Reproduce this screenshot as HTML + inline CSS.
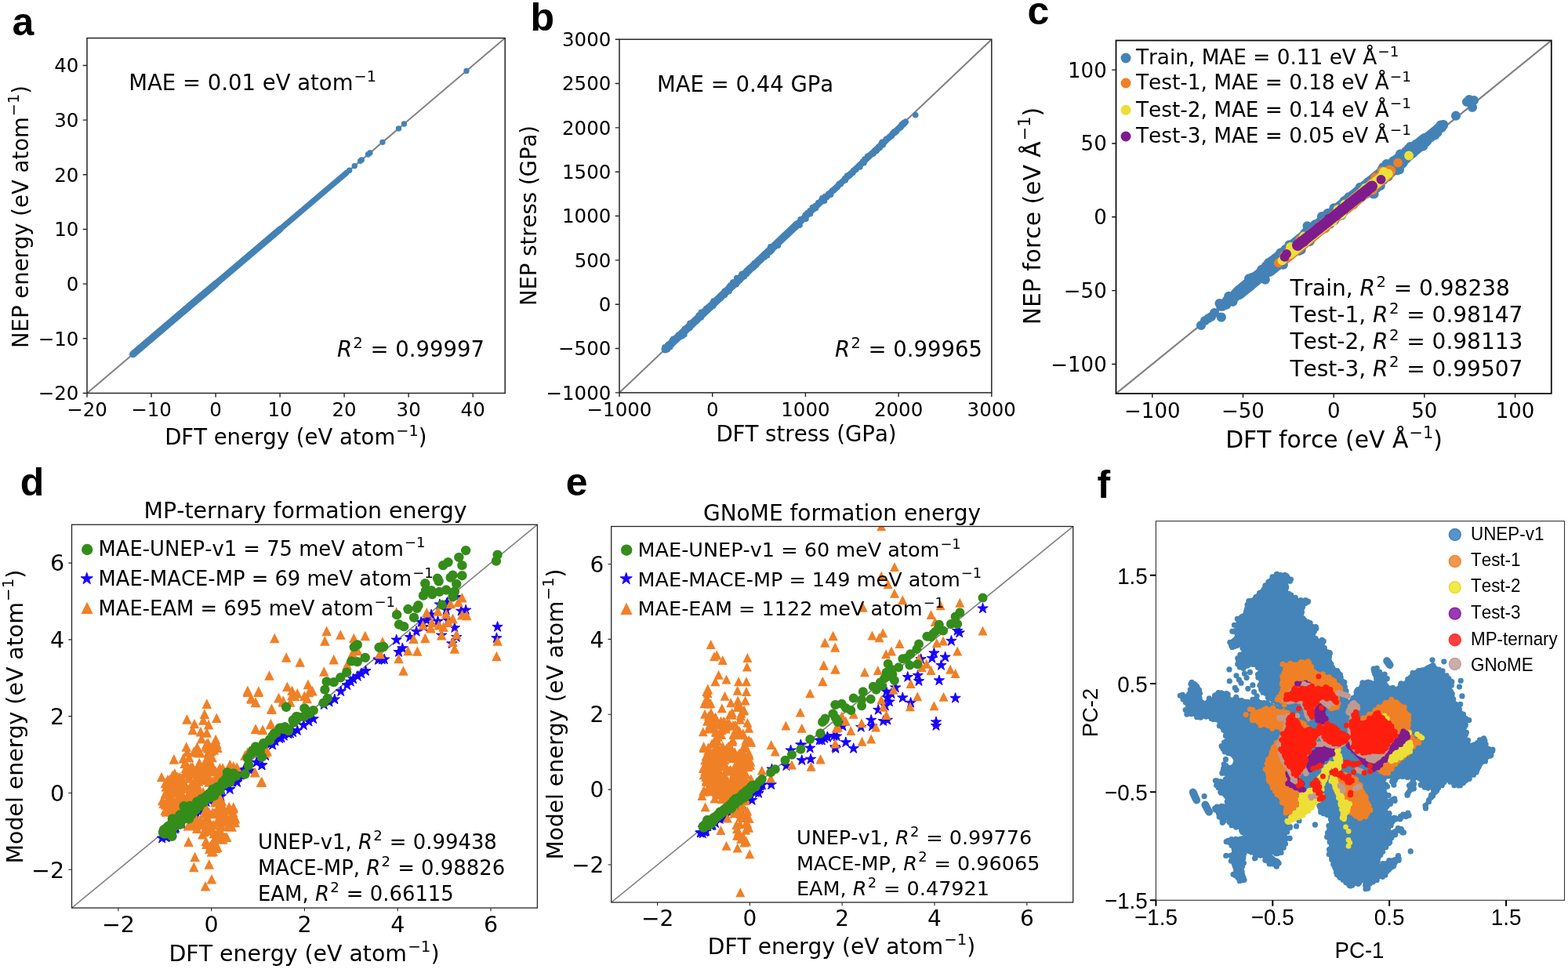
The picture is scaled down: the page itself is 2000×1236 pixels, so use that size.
<!DOCTYPE html>
<html lang="en"><head><meta charset="utf-8"><title>Figure</title>
<style>html,body{margin:0;padding:0;background:#fff}svg{display:block}text{white-space:pre;font-kerning:none}</style></head><body>
<svg width="2000" height="1236" viewBox="0 0 2000 1236">
<rect width="2000" height="1236" fill="#fff"/>
<text x="15.5" y="44.5" font-size="50" text-anchor="start" font-family='"Liberation Sans", "DejaVu Sans", sans-serif' font-weight="bold" fill="#000">a</text>
<text x="676.5" y="39" font-size="50" text-anchor="start" font-family='"Liberation Sans", "DejaVu Sans", sans-serif' font-weight="bold" fill="#000">b</text>
<text x="1310.5" y="31" font-size="50" text-anchor="start" font-family='"Liberation Sans", "DejaVu Sans", sans-serif' font-weight="bold" fill="#000">c</text>
<text x="25.7" y="631.5" font-size="50" text-anchor="start" font-family='"Liberation Sans", "DejaVu Sans", sans-serif' font-weight="bold" fill="#000">d</text>
<text x="721.7" y="632" font-size="50" text-anchor="start" font-family='"Liberation Sans", "DejaVu Sans", sans-serif' font-weight="bold" fill="#000">e</text>
<text x="1399.5" y="634.5" font-size="50" text-anchor="start" font-family='"Liberation Sans", "DejaVu Sans", sans-serif' font-weight="bold" fill="#000">f</text>
<clipPath id="cA"><rect x="111" y="48.6" width="533.2" height="452.9"/></clipPath><g clip-path="url(#cA)">
<line x1="111" y1="501.5" x2="644.2" y2="48.6" stroke="#808080" stroke-width="2"/>
<line x1="169.24" y1="452.03" x2="441.58" y2="220.7" stroke="#4482b6" stroke-width="7.4" stroke-linecap="round"/>
<line x1="169.65" y1="451.68" x2="275.06" y2="362.15" stroke="#4482b6" stroke-width="9.2" stroke-linecap="round"/>
<line x1="234.05" y1="396.98" x2="357.09" y2="292.47" stroke="#4482b6" stroke-width="8.4" stroke-linecap="round"/>
<path d="M445.69 217.22h0M452.25 211.64h0M459.63 205.37h0M461.27 203.98h0M469.47 197.01h0M471.94 194.92h0M487.93 181.33h0M508.44 163.92h0M515.41 157.99h0M594.98 90.41h0" stroke="#4482b6" stroke-width="7.4" stroke-linecap="round" fill="none"/>
</g>
<rect x="111" y="48.6" width="533.2" height="452.9" fill="none" stroke="#262626" stroke-width="1.5"/>
<path d="M111 501.5v5.3M193.03 501.5v5.3M275.06 501.5v5.3M357.09 501.5v5.3M439.12 501.5v5.3M521.15 501.5v5.3M603.18 501.5v5.3M111 501.5h-5.3M111 431.82h-5.3M111 362.15h-5.3M111 292.47h-5.3M111 222.79h-5.3M111 153.12h-5.3M111 83.44h-5.3" stroke="#262626" stroke-width="1.4" fill="none"/>
<text x="111" y="530.8" font-size="24.5" text-anchor="middle" font-family='"DejaVu Sans", "Liberation Sans", sans-serif' fill="#000">−20</text>
<text x="193.03" y="530.8" font-size="24.5" text-anchor="middle" font-family='"DejaVu Sans", "Liberation Sans", sans-serif' fill="#000">−10</text>
<text x="275.06" y="530.8" font-size="24.5" text-anchor="middle" font-family='"DejaVu Sans", "Liberation Sans", sans-serif' fill="#000">0</text>
<text x="357.09" y="530.8" font-size="24.5" text-anchor="middle" font-family='"DejaVu Sans", "Liberation Sans", sans-serif' fill="#000">10</text>
<text x="439.12" y="530.8" font-size="24.5" text-anchor="middle" font-family='"DejaVu Sans", "Liberation Sans", sans-serif' fill="#000">20</text>
<text x="521.15" y="530.8" font-size="24.5" text-anchor="middle" font-family='"DejaVu Sans", "Liberation Sans", sans-serif' fill="#000">30</text>
<text x="603.18" y="530.8" font-size="24.5" text-anchor="middle" font-family='"DejaVu Sans", "Liberation Sans", sans-serif' fill="#000">40</text>
<text x="100.4" y="510.43" font-size="24.5" text-anchor="end" font-family='"DejaVu Sans", "Liberation Sans", sans-serif' fill="#000">−20</text>
<text x="100.4" y="440.75" font-size="24.5" text-anchor="end" font-family='"DejaVu Sans", "Liberation Sans", sans-serif' fill="#000">−10</text>
<text x="100.4" y="371.08" font-size="24.5" text-anchor="end" font-family='"DejaVu Sans", "Liberation Sans", sans-serif' fill="#000">0</text>
<text x="100.4" y="301.4" font-size="24.5" text-anchor="end" font-family='"DejaVu Sans", "Liberation Sans", sans-serif' fill="#000">10</text>
<text x="100.4" y="231.72" font-size="24.5" text-anchor="end" font-family='"DejaVu Sans", "Liberation Sans", sans-serif' fill="#000">20</text>
<text x="100.4" y="162.05" font-size="24.5" text-anchor="end" font-family='"DejaVu Sans", "Liberation Sans", sans-serif' fill="#000">30</text>
<text x="100.4" y="92.37" font-size="24.5" text-anchor="end" font-family='"DejaVu Sans", "Liberation Sans", sans-serif' fill="#000">40</text>
<text x="164.3" y="115" font-size="27.5" text-anchor="start" font-family='"DejaVu Sans", "Liberation Sans", sans-serif' fill="#000">MAE = 0.01 eV atom<tspan dy="-11.27" dx="1.1" font-size="19.25">−1</tspan></text>
<text x="430" y="455" font-size="27.5" text-anchor="start" font-family='"DejaVu Sans", "Liberation Sans", sans-serif' fill="#000"><tspan font-style="italic">R</tspan><tspan dy="-11.27" dx="1.38" font-size="19.25">2</tspan><tspan dy="11.27" dx="0.96"> = 0.99997</tspan></text>
<text x="377.3" y="567.3" font-size="27.5" text-anchor="middle" font-family='"DejaVu Sans", "Liberation Sans", sans-serif' fill="#000">DFT energy (eV atom<tspan dy="-11.27" dx="1.1" font-size="19.25">−1</tspan><tspan dy="11.27">)</tspan></text>
<text x="35.5" y="276.5" font-size="27.5" text-anchor="middle" font-family='"DejaVu Sans", "Liberation Sans", sans-serif' transform="rotate(-90 35.5 276.5)" fill="#000">NEP energy (eV atom<tspan dy="-11.27" dx="1.1" font-size="19.25">−1</tspan><tspan dy="11.27">)</tspan></text>
<clipPath id="cB"><rect x="790" y="50.2" width="474.8" height="450.7"/></clipPath><g clip-path="url(#cB)">
<line x1="790" y1="500.9" x2="1264.8" y2="50.2" stroke="#808080" stroke-width="2"/>
<line x1="848.5" y1="445.5" x2="1155" y2="155.5" stroke="#4482b6" stroke-width="8" stroke-linecap="round"/>
<line x1="848.5" y1="445.5" x2="1017.08" y2="286" stroke="#4482b6" stroke-width="10" stroke-linecap="round"/>
<path d="M1138.71 170.53h0M864.49 430.58h0M1095.62 211.85h0M924.42 376.25h0M1017.29 287.35h0M882.83 414.53h0M961.07 341.06h0M1152.52 156.69h0M1137.11 173.68h0M911.95 385.99h0M853.11 439.03h0M925.98 371.86h0M943.68 353.84h0M1002.11 301.35h0M901.94 393.37h0M876.52 418.74h0M984.01 314.91h0M888.15 408.01h0M1115.99 191.82h0M1121.94 188.72h0M1069.85 235.75h0M1148.55 162.67h0M1140.51 168.15h0M1052.48 250.5h0M970.58 331.85h0M1127.7 181.6h0M981.82 318.63h0M1112.95 196.32h0M1119.27 190.87h0M1125.74 182.8h0M1056.94 249.27h0M927.91 370.26h0M1047.35 255.79h0M910 383.98h0M1123.27 186.66h0M1048.75 252.71h0M984.42 319.19h0M1010.67 292.31h0M923.94 373.58h0M1130.24 177.52h0M1021.07 279.76h0M1056.61 247.41h0M1120.99 186.94h0M857.25 434.29h0M1032.34 271.71h0M1109.35 197.8h0M871.12 427.74h0M905.38 392.17h0M895.04 400.07h0M1054.6 251.5h0M853.78 441.26h0M1038.65 264.91h0M863.74 430.67h0M1058.44 246.95h0M851.56 442.73h0M880.07 412.25h0M888.95 407.87h0M856.43 439.75h0M1151.23 158.88h0M933.54 364.66h0M1019.63 283.62h0M932.08 367.26h0M854.75 442.68h0M1061.66 243.06h0M1119.28 189.21h0M1051.52 256.23h0M973.06 327.28h0M924.25 371.3h0M870.12 428.66h0M873.78 420.36h0M1010.27 293.87h0M877.72 416.47h0M1140.3 169.51h0M955.52 341.98h0M851.47 443.68h0M858.49 436.42h0M853.49 440.32h0M1025.97 277.02h0M982.72 314.82h0M1153.13 157.55h0M902.36 395.82h0M1011.44 290.94h0M1022.23 280.39h0M909.74 390.21h0M957.74 342.3h0M854.1 440.24h0M952.23 345.31h0M903.11 391.98h0M867.5 426.95h0M897 398.42h0M989.24 313.66h0M1028.36 275.04h0M894.34 398.26h0M1059.22 248.11h0M962.07 340.21h0M857.26 437.39h0M956.63 344.23h0M866.5 428.66h0M1084.47 223.31h0M1125.79 182.03h0M1018.56 285.65h0M939.78 354.43h0M851.32 443.18h0M922.86 375.88h0M1097.41 210.1h0M966.64 333.98h0M954.41 346.42h0M1010.76 291.88h0M862.12 433h0M1130.78 177.27h0M862.51 432.2h0M1005.64 297.82h0M949.42 352.74h0M948.73 350.02h0M872.71 422.04h0M1100.54 206.67h0M1027.15 274.28h0M852.47 442.48h0M1034.18 269.42h0M982.51 321.22h0M939.19 362.63h0M911.47 385.08h0M992.31 313.3h0M1084.3 221.93h0M1129.92 178.7h0M902.13 396.05h0M978.38 322.71h0M1040.4 262.41h0M1126.28 184.63h0M867.79 429.03h0M936.79 361.01h0M955.73 344.05h0M858.7 432.39h0M1150.19 158.78h0M1030.21 272.72h0M900.97 394.77h0M1038.62 266.27h0M990.4 312.78h0M872.88 426.86h0M1067.96 238.71h0M868.43 429.61h0M908.75 388.79h0M1117.71 192.68h0M951.53 347.38h0M1153.06 157.03h0M879.83 418.23h0M962.23 335.73h0M1111.91 195.96h0M888.81 409.46h0M952.14 347.56h0M1050.85 252.01h0M973.64 328.07h0M1141.55 169.19h0M1033.09 268.73h0M1069.27 236.03h0M1022.05 282.15h0M952.55 349.34h0M1027.93 279.26h0M851.44 445.68h0M1112.35 195.42h0M1031.25 272.48h0M1134.34 175.25h0M1059.6 248.15h0M1113.94 196.05h0M867.3 426.42h0M894.22 405.08h0M1063.91 242.46h0M1084.7 222.47h0M877.68 419.39h0M908.22 390.23h0M1003.85 299.53h0M1142.74 166.93h0M860.63 431.84h0M1096.13 211.18h0M1034.09 269.85h0M1040.51 265.49h0M931.08 367.58h0M851.49 440.42h0M863.24 431.53h0M1066.04 240.53h0M1078.35 229.7h0M1078.01 227.2h0M1105.44 201.88h0M944.61 353.81h0M970.71 329.93h0M1000.4 301.57h0M1143.36 167.5h0M944.41 353.2h0M963.33 335.88h0M1031.42 273.34h0M978.46 325.99h0M863.07 432.72h0M1091.91 215.83h0M1080.63 224.05h0M1033.53 272.63h0M865.09 427.55h0M1026.37 278.62h0M1100.53 206.04h0M1082.64 224.76h0M902.4 395.62h0M968.36 331.94h0M1139.05 169.63h0M870.27 424.14h0M940.58 359.88h0M925.28 371.16h0M883.68 411.26h0M964.02 337.11h0M1125.19 181.19h0M964.77 337.9h0M929.95 371.5h0M867.69 427.25h0M1040.46 262.94h0M943.53 357.45h0M900.66 393.64h0M1086.45 221.26h0M1091.79 216.3h0M931.74 363.91h0M984 319.8h0M1043.73 258.54h0M1066.23 240.21h0M1106.6 199.33h0M1147.7 163.18h0M919.29 380.4h0M941.56 359.21h0M948.14 349.31h0M934.75 360.08h0M974.06 325.89h0M1140.83 169.38h0M873.43 420.21h0M938.06 360.48h0M1124.19 183.1h0M962.75 339.26h0M995.57 306.1h0M945.91 350.17h0M916.68 381.64h0M925.9 373.02h0M1127.77 180.7h0M893.81 402.07h0M907.44 390.92h0M932.97 364.95h0M905.52 391.4h0M930.26 365.78h0M942.26 356.72h0M878.79 417.49h0M1102 207.68h0M874.99 419.06h0M988.9 311.85h0M1072.36 234.71h0M1020.03 287.28h0M946.45 349.28h0M974.08 327.71h0M1096.69 211.45h0M1014.52 290.02h0M1149.85 161.14h0M1150.59 158.98h0M954.96 346.31h0M989.52 311.35h0M1153.18 157.07h0M873.26 419.48h0M1124.4 185.17h0M863.29 432.67h0M847.94 442.8h0M869.57 426.25h0M878.71 416h0M1036.35 264.52h0M1030 271.64h0M856.3 436.98h0M976.35 325.24h0M1000.36 300.64h0M858.18 434.62h0M891.36 402.01h0M989.99 313.06h0M1041.8 262.05h0M979.7 321.99h0M875.1 419.67h0M895.8 400.17h0M857.36 436.72h0M1021.39 280.49h0M1102.92 203.09h0M984.9 317.87h0M1124.58 183.98h0M1089.01 217.4h0M1023.41 279.65h0M919.2 376.96h0M960.84 340.7h0M1081.91 224.07h0M1087.74 220.52h0M916.68 381.75h0M1070.37 234.59h0M1049.38 255.52h0M1048.05 256.88h0M998.8 303.61h0M893.06 402.52h0M1028.72 273.17h0M1023.08 280.43h0M975.25 328.08h0M856.23 437.7h0M1096.73 213.04h0M1013.42 288.48h0M869.64 425.2h0M1167.7 146.8h0" stroke="#4482b6" stroke-width="7.6" stroke-linecap="round" fill="none"/>
</g>
<rect x="790" y="50.2" width="474.8" height="450.7" fill="none" stroke="#262626" stroke-width="1.5"/>
<path d="M790 500.9v5.3M908.7 500.9v5.3M1027.4 500.9v5.3M1146.1 500.9v5.3M1264.8 500.9v5.3M790 500.9h-5.3M790 444.56h-5.3M790 388.22h-5.3M790 331.89h-5.3M790 275.55h-5.3M790 219.21h-5.3M790 162.88h-5.3M790 106.54h-5.3M790 50.2h-5.3" stroke="#262626" stroke-width="1.4" fill="none"/>
<text x="790" y="530.8" font-size="24.5" text-anchor="middle" font-family='"DejaVu Sans", "Liberation Sans", sans-serif' fill="#000">−1000</text>
<text x="908.7" y="530.8" font-size="24.5" text-anchor="middle" font-family='"DejaVu Sans", "Liberation Sans", sans-serif' fill="#000">0</text>
<text x="1027.4" y="530.8" font-size="24.5" text-anchor="middle" font-family='"DejaVu Sans", "Liberation Sans", sans-serif' fill="#000">1000</text>
<text x="1146.1" y="530.8" font-size="24.5" text-anchor="middle" font-family='"DejaVu Sans", "Liberation Sans", sans-serif' fill="#000">2000</text>
<text x="1264.8" y="530.8" font-size="24.5" text-anchor="middle" font-family='"DejaVu Sans", "Liberation Sans", sans-serif' fill="#000">3000</text>
<text x="779.4" y="509.83" font-size="24.5" text-anchor="end" font-family='"DejaVu Sans", "Liberation Sans", sans-serif' fill="#000">−1000</text>
<text x="779.4" y="453.49" font-size="24.5" text-anchor="end" font-family='"DejaVu Sans", "Liberation Sans", sans-serif' fill="#000">−500</text>
<text x="779.4" y="397.16" font-size="24.5" text-anchor="end" font-family='"DejaVu Sans", "Liberation Sans", sans-serif' fill="#000">0</text>
<text x="779.4" y="340.82" font-size="24.5" text-anchor="end" font-family='"DejaVu Sans", "Liberation Sans", sans-serif' fill="#000">500</text>
<text x="779.4" y="284.48" font-size="24.5" text-anchor="end" font-family='"DejaVu Sans", "Liberation Sans", sans-serif' fill="#000">1000</text>
<text x="779.4" y="228.14" font-size="24.5" text-anchor="end" font-family='"DejaVu Sans", "Liberation Sans", sans-serif' fill="#000">1500</text>
<text x="779.4" y="171.81" font-size="24.5" text-anchor="end" font-family='"DejaVu Sans", "Liberation Sans", sans-serif' fill="#000">2000</text>
<text x="779.4" y="115.47" font-size="24.5" text-anchor="end" font-family='"DejaVu Sans", "Liberation Sans", sans-serif' fill="#000">2500</text>
<text x="779.4" y="59.13" font-size="24.5" text-anchor="end" font-family='"DejaVu Sans", "Liberation Sans", sans-serif' fill="#000">3000</text>
<text x="838" y="116.6" font-size="27.5" text-anchor="start" font-family='"DejaVu Sans", "Liberation Sans", sans-serif' fill="#000">MAE = 0.44 GPa</text>
<text x="1065" y="455" font-size="27.5" text-anchor="start" font-family='"DejaVu Sans", "Liberation Sans", sans-serif' fill="#000"><tspan font-style="italic">R</tspan><tspan dy="-11.27" dx="1.38" font-size="19.25">2</tspan><tspan dy="11.27" dx="0.96"> = 0.99965</tspan></text>
<text x="1028.5" y="563" font-size="27.6" text-anchor="middle" font-family='"DejaVu Sans", "Liberation Sans", sans-serif' fill="#000">DFT stress (GPa)</text>
<text x="684" y="275" font-size="27.5" text-anchor="middle" font-family='"DejaVu Sans", "Liberation Sans", sans-serif' transform="rotate(-90 684 275)" fill="#000">NEP stress (GPa)</text>
<clipPath id="cC"><rect x="1423.5" y="51.6" width="555.3" height="450.4"/></clipPath><g clip-path="url(#cC)">
<line x1="1423.5" y1="502" x2="1978.8" y2="51.6" stroke="#808080" stroke-width="2.2"/>
<line x1="1559" y1="390" x2="1840" y2="160" stroke="#4482b6" stroke-width="13.5" stroke-linecap="round"/>
<line x1="1580" y1="373.5" x2="1818" y2="178.5" stroke="#4482b6" stroke-width="17.5" stroke-linecap="round"/>
<line x1="1618" y1="342.5" x2="1786" y2="205" stroke="#4482b6" stroke-width="21" stroke-linecap="round"/>
<path d="M1626.05 337.7h0M1729.2 251.26h0M1734.8 245.44h0M1795.16 196.25h0M1630.31 330.49h0M1686.01 276.09h0M1797.03 199.12h0M1599.54 356.03h0M1736.42 242.11h0M1769.19 220.39h0M1745.76 232.3h0M1724.21 252.6h0M1639.85 317.81h0M1690.93 280.66h0M1759.84 221.98h0M1820.64 178.83h0M1668.87 298.87h0M1824.67 175.34h0M1806.39 185.94h0M1618.28 340.39h0M1833.56 168.84h0M1641.84 320.39h0M1702.33 274.56h0M1722.56 254.09h0M1721.4 253.15h0M1822.53 176.58h0M1798.48 189.31h0M1603.52 353.65h0M1798.77 187.21h0M1719.61 259.75h0M1759.42 224.37h0M1717.5 254.61h0M1635.44 321.89h0M1837.49 159.52h0M1581.72 370.3h0M1601.32 358.11h0M1640.26 322.6h0M1572.51 384.79h0M1729.61 245.59h0M1650.51 313.6h0M1805.9 184.15h0M1841.29 159.1h0M1643.36 317.21h0M1565.01 383.07h0M1614.83 347.56h0M1600.34 353.77h0M1568.22 380.57h0M1830.67 169.27h0M1813.26 184h0M1703.84 268.95h0M1741.72 243.35h0M1734.48 248.3h0M1826.15 174.22h0M1762 223.75h0M1625.88 337.68h0M1701.44 265.42h0M1711.52 261.88h0M1721.89 256.24h0M1564.24 388.71h0M1575.46 379.17h0M1737.63 247.95h0M1656.85 308.78h0M1758.15 226.81h0M1574.54 377.76h0M1748.25 232.67h0M1687.07 285.49h0M1726.21 254.13h0M1644.7 317.12h0M1663.04 306.73h0M1665 304.47h0M1774.85 209.28h0M1765.84 219.82h0M1644.75 318.71h0M1622.32 332.72h0M1612.38 350.37h0M1585.08 366.68h0M1649.99 318.17h0M1679.35 286.43h0M1799.76 191.38h0M1740.84 238.59h0M1809.75 186.53h0M1591.09 362.94h0M1706.72 266.92h0M1793.08 193.13h0M1609.7 349.3h0M1737.03 238.75h0M1786.81 204.17h0M1639.42 322.7h0M1783.03 206.75h0M1674.28 292.73h0M1679.19 297.07h0M1599.62 353h0M1555.51 386.98h0M1838.82 162.83h0M1677.4 286.42h0M1621.21 341.01h0M1767.99 216.43h0M1706.5 272.81h0M1639.8 324.85h0M1575.49 374.57h0M1725.09 255.09h0M1567.24 377.84h0M1815.22 182.36h0M1815.18 186.39h0M1813.17 182.13h0M1769.15 217.98h0M1606.55 352.27h0M1704.31 266.69h0M1672.85 292.82h0M1654.86 312.88h0M1627.76 331.37h0M1780.84 210.77h0M1656.51 308.81h0M1787.68 199.1h0M1604.88 350.55h0M1789.5 207.57h0M1789.24 197.12h0M1802.3 190.41h0M1571.36 380.05h0M1705.87 267.25h0M1679.83 295.98h0M1557.09 390.56h0M1572.07 378.08h0M1575.93 374.9h0M1833.92 163.94h0M1700.34 275.1h0M1647.41 318.55h0M1739.8 239.25h0M1724.5 255.56h0M1649.81 314.01h0M1594.38 365.32h0M1665.97 303.87h0M1579.12 372.14h0M1727.69 249.12h0M1781.57 211.48h0M1732.43 244.17h0M1680.98 292.39h0M1755.74 226.23h0M1677.19 294.2h0M1628.25 336.25h0M1709.64 266.88h0M1678.41 293.15h0M1675.67 289.24h0M1665.82 307.17h0M1812.15 181.95h0M1690.15 284.7h0M1591.2 361.79h0M1811.43 187.17h0M1783.63 208.29h0M1719.47 262.64h0M1586.46 367.62h0M1597.91 358.15h0M1776.67 210.34h0M1585.07 368.15h0M1807.36 186.18h0M1796.13 195.07h0M1590.29 361.76h0M1796.71 198.88h0M1830.25 172.39h0M1568.56 384.57h0M1762.04 230.78h0M1613.71 346.07h0M1754.11 229.38h0M1661.62 306.99h0M1713.36 262.62h0M1630.88 334.27h0M1647.52 323.1h0M1678.88 296.89h0M1672.34 300.69h0M1680.87 288.33h0M1613.77 356.67h0M1680.83 290.7h0M1752.78 228.45h0M1753.72 225.69h0M1740.56 246.54h0M1731.7 249.57h0M1786.89 202.81h0M1753.86 229.44h0M1793.83 202.67h0M1748.4 235.89h0M1631.09 331.68h0M1717.49 257.95h0M1658.92 307.91h0M1796.67 189.61h0M1655.67 312.45h0M1779.81 213.8h0M1718.78 259.95h0M1593.68 359.11h0M1696.41 279.82h0M1668.47 299.09h0M1660.68 306.82h0M1809.18 187.94h0M1697.36 280.94h0M1774.94 216.39h0M1772.93 219.77h0M1749.37 236.27h0M1781.13 214.07h0M1799.32 189.79h0M1692.64 280.64h0M1746.42 234.02h0M1734.74 238.74h0M1644.28 322.67h0M1631.79 330.95h0M1743.74 236.56h0M1777.63 208.92h0M1781.24 210.4h0M1661.85 312.13h0M1607.39 347.68h0M1609.53 347.29h0M1669.92 302.58h0M1717.77 260.68h0M1663.87 305h0M1687.35 288.17h0M1718.6 259.53h0M1802.14 195.44h0M1614.61 341.58h0M1650.95 316.16h0M1786.04 206.35h0M1785.97 196.59h0M1669.57 294.27h0M1759.85 225.87h0M1740.39 245.41h0M1733.35 246.59h0M1757.42 231.07h0M1802.66 193.39h0M1617.15 347.32h0M1700.58 278.46h0M1736.7 239.71h0M1713.4 261.57h0M1726.14 248.19h0M1627.12 329.98h0M1618.98 345.14h0M1793.86 195.87h0M1747.09 233.59h0M1724.19 260.83h0M1691.68 283.82h0M1658.4 308.34h0M1746.8 235.31h0M1759.19 233.11h0M1669.92 301.43h0M1651.54 320.88h0M1596.51 354.06h0M1700.98 274.08h0M1664.44 297.02h0M1665.31 307.62h0M1758.33 224.33h0M1667.07 300.79h0M1650.32 317.3h0M1609.25 343.79h0M1747.71 231.29h0M1629.88 330.77h0M1751.58 228.82h0M1769.49 218.19h0M1624.94 341.95h0M1676.79 292.23h0M1712.71 259.85h0M1634.46 328.63h0M1593.08 355.26h0M1762.86 215.74h0M1677.42 299.85h0M1714.06 268.57h0M1806.37 190.89h0M1742.29 242.91h0M1692.67 273.19h0M1722.32 256.78h0M1759.64 226.49h0M1738.09 248.86h0M1691.19 281.95h0M1633.1 330.85h0M1700.2 275.05h0M1734.57 251.73h0M1800.09 191.28h0M1783.88 201.54h0M1724.42 249.51h0M1602.07 357.04h0M1605.99 349.6h0M1706.93 266.02h0M1782.28 209.24h0M1740.16 236.71h0M1719.25 253.14h0M1794.64 199.01h0M1668.84 307.12h0M1763.81 215.32h0M1687.82 288.38h0M1757.48 229.95h0M1599.3 357.2h0M1606.78 350.52h0M1698.23 274.12h0M1745.9 241.65h0M1733.33 248.74h0M1660.35 314.23h0M1677.56 291.81h0M1627.12 329.31h0M1672.63 301.29h0M1674.3 301.5h0M1639.75 325.32h0M1589.69 363.41h0M1618.14 334.99h0M1690.73 281.63h0M1626.26 332.66h0M1678.59 292.04h0M1613.8 344.68h0M1627.72 335.59h0M1594.89 360.91h0M1691.21 287.59h0M1599.51 353.68h0M1679.1 292.86h0M1802.13 190.86h0M1636.25 323.26h0M1624.96 333.77h0M1727.53 253.68h0M1600.56 354.61h0M1750.65 234.7h0M1688.86 276.92h0M1795.72 197.66h0M1647.02 315.37h0M1770.51 219.93h0M1611.97 349.78h0M1737.46 238.91h0M1591.33 364.98h0M1623.6 335.39h0M1625.1 335.13h0M1631.81 337.61h0M1657 319.89h0M1782.28 217.49h0M1767.95 218.64h0M1770.19 213.86h0M1717.86 260.02h0M1771.54 213.39h0M1756.58 227.04h0M1640.34 327.96h0M1728.71 249.11h0M1768.53 215.65h0M1735.2 239.23h0M1760.8 236.91h0M1680.67 295.23h0M1686.62 285.35h0M1693.49 271.98h0M1661.7 302.91h0M1714.58 256.41h0M1737.34 249.55h0M1643.02 318.27h0M1732.32 243.4h0M1742.46 240.01h0M1728.2 249.39h0M1755.6 227.91h0M1720.35 251.35h0M1696.44 285.73h0M1765.54 222.46h0M1682.22 294.74h0M1636.77 337.69h0M1633.27 322.52h0M1711.36 264.64h0M1724.5 254.18h0M1657.6 307.41h0M1723.98 255.06h0M1713.03 261.18h0M1776.56 212.68h0M1658.09 314.82h0M1747.56 238.73h0M1717.15 260h0M1653.52 319.79h0M1644.61 312.38h0M1635.97 323.33h0M1622.24 335.8h0M1765.07 223.07h0M1635.65 331.78h0M1753.98 230.62h0M1722.39 262.75h0M1764.55 229.58h0M1678.25 297.83h0M1639.63 328.33h0M1759.19 235.03h0M1655.97 316.88h0M1711.33 274.43h0M1631.6 329.65h0M1677.05 296.32h0M1709.44 267.65h0M1742.36 247.53h0M1716.44 258.64h0M1659.64 318.66h0M1667.55 288.33h0M1688.26 282.04h0M1645.88 318h0M1771.58 218.59h0M1784.93 216.52h0M1716.32 256.41h0M1689.15 287.12h0M1768.51 209.17h0M1701.98 281.17h0M1752.56 247.4h0M1764.28 213.18h0M1665.83 300.49h0M1636.18 329.09h0M1737.86 246.32h0M1720.61 252.69h0M1626.63 335.7h0M1692.08 286.19h0M1676.06 295.57h0M1670.74 308.06h0M1637.54 328.28h0M1630.08 327.69h0M1644.51 320.32h0M1782.1 216.42h0M1776.96 209.07h0M1647.85 321.72h0M1673.55 303.35h0M1707.11 268.31h0M1677.03 291.81h0M1696.69 281.66h0M1762.92 222.58h0M1661.29 311.29h0M1749.34 232.48h0M1705.91 270.56h0M1706.39 269.5h0M1652.34 313.12h0M1751.63 247.4h0M1745.75 235.08h0M1777.06 209.32h0M1621.78 338.82h0M1690.47 284.24h0M1707.76 267.8h0M1635.92 329.45h0M1748.18 232.56h0M1687.8 285.65h0M1688.83 283.16h0M1724.18 260.95h0M1755.97 239.96h0M1657.27 304.79h0M1744.69 232.46h0M1700.87 271.67h0M1668.1 307.38h0M1643.72 314.22h0M1764.92 221.68h0M1770.47 225.42h0M1769.68 217.03h0M1753.96 235.7h0M1705.56 274.24h0M1646.1 316.45h0M1777.22 205.26h0M1877 132h0M1874 127h0M1880 128h0M1871 130h0M1878 137h0M1857 147.7h0M1532 415h0M1537 409h0M1541.5 406h0M1545 404h0M1557.8 404.6h0M1549 399h0" stroke="#4482b6" stroke-width="12.2" stroke-linecap="round" fill="none"/>
<line x1="1640" y1="327.5" x2="1771" y2="220" stroke="#f08026" stroke-width="16.5" stroke-linecap="round"/>
<path d="M1713.13 268.96h0M1698.52 277.28h0M1750.98 242.58h0M1656.55 311.03h0M1681.2 295.84h0M1754.5 233.22h0M1749.29 233.53h0M1641.06 327.49h0M1717.39 266.38h0M1675.4 298.7h0M1734.05 248.46h0M1729.29 254.19h0M1690.56 291.27h0M1769.76 220.86h0M1724.39 255.34h0M1658.22 305.75h0M1688.71 285.6h0M1674.73 300.43h0M1766.89 220.32h0M1690.98 285.77h0M1674.47 296.98h0M1771.47 217.31h0M1646.9 320.82h0M1646.13 319.81h0M1709.27 270.15h0M1726.39 261.3h0M1748.54 235.39h0M1769.56 220.38h0M1645.82 322.31h0M1671.64 297.52h0M1710.93 266.55h0M1768.8 220.47h0M1655.32 312.68h0M1774.49 217.41h0M1730.24 253.66h0M1644.2 324.53h0M1741.16 242.93h0M1749.55 235.23h0M1754.21 226.14h0M1709.25 267.74h0M1688.07 285.09h0M1772.4 216.37h0M1674.5 297.35h0M1653.07 314.83h0M1684.51 289.24h0M1662.97 308.46h0M1762.66 218.16h0M1670.26 302.05h0M1683.73 287.73h0M1734.26 250.41h0M1783 207.7h0M1630.8 335.4h0" stroke="#f08026" stroke-width="11.8" stroke-linecap="round" fill="none"/>
<line x1="1645" y1="323" x2="1766" y2="224" stroke="#ece036" stroke-width="14.5" stroke-linecap="round"/>
<path d="M1679.57 292.07h0M1737.11 246.76h0M1742.94 244.9h0M1710.55 270.14h0M1699.85 282.53h0M1666.58 306.18h0M1715.01 260.67h0M1664.34 309.03h0M1764.84 223.41h0M1675.22 299.34h0M1662.98 301.31h0M1692.06 281.81h0M1753.29 233.43h0M1752.93 233.76h0M1741.29 239.7h0M1708.38 270.92h0M1738.26 243.42h0M1696.48 278.74h0M1659.93 312.44h0M1706.49 273.62h0M1689.05 287.64h0M1717.05 261.37h0M1765.14 219.26h0M1749.57 238.83h0M1676.29 295.1h0M1656.16 314h0M1705.23 273.57h0M1725.04 259.36h0M1675.35 295.12h0M1702.41 276.22h0M1706.45 266.93h0M1711.34 273.66h0M1697.76 280.19h0M1695.64 281.87h0M1750.1 236.23h0M1751.52 236.1h0M1688.72 284.44h0M1668.05 304.21h0M1710.33 267.07h0M1753.67 235.27h0M1797 198.5h0M1770.8 221.5h0M1764.6 221h0M1635.4 332.3h0M1646 315h0" stroke="#ece036" stroke-width="11.8" stroke-linecap="round" fill="none"/>
<line x1="1655" y1="313" x2="1750" y2="237.5" stroke="#7e1c8e" stroke-width="14" stroke-linecap="round"/>
<path d="M1723.34 259.65h0M1702.62 274.58h0M1693.33 284.07h0M1738.24 245.8h0M1710.42 268.66h0M1689.63 285h0M1713.46 266.46h0M1684.91 289.06h0M1680.69 291.25h0M1743.23 242.88h0M1705.93 272.97h0M1736.42 250.96h0M1743.44 244.8h0M1665.37 304.28h0M1739.87 246.88h0M1739.87 244.83h0M1681.39 291.38h0M1711.01 266.53h0M1661.66 306.75h0M1654.62 313.3h0M1734.54 249.65h0M1691.26 283.49h0M1704.43 275.6h0M1717.64 262.74h0M1694.89 278.63h0M1720.06 259.53h0M1663.08 308.79h0M1749.83 237.16h0M1659.69 308.02h0M1694.9 281.44h0M1740.5 244.81h0M1695.11 282.38h0M1710.23 268.73h0M1692.29 284.18h0M1662.67 307.3h0M1744.81 242.14h0M1705.04 273.97h0M1676.64 296.27h0M1698.99 277.3h0M1682.21 292.85h0M1749.66 238.89h0M1674.28 299.23h0M1682.69 290.67h0M1705.76 273.31h0M1714.79 267.08h0M1741.42 242.87h0M1737.21 248.01h0M1660.23 309.92h0M1696.14 280.87h0M1738.15 246.43h0M1761.5 229h0M1638.5 327.7h0M1641 324h0" stroke="#7e1c8e" stroke-width="12" stroke-linecap="round" fill="none"/>
</g>
<rect x="1423.5" y="51.6" width="555.3" height="450.4" fill="none" stroke="#111" stroke-width="1.8"/>
<path d="M1469.78 502v5.3M1585.46 502v5.3M1701.15 502v5.3M1816.84 502v5.3M1932.52 502v5.3M1423.5 464.47h-5.3M1423.5 370.63h-5.3M1423.5 276.8h-5.3M1423.5 182.97h-5.3M1423.5 89.13h-5.3" stroke="#111" stroke-width="1.4" fill="none"/>
<text x="1469.78" y="532.75" font-size="26" text-anchor="middle" font-family='"DejaVu Sans", "Liberation Sans", sans-serif' fill="#000">−100</text>
<text x="1585.46" y="532.75" font-size="26" text-anchor="middle" font-family='"DejaVu Sans", "Liberation Sans", sans-serif' fill="#000">−50</text>
<text x="1701.15" y="532.75" font-size="26" text-anchor="middle" font-family='"DejaVu Sans", "Liberation Sans", sans-serif' fill="#000">0</text>
<text x="1816.84" y="532.75" font-size="26" text-anchor="middle" font-family='"DejaVu Sans", "Liberation Sans", sans-serif' fill="#000">50</text>
<text x="1932.52" y="532.75" font-size="26" text-anchor="middle" font-family='"DejaVu Sans", "Liberation Sans", sans-serif' fill="#000">100</text>
<text x="1411.7" y="473.94" font-size="26" text-anchor="end" font-family='"DejaVu Sans", "Liberation Sans", sans-serif' fill="#000">−100</text>
<text x="1411.7" y="380.11" font-size="26" text-anchor="end" font-family='"DejaVu Sans", "Liberation Sans", sans-serif' fill="#000">−50</text>
<text x="1411.7" y="286.28" font-size="26" text-anchor="end" font-family='"DejaVu Sans", "Liberation Sans", sans-serif' fill="#000">0</text>
<text x="1411.7" y="192.44" font-size="26" text-anchor="end" font-family='"DejaVu Sans", "Liberation Sans", sans-serif' fill="#000">50</text>
<text x="1411.7" y="98.61" font-size="26" text-anchor="end" font-family='"DejaVu Sans", "Liberation Sans", sans-serif' fill="#000">100</text>
<path d="M1436 74h0" stroke="#4482b6" stroke-width="13" stroke-linecap="round" fill="none"/>
<text x="1449" y="82.3" font-size="26.3" text-anchor="start" font-family='"DejaVu Sans", "Liberation Sans", sans-serif' fill="#000">Train, MAE = 0.11 eV Å<tspan dy="-10.78" dx="1.05" font-size="18.41">−1</tspan></text>
<path d="M1436 106h0" stroke="#f08026" stroke-width="13" stroke-linecap="round" fill="none"/>
<text x="1449" y="114.3" font-size="26.3" text-anchor="start" font-family='"DejaVu Sans", "Liberation Sans", sans-serif' fill="#000">Test-1, MAE = 0.18 eV Å<tspan dy="-10.78" dx="1.05" font-size="18.41">−1</tspan></text>
<path d="M1436 140.3h0" stroke="#ece036" stroke-width="13" stroke-linecap="round" fill="none"/>
<text x="1449" y="148.6" font-size="26.3" text-anchor="start" font-family='"DejaVu Sans", "Liberation Sans", sans-serif' fill="#000">Test-2, MAE = 0.14 eV Å<tspan dy="-10.78" dx="1.05" font-size="18.41">−1</tspan></text>
<path d="M1436 174h0" stroke="#7e1c8e" stroke-width="13" stroke-linecap="round" fill="none"/>
<text x="1449" y="182.3" font-size="26.3" text-anchor="start" font-family='"DejaVu Sans", "Liberation Sans", sans-serif' fill="#000">Test-3, MAE = 0.05 eV Å<tspan dy="-10.78" dx="1.05" font-size="18.41">−1</tspan></text>
<text x="1645.4" y="377" font-size="28" text-anchor="start" font-family='"DejaVu Sans", "Liberation Sans", sans-serif' fill="#000">Train, <tspan font-style="italic">R</tspan><tspan dy="-11.48" dx="1.4" font-size="19.6">2</tspan><tspan dy="11.48" dx="0.98"> = 0.98238</tspan></text>
<text x="1645.4" y="411.1" font-size="28" text-anchor="start" font-family='"DejaVu Sans", "Liberation Sans", sans-serif' fill="#000">Test-1, <tspan font-style="italic">R</tspan><tspan dy="-11.48" dx="1.4" font-size="19.6">2</tspan><tspan dy="11.48" dx="0.98"> = 0.98147</tspan></text>
<text x="1645.4" y="445.3" font-size="28" text-anchor="start" font-family='"DejaVu Sans", "Liberation Sans", sans-serif' fill="#000">Test-2, <tspan font-style="italic">R</tspan><tspan dy="-11.48" dx="1.4" font-size="19.6">2</tspan><tspan dy="11.48" dx="0.98"> = 0.98113</tspan></text>
<text x="1645.4" y="479.5" font-size="28" text-anchor="start" font-family='"DejaVu Sans", "Liberation Sans", sans-serif' fill="#000">Test-3, <tspan font-style="italic">R</tspan><tspan dy="-11.48" dx="1.4" font-size="19.6">2</tspan><tspan dy="11.48" dx="0.98"> = 0.99507</tspan></text>
<text x="1701.5" y="571" font-size="29.8" text-anchor="middle" font-family='"DejaVu Sans", "Liberation Sans", sans-serif' fill="#000">DFT force (eV Å<tspan dy="-12.22" dx="1.19" font-size="20.86">−1</tspan><tspan dy="12.22">)</tspan></text>
<text x="1326.7" y="275.5" font-size="29.8" text-anchor="middle" font-family='"DejaVu Sans", "Liberation Sans", sans-serif' transform="rotate(-90 1326.7 275.5)" fill="#000">NEP force (eV Å<tspan dy="-12.22" dx="1.19" font-size="20.86">−1</tspan><tspan dy="12.22">)</tspan></text>
<clipPath id="cD"><rect x="91.5" y="669.2" width="593.9" height="488.9"/></clipPath><g clip-path="url(#cD)">
<line x1="91.5" y1="1158.1" x2="685.4" y2="669.2" stroke="#808080" stroke-width="1.6"/>
<path d="M302.27 990.44L303.84 995.28L308.92 995.28L304.81 998.27L306.38 1003.1L302.27 1000.11L298.15 1003.1L299.72 998.27L295.61 995.28L300.69 995.28zM333.98 968.92L335.55 973.76L340.63 973.76L336.52 976.75L338.09 981.59L333.98 978.6L329.86 981.59L331.43 976.75L327.32 973.76L332.4 973.76zM345.3 941.74L346.87 946.58L351.96 946.58L347.84 949.57L349.41 954.41L345.3 951.42L341.19 954.41L342.76 949.57L338.64 946.58L343.73 946.58zM356.63 934.95L358.2 939.78L363.28 939.78L359.17 942.77L360.74 947.61L356.63 944.62L352.51 947.61L354.08 942.77L349.97 939.78L355.05 939.78zM367.95 929.29L369.52 934.12L374.61 934.12L370.49 937.11L372.06 941.95L367.95 938.96L363.84 941.95L365.41 937.11L361.29 934.12L366.38 934.12zM379.28 924.76L380.85 929.59L385.93 929.59L381.82 932.58L383.39 937.42L379.28 934.43L375.16 937.42L376.73 932.58L372.62 929.59L377.7 929.59zM387.2 917.96L388.77 922.8L393.86 922.8L389.75 925.79L391.32 930.62L387.2 927.63L383.09 930.62L384.66 925.79L380.55 922.8L385.63 922.8zM399.66 910.03L401.23 914.87L406.32 914.87L402.2 917.86L403.77 922.7L399.66 919.71L395.55 922.7L397.12 917.86L393 914.87L398.09 914.87zM413.25 891.91L414.82 896.75L419.91 896.75L415.79 899.74L417.36 904.58L413.25 901.59L409.14 904.58L410.71 899.74L406.59 896.75L411.68 896.75zM426.84 885.12L428.41 889.95L433.5 889.95L429.38 892.94L430.95 897.78L426.84 894.79L422.73 897.78L424.3 892.94L420.18 889.95L425.27 889.95zM434.77 874.93L436.34 879.76L441.43 879.76L437.31 882.75L438.88 887.59L434.77 884.6L430.65 887.59L432.22 882.75L428.11 879.76L433.2 879.76zM442.7 867L444.27 871.83L449.35 871.83L445.24 874.82L446.81 879.66L442.7 876.67L438.58 879.66L440.15 874.82L436.04 871.83L441.12 871.83zM450.62 859.07L452.19 863.91L457.28 863.91L453.17 866.9L454.74 871.73L450.62 868.74L446.51 871.73L448.08 866.9L443.97 863.91L449.05 863.91zM456.29 855.67L457.86 860.51L462.94 860.51L458.83 863.5L460.4 868.34L456.29 865.35L452.17 868.34L453.74 863.5L449.63 860.51L454.71 860.51zM466.48 848.88L468.05 853.71L473.14 853.71L469.02 856.7L470.59 861.54L466.48 858.55L462.36 861.54L463.94 856.7L459.82 853.71L464.91 853.71zM483.47 834.16L485.04 838.99L490.12 838.99L486.01 841.98L487.58 846.82L483.47 843.83L479.35 846.82L480.92 841.98L476.81 838.99L481.89 838.99zM490.26 834.16L491.83 838.99L496.92 838.99L492.8 841.98L494.37 846.82L490.26 843.83L486.15 846.82L487.72 841.98L483.6 838.99L488.69 838.99zM327.18 965.53L328.75 970.36L333.84 970.36L329.72 973.35L331.29 978.19L327.18 975.2L323.07 978.19L324.64 973.35L320.52 970.36L325.61 970.36zM313.59 976.85L315.16 981.69L320.25 981.69L316.13 984.68L317.7 989.51L313.59 986.52L309.48 989.51L311.05 984.68L306.93 981.69L312.02 981.69zM350.96 938.35L352.53 943.18L357.62 943.18L353.51 946.17L355.08 951.01L350.96 948.02L346.85 951.01L348.42 946.17L344.31 943.18L349.39 943.18zM362.29 931.55L363.86 936.39L368.95 936.39L364.83 939.38L366.4 944.21L362.29 941.22L358.17 944.21L359.74 939.38L355.63 936.39L360.72 936.39zM373.61 927.02L375.18 931.86L380.27 931.86L376.16 934.85L377.73 939.68L373.61 936.69L369.5 939.68L371.07 934.85L366.96 931.86L372.04 931.86zM394 913.43L395.57 918.27L400.66 918.27L396.54 921.26L398.11 926.09L394 923.1L389.88 926.09L391.45 921.26L387.34 918.27L392.43 918.27zM420.05 888.52L421.62 893.35L426.7 893.35L422.59 896.34L424.16 901.18L420.05 898.19L415.93 901.18L417.5 896.34L413.39 893.35L418.47 893.35zM447.23 862.47L448.8 867.3L453.88 867.3L449.77 870.29L451.34 875.13L447.23 872.14L443.11 875.13L444.68 870.29L440.57 867.3L445.65 867.3zM460.82 852.28L462.39 857.11L467.47 857.11L463.36 860.1L464.93 864.94L460.82 861.95L456.7 864.94L458.27 860.1L454.16 857.11L459.24 857.11zM634.59 792.61L636.16 797.45L641.24 797.45L637.13 800.44L638.7 805.28L634.59 802.29L630.47 805.28L632.04 800.44L627.93 797.45L633.02 797.45zM633.4 806.88L634.97 811.72L640.05 811.72L635.94 814.71L637.51 819.55L633.4 816.56L629.28 819.55L630.85 814.71L626.74 811.72L631.83 811.72zM579.89 793.8L581.46 798.64L586.54 798.64L582.43 801.63L584 806.47L579.89 803.48L575.77 806.47L577.34 801.63L573.23 798.64L578.32 798.64zM594.16 771.21L595.73 776.05L600.81 776.05L596.7 779.04L598.27 783.87L594.16 780.88L590.04 783.87L591.61 779.04L587.5 776.05L592.58 776.05zM588.21 772.4L589.78 777.24L594.87 777.24L590.75 780.23L592.33 785.06L588.21 782.07L584.1 785.06L585.67 780.23L581.55 777.24L586.64 777.24zM560.86 764.08L562.43 768.91L567.52 768.91L563.4 771.9L564.98 776.74L560.86 773.75L556.75 776.74L558.32 771.9L554.2 768.91L559.29 768.91zM570.37 761.7L571.95 766.53L577.03 766.53L572.92 769.52L574.49 774.36L570.37 771.37L566.26 774.36L567.83 769.52L563.72 766.53L568.8 766.53zM582.27 754.56L583.84 759.4L588.92 759.4L584.81 762.39L586.38 767.23L582.27 764.24L578.15 767.23L579.72 762.39L575.61 759.4L580.69 759.4zM550.16 777.16L551.73 781.99L556.82 781.99L552.7 784.98L554.27 789.82L550.16 786.83L546.04 789.82L547.62 784.98L543.5 781.99L548.59 781.99zM544.21 784.29L545.78 789.13L550.87 789.13L546.76 792.12L548.33 796.95L544.21 793.96L540.1 796.95L541.67 792.12L537.56 789.13L542.64 789.13zM537.08 786.67L538.65 791.51L543.74 791.51L539.62 794.5L541.19 799.33L537.08 796.34L532.96 799.33L534.54 794.5L530.42 791.51L535.51 791.51zM558.48 785.48L560.05 790.32L565.14 790.32L561.03 793.31L562.6 798.14L558.48 795.15L554.37 798.14L555.94 793.31L551.83 790.32L556.91 790.32zM531.13 798.56L532.7 803.4L537.79 803.4L533.68 806.39L535.25 811.22L531.13 808.23L527.02 811.22L528.59 806.39L524.48 803.4L529.56 803.4zM522.81 805.7L524.38 810.53L529.47 810.53L525.35 813.52L526.92 818.36L522.81 815.37L518.69 818.36L520.27 813.52L516.15 810.53L521.24 810.53zM505.69 809.26L507.26 814.1L512.34 814.1L508.23 817.09L509.8 821.93L505.69 818.94L501.57 821.93L503.14 817.09L499.03 814.1L504.11 814.1zM513.3 819.96L514.87 824.8L519.95 824.8L515.84 827.79L517.41 832.63L513.3 829.64L509.18 832.63L510.75 827.79L506.64 824.8L511.72 824.8zM508.54 824.72L510.11 829.56L515.2 829.56L511.08 832.55L512.65 837.38L508.54 834.4L504.42 837.38L506 832.55L501.88 829.56L506.97 829.56zM487.13 834.23L488.71 839.07L493.79 839.07L489.68 842.06L491.25 846.9L487.13 843.91L483.02 846.9L484.59 842.06L480.48 839.07L485.56 839.07zM482.38 834.71L483.95 839.55L489.04 839.55L484.92 842.54L486.49 847.37L482.38 844.38L478.26 847.37L479.84 842.54L475.72 839.55L480.81 839.55zM563.24 803.32L564.81 808.15L569.9 808.15L565.78 811.14L567.35 815.98L563.24 812.99L559.12 815.98L560.7 811.14L556.58 808.15L561.67 808.15zM582.27 805.7L583.84 810.53L588.92 810.53L584.81 813.52L586.38 818.36L582.27 815.37L578.15 818.36L579.72 813.52L575.61 810.53L580.69 810.53zM576.32 814.02L577.89 818.86L582.98 818.86L578.86 821.85L580.43 826.68L576.32 823.69L572.2 826.68L573.78 821.85L569.66 818.86L574.75 818.86zM569.18 771.21L570.76 776.05L575.84 776.05L571.73 779.04L573.3 783.87L569.18 780.88L565.07 783.87L566.64 779.04L562.53 776.05L567.61 776.05zM540.65 792.61L542.22 797.45L547.3 797.45L543.19 800.44L544.76 805.28L540.65 802.29L536.53 805.28L538.1 800.44L533.99 797.45L539.07 797.45zM571.56 784.29L573.13 789.13L578.22 789.13L574.11 792.12L575.68 796.95L571.56 793.96L567.45 796.95L569.02 792.12L564.91 789.13L569.99 789.13zM334.02 969.26L335.59 974.1L340.68 974.1L336.56 977.09L338.13 981.93L334.02 978.94L329.91 981.93L331.48 977.09L327.36 974.1L332.45 974.1zM302.31 990.78L303.88 995.62L308.97 995.62L304.85 998.61L306.42 1003.44L302.31 1000.45L298.2 1003.44L299.77 998.61L295.65 995.62L300.74 995.62zM293.25 999.84L294.82 1004.68L299.91 1004.68L295.79 1007.67L297.36 1012.5L293.25 1009.51L289.14 1012.5L290.71 1007.67L286.59 1004.68L291.68 1004.68zM281.93 1008.9L283.5 1013.74L288.58 1013.74L284.47 1016.73L286.04 1021.56L281.93 1018.57L277.81 1021.56L279.38 1016.73L275.27 1013.74L280.35 1013.74zM311.37 974.93L312.94 979.76L318.03 979.76L313.91 982.75L315.48 987.59L311.37 984.6L307.26 987.59L308.83 982.75L304.71 979.76L309.8 979.76zM338.55 956.81L340.12 961.64L345.21 961.64L341.09 964.63L342.66 969.47L338.55 966.48L334.44 969.47L336.01 964.63L331.89 961.64L336.98 961.64zM347.61 943.22L349.18 948.05L354.27 948.05L350.15 951.04L351.72 955.88L347.61 952.89L343.5 955.88L345.07 951.04L340.95 948.05L346.04 948.05zM358.94 934.16L360.51 938.99L365.59 938.99L361.48 941.98L363.05 946.82L358.94 943.83L354.82 946.82L356.39 941.98L352.28 938.99L357.36 938.99zM370.26 928.49L371.83 933.33L376.92 933.33L372.8 936.32L374.37 941.16L370.26 938.17L366.15 941.16L367.72 936.32L363.6 933.33L368.69 933.33zM319.3 976.06L320.87 980.89L325.96 980.89L321.84 983.88L323.41 988.72L319.3 985.73L315.18 988.72L316.75 983.88L312.64 980.89L317.73 980.89zM231.19 1043.98L232.76 1048.81L237.84 1048.81L233.73 1051.8L235.3 1056.64L231.19 1053.65L227.07 1056.64L228.64 1051.8L224.53 1048.81L229.61 1048.81zM223.19 1050.42L224.76 1055.26L229.85 1055.26L225.73 1058.25L227.3 1063.09L223.19 1060.1L219.07 1063.09L220.65 1058.25L216.53 1055.26L221.62 1055.26zM299.63 983.97L301.2 988.8L306.29 988.8L302.17 991.79L303.74 996.63L299.63 993.64L295.51 996.63L297.09 991.79L292.97 988.8L298.06 988.8zM227.38 1043.97L228.96 1048.8L234.04 1048.8L229.93 1051.79L231.5 1056.63L227.38 1053.64L223.27 1056.63L224.84 1051.79L220.73 1048.8L225.81 1048.8zM224.4 1048.98L225.98 1053.82L231.06 1053.82L226.95 1056.81L228.52 1061.64L224.4 1058.65L220.29 1061.64L221.86 1056.81L217.75 1053.82L222.83 1053.82zM301.09 983.21L302.66 988.05L307.75 988.05L303.63 991.04L305.2 995.87L301.09 992.88L296.97 995.87L298.54 991.04L294.43 988.05L299.52 988.05zM287.42 997.37L288.99 1002.21L294.08 1002.21L289.96 1005.2L291.53 1010.03L287.42 1007.04L283.3 1010.03L284.88 1005.2L280.76 1002.21L285.85 1002.21zM269.12 1007.65L270.69 1012.49L275.78 1012.49L271.66 1015.48L273.23 1020.31L269.12 1017.32L265.01 1020.31L266.58 1015.48L262.46 1012.49L267.55 1012.49zM296.76 990.6L298.33 995.44L303.41 995.44L299.3 998.43L300.87 1003.27L296.76 1000.28L292.64 1003.27L294.21 998.43L290.1 995.44L295.18 995.44zM273.03 1006.82L274.6 1011.66L279.69 1011.66L275.58 1014.65L277.15 1019.49L273.03 1016.5L268.92 1019.49L270.49 1014.65L266.37 1011.66L271.46 1011.66zM256.93 1025.19L258.51 1030.03L263.59 1030.03L259.48 1033.02L261.05 1037.85L256.93 1034.86L252.82 1037.85L254.39 1033.02L250.28 1030.03L255.36 1030.03zM292.32 990.38L293.9 995.22L298.98 995.22L294.87 998.21L296.44 1003.04L292.32 1000.05L288.21 1003.04L289.78 998.21L285.67 995.22L290.75 995.22zM295.13 985.79L296.7 990.62L301.79 990.62L297.67 993.61L299.24 998.45L295.13 995.46L291.01 998.45L292.58 993.61L288.47 990.62L293.56 990.62zM290.23 992.12L291.8 996.96L296.88 996.96L292.77 999.95L294.34 1004.78L290.23 1001.8L286.11 1004.78L287.68 999.95L283.57 996.96L288.65 996.96zM265.81 1013.28L267.39 1018.12L272.47 1018.12L268.36 1021.11L269.93 1025.95L265.81 1022.96L261.7 1025.95L263.27 1021.11L259.16 1018.12L264.24 1018.12zM237.13 1036.92L238.7 1041.75L243.79 1041.75L239.67 1044.74L241.24 1049.58L237.13 1046.59L233.01 1049.58L234.59 1044.74L230.47 1041.75L235.56 1041.75zM209.98 1057.97L211.55 1062.81L216.63 1062.81L212.52 1065.8L214.09 1070.63L209.98 1067.64L205.86 1070.63L207.43 1065.8L203.32 1062.81L208.41 1062.81zM258.78 1018.5L260.35 1023.34L265.44 1023.34L261.32 1026.33L262.89 1031.16L258.78 1028.17L254.66 1031.16L256.24 1026.33L252.12 1023.34L257.21 1023.34zM307.36 981.26L308.93 986.1L314.02 986.1L309.9 989.08L311.48 993.92L307.36 990.93L303.25 993.92L304.82 989.08L300.7 986.1L305.79 986.1zM225.8 1044.95L227.38 1049.79L232.46 1049.79L228.35 1052.78L229.92 1057.61L225.8 1054.62L221.69 1057.61L223.26 1052.78L219.15 1049.79L224.23 1049.79zM242.05 1031.79L243.63 1036.63L248.71 1036.63L244.6 1039.62L246.17 1044.46L242.05 1041.47L237.94 1044.46L239.51 1039.62L235.4 1036.63L240.48 1036.63zM263.11 1015.87L264.69 1020.71L269.77 1020.71L265.66 1023.7L267.23 1028.54L263.11 1025.55L259 1028.54L260.57 1023.7L256.46 1020.71L261.54 1020.71zM212.71 1060.1L214.28 1064.93L219.37 1064.93L215.25 1067.92L216.83 1072.76L212.71 1069.77L208.6 1072.76L210.17 1067.92L206.05 1064.93L211.14 1064.93zM268.4 1012.88L269.97 1017.71L275.05 1017.71L270.94 1020.7L272.51 1025.54L268.4 1022.55L264.28 1025.54L265.85 1020.7L261.74 1017.71L266.82 1017.71zM223.65 1048.04L225.22 1052.88L230.31 1052.88L226.19 1055.87L227.76 1060.71L223.65 1057.72L219.53 1060.71L221.11 1055.87L216.99 1052.88L222.08 1052.88zM279.52 1002.46L281.09 1007.3L286.17 1007.3L282.06 1010.29L283.63 1015.13L279.52 1012.14L275.4 1015.13L276.97 1010.29L272.86 1007.3L277.94 1007.3zM280.63 1001.54L282.2 1006.37L287.28 1006.37L283.17 1009.36L284.74 1014.2L280.63 1011.21L276.51 1014.2L278.08 1009.36L273.97 1006.37L279.06 1006.37zM237.86 1038.12L239.44 1042.95L244.52 1042.95L240.41 1045.94L241.98 1050.78L237.86 1047.79L233.75 1050.78L235.32 1045.94L231.21 1042.95L236.29 1042.95zM249.55 1027.85L251.12 1032.68L256.21 1032.68L252.09 1035.67L253.66 1040.51L249.55 1037.52L245.43 1040.51L247.01 1035.67L242.89 1032.68L247.98 1032.68zM288.47 995.65L290.04 1000.48L295.13 1000.48L291.01 1003.47L292.58 1008.31L288.47 1005.32L284.36 1008.31L285.93 1003.47L281.81 1000.48L286.9 1000.48zM251.96 1026.88L253.53 1031.72L258.62 1031.72L254.5 1034.71L256.07 1039.55L251.96 1036.56L247.84 1039.55L249.41 1034.71L245.3 1031.72L250.39 1031.72zM303.16 982.93L304.73 987.76L309.82 987.76L305.7 990.75L307.27 995.59L303.16 992.6L299.05 995.59L300.62 990.75L296.5 987.76L301.59 987.76zM211.95 1061.26L213.52 1066.1L218.6 1066.1L214.49 1069.09L216.06 1073.92L211.95 1070.93L207.83 1073.92L209.4 1069.09L205.29 1066.1L210.38 1066.1zM242.6 1033.2L244.18 1038.03L249.26 1038.03L245.15 1041.02L246.72 1045.86L242.6 1042.87L238.49 1045.86L240.06 1041.02L235.95 1038.03L241.03 1038.03zM304.36 981.56L305.94 986.4L311.02 986.4L306.91 989.39L308.48 994.22L304.36 991.24L300.25 994.22L301.82 989.39L297.71 986.4L302.79 986.4zM213 1058.07L214.57 1062.9L219.66 1062.9L215.54 1065.89L217.12 1070.73L213 1067.74L208.89 1070.73L210.46 1065.89L206.34 1062.9L211.43 1062.9zM274.74 1006.78L276.31 1011.62L281.4 1011.62L277.29 1014.61L278.86 1019.45L274.74 1016.46L270.63 1019.45L272.2 1014.61L268.09 1011.62L273.17 1011.62zM255.72 1027.12L257.29 1031.96L262.38 1031.96L258.27 1034.95L259.84 1039.79L255.72 1036.8L251.61 1039.79L253.18 1034.95L249.07 1031.96L254.15 1031.96zM215.96 1052.05L217.53 1056.89L222.61 1056.89L218.5 1059.88L220.07 1064.71L215.96 1061.73L211.84 1064.71L213.41 1059.88L209.3 1056.89L214.38 1056.89zM249.18 1028.53L250.76 1033.37L255.84 1033.37L251.73 1036.36L253.3 1041.2L249.18 1038.21L245.07 1041.2L246.64 1036.36L242.53 1033.37L247.61 1033.37zM230.22 1042.8L231.8 1047.64L236.88 1047.64L232.77 1050.63L234.34 1055.47L230.22 1052.48L226.11 1055.47L227.68 1050.63L223.57 1047.64L228.65 1047.64zM248.71 1030.82L250.28 1035.66L255.37 1035.66L251.25 1038.65L252.82 1043.49L248.71 1040.5L244.59 1043.49L246.17 1038.65L242.05 1035.66L247.14 1035.66zM289.68 993.62L291.25 998.46L296.34 998.46L292.22 1001.45L293.79 1006.28L289.68 1003.29L285.56 1006.28L287.13 1001.45L283.02 998.46L288.11 998.46zM231.89 1042.57L233.46 1047.4L238.54 1047.4L234.43 1050.39L236 1055.23L231.89 1052.24L227.77 1055.23L229.34 1050.39L225.23 1047.4L230.31 1047.4zM230.09 1042.84L231.66 1047.68L236.75 1047.68L232.63 1050.67L234.2 1055.51L230.09 1052.52L225.97 1055.51L227.55 1050.67L223.43 1047.68L228.52 1047.68zM213.07 1057.58L214.64 1062.42L219.73 1062.42L215.61 1065.41L217.19 1070.24L213.07 1067.25L208.96 1070.24L210.53 1065.41L206.41 1062.42L211.5 1062.42zM303.52 982.2L305.09 987.04L310.18 987.04L306.06 990.03L307.63 994.87L303.52 991.88L299.41 994.87L300.98 990.03L296.86 987.04L301.95 987.04zM272.81 1005.94L274.38 1010.77L279.47 1010.77L275.35 1013.76L276.92 1018.6L272.81 1015.61L268.7 1018.6L270.27 1013.76L266.15 1010.77L271.24 1010.77zM256.92 1022.17L258.49 1027.01L263.58 1027.01L259.46 1030L261.03 1034.84L256.92 1031.85L252.8 1034.84L254.38 1030L250.26 1027.01L255.35 1027.01zM297.13 988.05L298.7 992.89L303.79 992.89L299.67 995.88L301.25 1000.72L297.13 997.73L293.02 1000.72L294.59 995.88L290.47 992.89L295.56 992.89zM238.65 1032.47L240.22 1037.31L245.31 1037.31L241.19 1040.3L242.77 1045.13L238.65 1042.14L234.54 1045.13L236.11 1040.3L231.99 1037.31L237.08 1037.31zM271.75 1007.6L273.32 1012.44L278.41 1012.44L274.29 1015.43L275.86 1020.26L271.75 1017.27L267.63 1020.26L269.21 1015.43L265.09 1012.44L270.18 1012.44zM271.79 1007.18L273.36 1012.02L278.45 1012.02L274.34 1015.01L275.91 1019.84L271.79 1016.85L267.68 1019.84L269.25 1015.01L265.14 1012.02L270.22 1012.02zM299.89 985.83L301.46 990.67L306.55 990.67L302.43 993.66L304 998.49L299.89 995.5L295.78 998.49L297.35 993.66L293.23 990.67L298.32 990.67zM306.36 981.45L307.93 986.28L313.02 986.28L308.9 989.27L310.48 994.11L306.36 991.12L302.25 994.11L303.82 989.27L299.7 986.28L304.79 986.28zM211.28 1058.52L212.85 1063.36L217.94 1063.36L213.82 1066.35L215.4 1071.18L211.28 1068.19L207.17 1071.18L208.74 1066.35L204.62 1063.36L209.71 1063.36zM303.68 981.73L305.25 986.57L310.33 986.57L306.22 989.56L307.79 994.39L303.68 991.4L299.56 994.39L301.13 989.56L297.02 986.57L302.1 986.57zM221.76 1047.32L223.33 1052.16L228.41 1052.16L224.3 1055.15L225.87 1059.99L221.76 1057L217.64 1059.99L219.21 1055.15L215.1 1052.16L220.18 1052.16zM282.47 1000.18L284.04 1005.02L289.12 1005.02L285.01 1008.01L286.58 1012.84L282.47 1009.85L278.35 1012.84L279.92 1008.01L275.81 1005.02L280.9 1005.02zM206.7 1062.3L208.27 1067.14L213.36 1067.14L209.24 1070.13L210.81 1074.96L206.7 1071.97L202.58 1074.96L204.16 1070.13L200.04 1067.14L205.13 1067.14z" fill="#1800ff" stroke="#1800ff" stroke-width="1" stroke-linejoin="miter"/>
<path d="M263.81 891.37l6.3 12.6h-12.6zM238.44 911.07l6.3 12.6h-12.6zM260.86 904.28l6.3 12.6h-12.6zM276.26 909.49l6.3 12.6h-12.6zM259.28 912.21l6.3 12.6h-12.6zM247.95 916.74l6.3 12.6h-12.6zM266.07 917.87l6.3 12.6h-12.6zM245.69 924.66l6.3 12.6h-12.6zM255.88 926.93l6.3 12.6h-12.6zM263.81 928.06l6.3 12.6h-12.6zM257.01 935.99l6.3 12.6h-12.6zM275.13 936.67l6.3 12.6h-12.6zM237.76 946.18l6.3 12.6h-12.6zM262.67 946.18l6.3 12.6h-12.6zM275.13 941.65l6.3 12.6h-12.6zM277.4 947.31l6.3 12.6h-12.6zM253.61 951.84l6.3 12.6h-12.6zM238.89 952.98l6.3 12.6h-12.6zM267.2 954.11l6.3 12.6h-12.6zM221.9 962.04l6.3 12.6h-12.6zM241.16 959.77l6.3 12.6h-12.6zM270.6 959.77l6.3 12.6h-12.6zM240.48 1067.36l6.3 12.6h-12.6zM248.63 1086.61l6.3 12.6h-12.6zM247.27 1099.75l6.3 12.6h-12.6zM266.75 1096.12l6.3 12.6h-12.6zM269.92 1114.92l6.3 12.6h-12.6zM261.99 1123.98l6.3 12.6h-12.6zM270.6 1073.02l6.3 12.6h-12.6zM277.4 1074.15l6.3 12.6h-12.6zM267.2 1076.42l6.3 12.6h-12.6zM297.78 1023.19l6.3 12.6h-12.6zM300.05 1037.91l6.3 12.6h-12.6zM280.79 1011.87l6.3 12.6h-12.6zM324.96 979.02l6.3 12.6h-12.6zM332.89 991.48l6.3 12.6h-12.6zM315.9 876.42l6.3 12.6h-12.6zM329.49 876.42l6.3 12.6h-12.6zM320.43 883.89l6.3 12.6h-12.6zM326.09 889.56l6.3 12.6h-12.6zM346.48 897.48l6.3 12.6h-12.6zM355.54 883.89l6.3 12.6h-12.6zM345.35 916.74l6.3 12.6h-12.6zM326.09 923.53l6.3 12.6h-12.6zM335.15 924.66l6.3 12.6h-12.6zM361.2 887.29l6.3 12.6h-12.6zM372.53 880.5l6.3 12.6h-12.6zM206.05 984.69l6.3 12.6h-12.6zM213.98 988.08l6.3 12.6h-12.6zM220.77 984.69l6.3 12.6h-12.6zM227.57 985.82l6.3 12.6h-12.6zM211.71 997.14l6.3 12.6h-12.6zM215.11 1020.93l6.3 12.6h-12.6zM220.77 1024.32l6.3 12.6h-12.6zM240.02 1046.97l6.3 12.6h-12.6zM251.35 1050.37l6.3 12.6h-12.6zM247.95 1041.31l6.3 12.6h-12.6zM293.25 968.83l6.3 12.6h-12.6zM297.78 971.1l6.3 12.6h-12.6zM284.19 973.36l6.3 12.6h-12.6zM315.9 952.98l6.3 12.6h-12.6zM340.82 951.84l6.3 12.6h-12.6zM350.28 807.68l6.3 12.6h-12.6zM416.65 798.62l6.3 12.6h-12.6zM434.31 803.15l6.3 12.6h-12.6zM414.38 811.07l6.3 12.6h-12.6zM451.3 807.68l6.3 12.6h-12.6zM465.8 804.73l6.3 12.6h-12.6zM365.23 832.14l6.3 12.6h-12.6zM382.67 838.25l6.3 12.6h-12.6zM425.71 834.86l6.3 12.6h-12.6zM343.49 855.24l6.3 12.6h-12.6zM413.25 850.26l6.3 12.6h-12.6zM315.86 874.49l6.3 12.6h-12.6zM329.9 875.17l6.3 12.6h-12.6zM320.84 885.14l6.3 12.6h-12.6zM326.05 889.22l6.3 12.6h-12.6zM366.36 869.51l6.3 12.6h-12.6zM392.87 866.57l6.3 12.6h-12.6zM372.48 874.49l6.3 12.6h-12.6zM398.53 874.95l6.3 12.6h-12.6zM355.49 883.55l6.3 12.6h-12.6zM375.88 881.29l6.3 12.6h-12.6zM388.34 881.29l6.3 12.6h-12.6zM361.16 889.22l6.3 12.6h-12.6zM370.22 889.22l6.3 12.6h-12.6zM346.43 898.28l6.3 12.6h-12.6zM345.3 917.53l6.3 12.6h-12.6zM326.05 923.19l6.3 12.6h-12.6zM335.11 924.32l6.3 12.6h-12.6zM333.98 990.69l6.3 12.6h-12.6zM325.37 978.68l6.3 12.6h-12.6zM449.49 826.93l6.3 12.6h-12.6zM456.29 823.53l6.3 12.6h-12.6zM442.7 841.65l6.3 12.6h-12.6zM488 812.21l6.3 12.6h-12.6zM484.6 826.93l6.3 12.6h-12.6zM379.28 877.89l6.3 12.6h-12.6zM391.73 884.69l6.3 12.6h-12.6zM394 876.76l6.3 12.6h-12.6zM338.51 953.77l6.3 12.6h-12.6zM312.46 957.17l6.3 12.6h-12.6zM589.4 755.98l6.3 12.6h-12.6zM584.64 761.68l6.3 12.6h-12.6zM574.65 763.59l6.3 12.6h-12.6zM544.21 775l6.3 12.6h-12.6zM558.48 773.1l6.3 12.6h-12.6zM569.18 776.67l6.3 12.6h-12.6zM589.4 777.86l6.3 12.6h-12.6zM595.35 778.57l6.3 12.6h-12.6zM577.51 782.61l6.3 12.6h-12.6zM571.56 787.37l6.3 12.6h-12.6zM550.87 787.37l6.3 12.6h-12.6zM539.46 790.94l6.3 12.6h-12.6zM559.67 790.94l6.3 12.6h-12.6zM565.62 793.31l6.3 12.6h-12.6zM549.45 794.98l6.3 12.6h-12.6zM582.27 802.83l6.3 12.6h-12.6zM563.24 804.02l6.3 12.6h-12.6zM542.31 807.58l6.3 12.6h-12.6zM527.57 808.3l6.3 12.6h-12.6zM577.51 812.34l6.3 12.6h-12.6zM579.89 821.14l6.3 12.6h-12.6zM520.43 823.76l6.3 12.6h-12.6zM532.32 824.23l6.3 12.6h-12.6zM508.54 833.75l6.3 12.6h-12.6zM514.48 849.2l6.3 12.6h-12.6zM634.59 811.15l6.3 12.6h-12.6zM633.4 830.65l6.3 12.6h-12.6zM488.32 813.53l6.3 12.6h-12.6zM484.76 827.8l6.3 12.6h-12.6zM505.69 774.29l6.3 12.6h-12.6zM270.33 970.09l6.3 12.6h-12.6zM250.17 988.27l6.3 12.6h-12.6zM262.57 984.78l6.3 12.6h-12.6zM280.02 987.95l6.3 12.6h-12.6zM257.42 974.78l6.3 12.6h-12.6zM226.21 984.58l6.3 12.6h-12.6zM214.19 997.05l6.3 12.6h-12.6zM246.39 1019.05l6.3 12.6h-12.6zM233.12 1017.06l6.3 12.6h-12.6zM245.23 1013.52l6.3 12.6h-12.6zM219.52 1020.58l6.3 12.6h-12.6zM252.47 970.83l6.3 12.6h-12.6zM274.26 939.9l6.3 12.6h-12.6zM234.08 989.99l6.3 12.6h-12.6zM251.69 1005.84l6.3 12.6h-12.6zM251.46 946.41l6.3 12.6h-12.6zM227.39 1018.09l6.3 12.6h-12.6zM238.61 1010.58l6.3 12.6h-12.6zM270.86 995.99l6.3 12.6h-12.6zM234.23 1024.15l6.3 12.6h-12.6zM233.46 1019.95l6.3 12.6h-12.6zM247.21 952.45l6.3 12.6h-12.6zM280.37 973.02l6.3 12.6h-12.6zM269.38 951.76l6.3 12.6h-12.6zM293.56 973.93l6.3 12.6h-12.6zM260.7 971.93l6.3 12.6h-12.6zM265.23 948.07l6.3 12.6h-12.6zM220.76 1000.14l6.3 12.6h-12.6zM235.58 967.3l6.3 12.6h-12.6zM261.53 985.38l6.3 12.6h-12.6zM214.43 999.89l6.3 12.6h-12.6zM233.18 1025.55l6.3 12.6h-12.6zM243.58 995.01l6.3 12.6h-12.6zM233.86 960.78l6.3 12.6h-12.6zM235.57 997.59l6.3 12.6h-12.6zM242.99 976.59l6.3 12.6h-12.6zM221.19 989.55l6.3 12.6h-12.6zM272.53 996.47l6.3 12.6h-12.6zM265.47 953.88l6.3 12.6h-12.6zM263.51 968.38l6.3 12.6h-12.6zM225.04 1025.59l6.3 12.6h-12.6zM232.81 1027.41l6.3 12.6h-12.6zM219.11 1012.79l6.3 12.6h-12.6zM271.26 990.2l6.3 12.6h-12.6zM255.5 954.01l6.3 12.6h-12.6zM231.78 1022.06l6.3 12.6h-12.6zM259.09 1003.81l6.3 12.6h-12.6zM275.59 990.68l6.3 12.6h-12.6zM253.3 953.71l6.3 12.6h-12.6zM287.75 984.35l6.3 12.6h-12.6zM242.09 1002.73l6.3 12.6h-12.6zM241.64 978.68l6.3 12.6h-12.6zM226.04 990.79l6.3 12.6h-12.6zM250.7 1006.11l6.3 12.6h-12.6zM221.31 1016.04l6.3 12.6h-12.6zM240.9 1018.09l6.3 12.6h-12.6zM213.45 996.89l6.3 12.6h-12.6zM263.14 942.84l6.3 12.6h-12.6zM266.35 963.13l6.3 12.6h-12.6zM233.63 1022.56l6.3 12.6h-12.6zM265.65 970.88l6.3 12.6h-12.6zM263.6 988.33l6.3 12.6h-12.6zM302.18 972.17l6.3 12.6h-12.6zM210.87 1005.65l6.3 12.6h-12.6zM252.85 990.06l6.3 12.6h-12.6zM262.91 962.59l6.3 12.6h-12.6zM272.87 950.23l6.3 12.6h-12.6zM265.37 941.08l6.3 12.6h-12.6zM276.53 942.57l6.3 12.6h-12.6zM250.84 952.84l6.3 12.6h-12.6zM229.22 989.82l6.3 12.6h-12.6zM254.23 966.54l6.3 12.6h-12.6zM229.28 1009.67l6.3 12.6h-12.6zM240.58 975.79l6.3 12.6h-12.6zM280.9 982.43l6.3 12.6h-12.6zM266.54 991.04l6.3 12.6h-12.6zM231.11 1005.03l6.3 12.6h-12.6zM225.79 997.87l6.3 12.6h-12.6zM228.33 1024.37l6.3 12.6h-12.6zM215.71 1014.11l6.3 12.6h-12.6zM211.99 1029.09l6.3 12.6h-12.6zM222.17 1025.59l6.3 12.6h-12.6zM245.62 971.79l6.3 12.6h-12.6zM232.68 994.23l6.3 12.6h-12.6zM224.82 1019.69l6.3 12.6h-12.6zM214.21 1028.11l6.3 12.6h-12.6zM229.1 1001.56l6.3 12.6h-12.6zM211.09 1019.92l6.3 12.6h-12.6zM219.53 1011.48l6.3 12.6h-12.6zM207.13 1014.66l6.3 12.6h-12.6zM254.39 988.23l6.3 12.6h-12.6zM222.44 1027.1l6.3 12.6h-12.6zM216.15 995.75l6.3 12.6h-12.6zM249.45 999.81l6.3 12.6h-12.6zM234.45 1013.15l6.3 12.6h-12.6zM222.79 979.95l6.3 12.6h-12.6zM251.7 977.08l6.3 12.6h-12.6zM255.85 986.9l6.3 12.6h-12.6zM234.57 1010.81l6.3 12.6h-12.6zM281.92 976.82l6.3 12.6h-12.6zM220.5 1018.52l6.3 12.6h-12.6zM229.89 1011.54l6.3 12.6h-12.6zM236.95 973.47l6.3 12.6h-12.6zM235.55 994.76l6.3 12.6h-12.6zM233.94 993.62l6.3 12.6h-12.6zM239.03 971.85l6.3 12.6h-12.6zM229.01 1000.97l6.3 12.6h-12.6zM219.68 1004.7l6.3 12.6h-12.6zM253.85 1003.66l6.3 12.6h-12.6zM219.83 983.06l6.3 12.6h-12.6zM240.4 984.95l6.3 12.6h-12.6zM256.64 975.47l6.3 12.6h-12.6zM233.09 1008.69l6.3 12.6h-12.6zM281.25 981.25l6.3 12.6h-12.6zM232.24 999.61l6.3 12.6h-12.6zM249.28 988.33l6.3 12.6h-12.6zM275.26 977.24l6.3 12.6h-12.6zM243.34 972.14l6.3 12.6h-12.6zM209.11 1018.16l6.3 12.6h-12.6zM254.21 1000.02l6.3 12.6h-12.6zM221.97 995.34l6.3 12.6h-12.6zM227.95 1009.69l6.3 12.6h-12.6zM228.39 991.69l6.3 12.6h-12.6zM210.79 992.77l6.3 12.6h-12.6zM211.44 992.18l6.3 12.6h-12.6zM279.35 982.92l6.3 12.6h-12.6zM271.65 977.57l6.3 12.6h-12.6zM247.13 992.15l6.3 12.6h-12.6zM212.46 1006.37l6.3 12.6h-12.6zM246.55 1000.38l6.3 12.6h-12.6zM261.16 968.53l6.3 12.6h-12.6zM240.49 973.2l6.3 12.6h-12.6zM213.4 1014.35l6.3 12.6h-12.6zM231.36 986.59l6.3 12.6h-12.6zM227.51 1002.87l6.3 12.6h-12.6zM214.55 1006.41l6.3 12.6h-12.6zM210.66 1027.04l6.3 12.6h-12.6zM217.72 1014.72l6.3 12.6h-12.6zM249.37 992.21l6.3 12.6h-12.6zM229.72 987.9l6.3 12.6h-12.6zM248.65 980.56l6.3 12.6h-12.6zM255.87 975.51l6.3 12.6h-12.6zM244.25 1007.09l6.3 12.6h-12.6zM249.29 1002.44l6.3 12.6h-12.6zM251.41 977.04l6.3 12.6h-12.6zM241.74 986.15l6.3 12.6h-12.6zM229.71 985.07l6.3 12.6h-12.6zM229.39 985.06l6.3 12.6h-12.6zM221.96 996.09l6.3 12.6h-12.6zM228.73 988.5l6.3 12.6h-12.6zM259.03 985l6.3 12.6h-12.6zM231.7 1019.11l6.3 12.6h-12.6zM250.24 978.94l6.3 12.6h-12.6zM237 980.18l6.3 12.6h-12.6zM240.91 1012.39l6.3 12.6h-12.6zM269.39 970.61l6.3 12.6h-12.6zM233.41 1009.11l6.3 12.6h-12.6zM240.2 1012.31l6.3 12.6h-12.6zM236.52 978.14l6.3 12.6h-12.6zM215.21 994.29l6.3 12.6h-12.6zM276.95 985.17l6.3 12.6h-12.6zM213.31 1024.78l6.3 12.6h-12.6zM240.39 1011.43l6.3 12.6h-12.6zM228.13 986.32l6.3 12.6h-12.6zM233.84 992.02l6.3 12.6h-12.6zM215.02 1021.16l6.3 12.6h-12.6zM265.4 982.72l6.3 12.6h-12.6zM216.42 987.94l6.3 12.6h-12.6zM226.53 1011.39l6.3 12.6h-12.6zM233.28 997.69l6.3 12.6h-12.6zM259.45 981.01l6.3 12.6h-12.6zM255.6 976.58l6.3 12.6h-12.6zM257.67 975.86l6.3 12.6h-12.6zM275.84 984.32l6.3 12.6h-12.6zM208.58 1018.07l6.3 12.6h-12.6zM267.81 974.47l6.3 12.6h-12.6zM251.75 982.29l6.3 12.6h-12.6zM240.88 1011.69l6.3 12.6h-12.6zM256.96 979.07l6.3 12.6h-12.6zM269.99 968.45l6.3 12.6h-12.6zM279.22 1023.89l6.3 12.6h-12.6zM291.16 1027.05l6.3 12.6h-12.6zM261.82 1051.52l6.3 12.6h-12.6zM276.81 1060.76l6.3 12.6h-12.6zM299.02 1035.24l6.3 12.6h-12.6zM280.6 1020.06l6.3 12.6h-12.6zM295.52 1035.19l6.3 12.6h-12.6zM264.16 1026.16l6.3 12.6h-12.6zM255.18 1045.68l6.3 12.6h-12.6zM285.12 1041.43l6.3 12.6h-12.6zM250.05 1043.35l6.3 12.6h-12.6zM295.66 1048.25l6.3 12.6h-12.6zM295.07 1037.18l6.3 12.6h-12.6zM276.04 1028.93l6.3 12.6h-12.6zM280.94 1030.53l6.3 12.6h-12.6zM275.91 1072.74l6.3 12.6h-12.6zM292.2 1022.75l6.3 12.6h-12.6zM264.53 1049.43l6.3 12.6h-12.6zM281.64 1054.22l6.3 12.6h-12.6zM274.41 1016.79l6.3 12.6h-12.6zM273.68 1031.12l6.3 12.6h-12.6zM277.12 1030.51l6.3 12.6h-12.6zM265.1 1053.23l6.3 12.6h-12.6zM249.57 1045.82l6.3 12.6h-12.6zM296.97 1035.6l6.3 12.6h-12.6zM285.44 1025.02l6.3 12.6h-12.6zM269.45 1048.45l6.3 12.6h-12.6zM262.88 1047.35l6.3 12.6h-12.6zM292.78 1042.9l6.3 12.6h-12.6zM284.23 1064.09l6.3 12.6h-12.6zM291.8 1045.34l6.3 12.6h-12.6zM282.07 1063.58l6.3 12.6h-12.6zM271.97 1045.64l6.3 12.6h-12.6zM263.51 1049.55l6.3 12.6h-12.6zM278.41 1054.08l6.3 12.6h-12.6zM249.29 1046.97l6.3 12.6h-12.6zM250.44 1038.39l6.3 12.6h-12.6zM280.07 1039.42l6.3 12.6h-12.6zM249.92 1044.25l6.3 12.6h-12.6zM282.9 1032.68l6.3 12.6h-12.6zM256.76 1042l6.3 12.6h-12.6zM283.09 1015.66l6.3 12.6h-12.6zM297.34 1025.07l6.3 12.6h-12.6zM271.29 1029.61l6.3 12.6h-12.6zM286.86 1040.81l6.3 12.6h-12.6zM263.38 1035.94l6.3 12.6h-12.6zM262.99 1051.69l6.3 12.6h-12.6zM269.86 1080.15l6.3 12.6h-12.6zM289.25 1061.49l6.3 12.6h-12.6zM299.82 1042.58l6.3 12.6h-12.6zM262.69 1066.64l6.3 12.6h-12.6zM272.64 1065.19l6.3 12.6h-12.6zM283.79 1031.21l6.3 12.6h-12.6zM271.69 1079.65l6.3 12.6h-12.6zM247.85 1040.03l6.3 12.6h-12.6zM275.39 1075.52l6.3 12.6h-12.6zM280.56 1029.78l6.3 12.6h-12.6zM287.13 1061.35l6.3 12.6h-12.6zM255.7 1038.6l6.3 12.6h-12.6zM266.96 1030.18l6.3 12.6h-12.6zM290.02 1047.89l6.3 12.6h-12.6zM268.3 1072.73l6.3 12.6h-12.6zM272.7 1031.59l6.3 12.6h-12.6zM261.88 1031.1l6.3 12.6h-12.6zM280.44 1042.31l6.3 12.6h-12.6zM272.92 1056.72l6.3 12.6h-12.6zM258.32 1057.85l6.3 12.6h-12.6zM264.26 1048.63l6.3 12.6h-12.6zM288.59 1034.98l6.3 12.6h-12.6zM260.31 1054.76l6.3 12.6h-12.6zM263.43 1070.4l6.3 12.6h-12.6zM261.69 1027.08l6.3 12.6h-12.6zM278.95 1053.2l6.3 12.6h-12.6zM266.58 1042.86l6.3 12.6h-12.6zM281.7 1046.73l6.3 12.6h-12.6zM277.49 1039.59l6.3 12.6h-12.6zM297.21 1029.53l6.3 12.6h-12.6zM245.54 1046.06l6.3 12.6h-12.6zM278.68 1022.13l6.3 12.6h-12.6zM265.02 1037.19l6.3 12.6h-12.6z" fill="#f08026"/>
<line x1="210.28" y1="1061.3" x2="242.94" y2="1033.43" stroke="#348c1a" stroke-width="17" stroke-linecap="round"/>
<line x1="216.22" y1="1055.43" x2="272.64" y2="1008.99" stroke="#348c1a" stroke-width="14" stroke-linecap="round"/>
<line x1="239.97" y1="1035.88" x2="294.61" y2="990.9" stroke="#348c1a" stroke-width="11" stroke-linecap="round"/>
<path d="M300 988.38h0M312.46 987.25h0M316.99 975.92h0M315.86 966.86h0M322.65 956.67h0M326.05 953.27h0M333.98 965.73h0M336.24 949.88h0M344.17 943.08h0M352.1 935.15h0M358.89 928.36h0M367.95 930.62h0M374.75 921.56h0M381.54 914.77h0M388.34 913.64h0M395.13 910.24h0M399.66 906.16h0M388.34 903.44h0M365.01 901.86h0M412.57 896.65h0M417.78 890.99h0M414.38 879.66h0M416.65 869.47h0M425.71 870.15h0M434.31 864.26h0M442.24 857.69h0M448.36 843.42h0M455.83 844.1h0M465.8 838.89h0M451.76 825.3h0M455.83 822.36h0M483.92 825.98h0M489.13 824.85h0M329.45 958.94h0M320.39 961.2h0M347.57 938.55h0M363.42 927.23h0M378.14 918.17h0M391.73 906.84h0M594.16 702.11h0M585.36 710.91h0M571.56 717.09h0M565.14 721.13h0M589.4 721.13h0M589.4 734.21h0M577.51 733.74h0M574.65 736.59h0M558.01 737.78h0M559.67 741.35h0M542.31 744.2h0M582.27 744.92h0M543.02 753.24h0M550.16 753.24h0M560.39 754.9h0M569.18 752.53h0M551.35 758h0M539.93 759.66h0M579.89 754.43h0M577.51 761.09h0M563.71 771.55h0M533.51 772.27h0M531.85 775.83h0M520.43 777.02h0M506.16 784.16h0M528.04 787.72h0M509.01 796.52h0M515.2 799.14h0M634.59 707.58h0M632.92 715.66h0M483.57 825.78h0M489.04 825.06h0M289.85 985.32h0M297.78 986.46h0M301.18 989.85h0M312.5 987.59h0M317.03 976.26h0M315.9 967.2h0M321.56 959.28h0M326.09 952.48h0M331.76 958.14h0M334.02 964.94h0M336.29 947.95h0M344.21 944.55h0M349.88 935.49h0M356.67 928.7h0M361.2 929.83h0M368 932.1h0M373.66 918.51h0M378.19 913.98h0M365.05 901.97h0M289.76 991.41h0M249.65 1026.53h0M225.14 1050.73h0M239.82 1034h0M259.99 1023.37h0M248.85 1030.42h0M263.61 1018.54h0M266.7 1014.04h0M244.96 1031.27h0M257.99 1022.92h0M238.16 1042.24h0M268.49 1017.35h0M258.43 1018.91h0M296.52 990.34h0M248.66 1030.46h0M213.53 1059.92h0M225.17 1051.29h0M279.04 1004.59h0M225.48 1052.4h0M273 1015.16h0M288.28 993.22h0M216.65 1061.96h0M254.79 1025.26h0M271.31 1006.9h0M272.94 1008.41h0M215.33 1055.1h0M273.65 1007.76h0M222.7 1052.27h0M221.5 1050.63h0M259.9 1019.97h0M284.53 996.87h0M237.28 1034.26h0M266.43 1016.32h0M287.36 996.59h0M251.13 1022.68h0M293.16 992.64h0M266.51 1014.07h0M295.66 989.93h0M266.82 1012.45h0M244.43 1039.04h0M271.37 1011.04h0M257.16 1023.13h0M293.1 997.76h0M217.07 1057.7h0M248.16 1033.99h0M283.22 1000.58h0M254.35 1028.26h0M269.16 1013.81h0M261.28 1020.93h0M283.83 998.22h0M241.11 1036.19h0M296.61 991.88h0M230.3 1047.44h0M285.08 997.31h0M273.39 1008.83h0M273.05 1006.39h0M248.38 1028.78h0M271.62 1008.58h0M266.98 1013.51h0M252.27 1027.53h0M223.83 1052.2h0M230.6 1045.38h0M257.06 1019.16h0M222.09 1046.27h0M233.21 1042.08h0M237.29 1041.41h0M280.55 1008.35h0M286.26 1000.27h0M291.8 990.37h0M248.54 1027.62h0M233.84 1039.36h0M291.41 996.1h0M218.54 1058.88h0M277.2 1003.82h0M250.73 1025.25h0M241.73 1036.73h0M226.15 1046.6h0M271.47 1006.6h0M228.63 1049.58h0M294.77 990.52h0M230.11 1043.18h0M249.16 1031.77h0M209.24 1058.08h0M229.49 1039.28h0M233.82 1044.67h0M239.38 1039.86h0M230.12 1051.28h0M225.13 1052.74h0M238.59 1030.56h0M219.44 1066.85h0M227.23 1045.39h0M228.65 1043.15h0M239.54 1030.27h0M242.26 1027.93h0M250.43 1027.16h0M241.79 1038.03h0M234.78 1041.83h0M219.76 1044.55h0M243.4 1029.59h0M217.58 1058.53h0M243.51 1031.77h0M245.69 1029.21h0M220.29 1053.15h0M237.89 1032.96h0M218.75 1054.88h0M220.11 1051.28h0M243.45 1037.54h0M250.17 1032.69h0M212.24 1061.02h0M221.81 1044.61h0M249.85 1025.69h0M234.59 1028.26h0M235.98 1034.58h0M225.24 1050.54h0M228.84 1046.44h0M241.05 1044.45h0M245.35 1035.96h0M219.28 1061.13h0M246.92 1034.61h0M216.12 1057.28h0M235.05 1039.43h0M230.7 1039.37h0M218.86 1053.81h0M223.8 1047.88h0M244.61 1032.09h0M213.95 1054.27h0M235.59 1040.05h0M245.98 1034.27h0M209.9 1059.98h0M242.26 1032.74h0" stroke="#348c1a" stroke-width="12.4" stroke-linecap="round" fill="none"/>
</g>
<rect x="91.5" y="669.2" width="593.9" height="488.9" fill="none" stroke="#262626" stroke-width="1.3"/>
<path d="M150.89 1158.1v4.2M269.67 1158.1v4.2M388.45 1158.1v4.2M507.23 1158.1v4.2M626.01 1158.1v4.2M91.5 1109.21h-4.2M91.5 1011.43h-4.2M91.5 913.65h-4.2M91.5 815.87h-4.2M91.5 718.09h-4.2" stroke="#262626" stroke-width="1.1" fill="none"/>
<text x="150.89" y="1188.6" font-size="28.5" text-anchor="middle" font-family='"DejaVu Sans", "Liberation Sans", sans-serif' fill="#000">−2</text>
<text x="269.67" y="1188.6" font-size="28.5" text-anchor="middle" font-family='"DejaVu Sans", "Liberation Sans", sans-serif' fill="#000">0</text>
<text x="388.45" y="1188.6" font-size="28.5" text-anchor="middle" font-family='"DejaVu Sans", "Liberation Sans", sans-serif' fill="#000">2</text>
<text x="507.23" y="1188.6" font-size="28.5" text-anchor="middle" font-family='"DejaVu Sans", "Liberation Sans", sans-serif' fill="#000">4</text>
<text x="626.01" y="1188.6" font-size="28.5" text-anchor="middle" font-family='"DejaVu Sans", "Liberation Sans", sans-serif' fill="#000">6</text>
<text x="82.1" y="1119.6" font-size="28.5" text-anchor="end" font-family='"DejaVu Sans", "Liberation Sans", sans-serif' fill="#000">−2</text>
<text x="82.1" y="1021.82" font-size="28.5" text-anchor="end" font-family='"DejaVu Sans", "Liberation Sans", sans-serif' fill="#000">0</text>
<text x="82.1" y="924.04" font-size="28.5" text-anchor="end" font-family='"DejaVu Sans", "Liberation Sans", sans-serif' fill="#000">2</text>
<text x="82.1" y="826.26" font-size="28.5" text-anchor="end" font-family='"DejaVu Sans", "Liberation Sans", sans-serif' fill="#000">4</text>
<text x="82.1" y="728.48" font-size="28.5" text-anchor="end" font-family='"DejaVu Sans", "Liberation Sans", sans-serif' fill="#000">6</text>
<text x="389.5" y="661" font-size="28.4" text-anchor="middle" font-family='"DejaVu Sans", "Liberation Sans", sans-serif' fill="#000">MP-ternary formation energy</text>
<text x="125.6" y="708.8" font-size="25.8" text-anchor="start" font-family='"DejaVu Sans", "Liberation Sans", sans-serif' fill="#000">MAE-UNEP-v1 = 75 meV atom<tspan dy="-10.58" dx="1.03" font-size="18.06">−1</tspan></text>
<text x="125.6" y="747.2" font-size="25.8" text-anchor="start" font-family='"DejaVu Sans", "Liberation Sans", sans-serif' fill="#000">MAE-MACE-MP = 69 meV atom<tspan dy="-10.58" dx="1.03" font-size="18.06">−1</tspan></text>
<text x="125.6" y="785" font-size="25.8" text-anchor="start" font-family='"DejaVu Sans", "Liberation Sans", sans-serif' fill="#000">MAE-EAM = 695 meV atom<tspan dy="-10.58" dx="1.03" font-size="18.06">−1</tspan></text>
<path d="M111.2 701h0" stroke="#348c1a" stroke-width="14.4" stroke-linecap="round" fill="none"/>
<path d="M110.7 730.2L112.5 735.73L118.31 735.73L113.61 739.14L115.4 744.67L110.7 741.26L106 744.67L107.79 739.14L103.09 735.73L108.9 735.73z" fill="#1800ff" stroke="#1800ff" stroke-width="1" stroke-linejoin="miter"/>
<path d="M111 767.8l7.6 15.2h-15.2z" fill="#f08026"/>
<text x="329" y="1083" font-size="25.9" text-anchor="start" font-family='"DejaVu Sans", "Liberation Sans", sans-serif' fill="#000">UNEP-v1, <tspan font-style="italic">R</tspan><tspan dy="-10.62" dx="1.29" font-size="18.13">2</tspan><tspan dy="10.62" dx="0.91"> = 0.99438</tspan></text>
<text x="329" y="1116" font-size="25.9" text-anchor="start" font-family='"DejaVu Sans", "Liberation Sans", sans-serif' fill="#000">MACE-MP, <tspan font-style="italic">R</tspan><tspan dy="-10.62" dx="1.29" font-size="18.13">2</tspan><tspan dy="10.62" dx="0.91"> = 0.98826</tspan></text>
<text x="329" y="1149" font-size="25.9" text-anchor="start" font-family='"DejaVu Sans", "Liberation Sans", sans-serif' fill="#000">EAM, <tspan font-style="italic">R</tspan><tspan dy="-10.62" dx="1.29" font-size="18.13">2</tspan><tspan dy="10.62" dx="0.91"> = 0.66115</tspan></text>
<text x="388" y="1226" font-size="28.4" text-anchor="middle" font-family='"DejaVu Sans", "Liberation Sans", sans-serif' fill="#000">DFT energy (eV atom<tspan dy="-11.64" dx="1.14" font-size="19.88">−1</tspan><tspan dy="11.64">)</tspan></text>
<text x="29" y="914" font-size="28.4" text-anchor="middle" font-family='"DejaVu Sans", "Liberation Sans", sans-serif' transform="rotate(-90 29 914)" fill="#000">Model energy (eV atom<tspan dy="-11.64" dx="1.14" font-size="19.88">−1</tspan><tspan dy="11.64">)</tspan></text>
<clipPath id="cE"><rect x="779.7" y="671.5" width="589" height="479.5"/></clipPath><g clip-path="url(#cE)">
<line x1="779.7" y1="1151" x2="1368.7" y2="671.5" stroke="#808080" stroke-width="1.6"/>
<path d="M967.55 1004.7L969.12 1009.53L974.2 1009.53L970.09 1012.52L971.66 1017.36L967.55 1014.37L963.43 1017.36L965 1012.52L960.89 1009.53L965.98 1009.53zM983.68 993.94L985.25 998.78L990.34 998.78L986.22 1001.77L987.79 1006.61L983.68 1003.62L979.56 1006.61L981.14 1001.77L977.02 998.78L982.11 998.78zM959.06 1013.75L960.63 1018.59L965.71 1018.59L961.6 1021.58L963.17 1026.42L959.06 1023.43L954.94 1026.42L956.51 1021.58L952.4 1018.59L957.49 1018.59zM984.53 974.13L986.1 978.97L991.19 978.97L987.07 981.96L988.64 986.8L984.53 983.81L980.41 986.8L981.99 981.96L977.87 978.97L982.96 978.97zM1002.92 969.89L1004.5 974.72L1009.58 974.72L1005.47 977.71L1007.04 982.55L1002.92 979.56L998.81 982.55L1000.38 977.71L996.27 974.72L1001.35 974.72zM1008.58 950.08L1010.16 954.91L1015.24 954.91L1011.13 957.9L1012.7 962.74L1008.58 959.75L1004.47 962.74L1006.04 957.9L1001.93 954.91L1007.01 954.91zM1021.32 943L1022.89 947.84L1027.98 947.84L1023.86 950.83L1025.44 955.66L1021.32 952.67L1017.21 955.66L1018.78 950.83L1014.66 947.84L1019.75 947.84zM1022.74 962.81L1024.31 967.65L1029.39 967.65L1025.28 970.64L1026.85 975.47L1022.74 972.49L1018.62 975.47L1020.19 970.64L1016.08 967.65L1021.16 967.65zM1034.06 961.4L1035.63 966.23L1040.71 966.23L1036.6 969.22L1038.17 974.06L1034.06 971.07L1029.94 974.06L1031.51 969.22L1027.4 966.23L1032.49 966.23zM1033.21 947.25L1034.78 952.08L1039.86 952.08L1035.75 955.07L1037.32 959.91L1033.21 956.92L1029.09 959.91L1030.66 955.07L1026.55 952.08L1031.64 952.08zM1048.21 937.34L1049.78 942.18L1054.86 942.18L1050.75 945.17L1052.32 950L1048.21 947.01L1044.09 950L1045.66 945.17L1041.55 942.18L1046.64 942.18zM1055.28 933.09L1056.85 937.93L1061.94 937.93L1057.83 940.92L1059.4 945.76L1055.28 942.77L1051.17 945.76L1052.74 940.92L1048.63 937.93L1053.71 937.93zM1063.77 931.68L1065.35 936.52L1070.43 936.52L1066.32 939.51L1067.89 944.34L1063.77 941.35L1059.66 944.34L1061.23 939.51L1057.12 936.52L1062.2 936.52zM1065.19 945.83L1066.76 950.67L1071.85 950.67L1067.73 953.66L1069.3 958.49L1065.19 955.5L1061.07 958.49L1062.65 953.66L1058.53 950.67L1063.62 950.67zM896.79 1049.13L898.36 1053.97L903.45 1053.97L899.34 1056.96L900.91 1061.8L896.79 1058.81L892.68 1061.8L894.25 1056.96L890.14 1053.97L895.22 1053.97zM905.28 1044.89L906.85 1049.72L911.94 1049.72L907.83 1052.71L909.4 1057.55L905.28 1054.56L901.17 1057.55L902.74 1052.71L898.63 1049.72L903.71 1049.72zM944.91 1025.08L946.48 1029.91L951.56 1029.91L947.45 1032.9L949.02 1037.74L944.91 1034.75L940.79 1037.74L942.36 1032.9L938.25 1029.91L943.33 1029.91zM936.42 1030.74L937.99 1035.57L943.07 1035.57L938.96 1038.56L940.53 1043.4L936.42 1040.41L932.3 1043.4L933.87 1038.56L929.76 1035.57L934.84 1035.57zM1253.53 769.12L1255.1 773.95L1260.19 773.95L1256.07 776.94L1257.64 781.78L1253.53 778.79L1249.41 781.78L1250.99 776.94L1246.87 773.95L1251.96 773.95zM1223.76 800.18L1225.34 805.01L1230.42 805.01L1226.31 808L1227.88 812.84L1223.76 809.85L1219.65 812.84L1221.22 808L1217.11 805.01L1222.19 805.01zM1213.41 810.53L1214.98 815.37L1220.07 815.37L1215.95 818.36L1217.53 823.19L1213.41 820.2L1209.3 823.19L1210.87 818.36L1206.75 815.37L1211.84 815.37zM1191.41 826.06L1192.98 830.9L1198.07 830.9L1193.95 833.89L1195.53 838.72L1191.41 835.73L1187.3 838.72L1188.87 833.89L1184.75 830.9L1189.84 830.9zM1205.65 831.24L1207.22 836.07L1212.3 836.07L1208.19 839.06L1209.76 843.9L1205.65 840.91L1201.53 843.9L1203.1 839.06L1198.99 836.07L1204.08 836.07zM1188.82 832.53L1190.4 837.37L1195.48 837.37L1191.37 840.36L1192.94 845.19L1188.82 842.2L1184.71 845.19L1186.28 840.36L1182.17 837.37L1187.25 837.37zM1200.47 841.59L1202.04 846.43L1207.13 846.43L1203.01 849.41L1204.59 854.25L1200.47 851.26L1196.36 854.25L1197.93 849.41L1193.81 846.43L1198.9 846.43zM1174.59 833.82L1176.16 838.66L1181.25 838.66L1177.13 841.65L1178.7 846.49L1174.59 843.5L1170.47 846.49L1172.05 841.65L1167.93 838.66L1173.02 838.66zM1157.76 856.6L1159.34 861.44L1164.42 861.44L1160.31 864.43L1161.88 869.26L1157.76 866.27L1153.65 869.26L1155.22 864.43L1151.11 861.44L1156.19 861.44zM1170.71 854.53L1172.28 859.37L1177.36 859.37L1173.25 862.36L1174.82 867.19L1170.71 864.2L1166.59 867.19L1168.16 862.36L1164.05 859.37L1169.13 859.37zM1172 861.78L1173.57 866.61L1178.66 866.61L1174.54 869.6L1176.11 874.44L1172 871.45L1167.89 874.44L1169.46 869.6L1165.34 866.61L1170.43 866.61zM1197.88 861L1199.45 865.84L1204.54 865.84L1200.43 868.83L1202 873.66L1197.88 870.67L1193.77 873.66L1195.34 868.83L1191.22 865.84L1196.31 865.84zM1151.29 883L1152.87 887.84L1157.95 887.84L1153.84 890.83L1155.41 895.66L1151.29 892.67L1147.18 895.66L1148.75 890.83L1144.64 887.84L1149.72 887.84zM1161.65 889.47L1163.22 894.31L1168.3 894.31L1164.19 897.3L1165.76 902.13L1161.65 899.14L1157.53 902.13L1159.1 897.3L1154.99 894.31L1160.08 894.31zM1218.59 883.52L1220.16 888.35L1225.25 888.35L1221.13 891.34L1222.7 896.18L1218.59 893.19L1214.47 896.18L1216.05 891.34L1211.93 888.35L1217.02 888.35zM1131.88 883L1133.45 887.84L1138.54 887.84L1134.43 890.83L1136 895.66L1131.88 892.67L1127.77 895.66L1129.34 890.83L1125.22 887.84L1130.31 887.84zM1134.47 888.18L1136.04 893.01L1141.13 893.01L1137.01 896L1138.59 900.84L1134.47 897.85L1130.36 900.84L1131.93 896L1127.81 893.01L1132.9 893.01zM1129.29 893.35L1130.87 898.19L1135.95 898.19L1131.84 901.18L1133.41 906.02L1129.29 903.03L1125.18 906.02L1126.75 901.18L1122.64 898.19L1127.72 898.19zM1142.24 870.06L1143.81 874.9L1148.89 874.9L1144.78 877.89L1146.35 882.72L1142.24 879.73L1138.12 882.72L1139.69 877.89L1135.58 874.9L1140.66 874.9zM1120.24 898.53L1121.81 903.37L1126.89 903.37L1122.78 906.36L1124.35 911.19L1120.24 908.2L1116.12 911.19L1117.69 906.36L1113.58 903.37L1118.66 903.37zM1131.88 911.47L1133.45 916.31L1138.54 916.31L1134.43 919.3L1136 924.13L1131.88 921.14L1127.77 924.13L1129.34 919.3L1125.22 916.31L1130.31 916.31zM1111.18 911.47L1112.75 916.31L1117.83 916.31L1113.72 919.3L1115.29 924.13L1111.18 921.14L1107.06 924.13L1108.63 919.3L1104.52 916.31L1109.6 916.31zM1112.47 919.24L1114.04 924.07L1119.13 924.07L1115.01 927.06L1116.59 931.9L1112.47 928.91L1108.36 931.9L1109.93 927.06L1105.81 924.07L1110.9 924.07zM1098.24 920.53L1099.81 925.37L1104.89 925.37L1100.78 928.36L1102.35 933.19L1098.24 930.2L1094.12 933.19L1095.69 928.36L1091.58 925.37L1096.66 925.37zM1126.71 912.76L1128.28 917.6L1133.36 917.6L1129.25 920.59L1130.82 925.43L1126.71 922.44L1122.59 925.43L1124.16 920.59L1120.05 917.6L1125.13 917.6zM1194 914.06L1195.57 918.9L1200.66 918.9L1196.54 921.89L1198.11 926.72L1194 923.73L1189.89 926.72L1191.46 921.89L1187.34 918.9L1192.43 918.9zM1194 918.72L1195.57 923.55L1200.66 923.55L1196.54 926.54L1198.11 931.38L1194 928.39L1189.89 931.38L1191.46 926.54L1187.34 923.55L1192.43 923.55zM1074.94 919.24L1076.51 924.07L1081.6 924.07L1077.48 927.06L1079.06 931.9L1074.94 928.91L1070.83 931.9L1072.4 927.06L1068.28 924.07L1073.37 924.07zM1067.18 932.18L1068.75 937.01L1073.83 937.01L1069.72 940L1071.29 944.84L1067.18 941.85L1063.06 944.84L1064.63 940L1060.52 937.01L1065.6 937.01zM1051.65 934.76L1053.22 939.6L1058.3 939.6L1054.19 942.59L1055.76 947.43L1051.65 944.44L1047.53 947.43L1049.1 942.59L1044.99 939.6L1050.08 939.6zM1045.18 937.35L1046.75 942.19L1051.83 942.19L1047.72 945.18L1049.29 950.02L1045.18 947.03L1041.06 950.02L1042.63 945.18L1038.52 942.19L1043.6 942.19zM1078.82 939.94L1080.4 944.78L1085.48 944.78L1081.37 947.77L1082.94 952.6L1078.82 949.61L1074.71 952.6L1076.28 947.77L1072.17 944.78L1077.25 944.78zM1065.88 947.71L1067.45 952.54L1072.54 952.54L1068.43 955.53L1070 960.37L1065.88 957.38L1061.77 960.37L1063.34 955.53L1059.22 952.54L1064.31 952.54zM1088.66 947.71L1090.23 952.54L1095.32 952.54L1091.2 955.53L1092.77 960.37L1088.66 957.38L1084.54 960.37L1086.12 955.53L1082 952.54L1087.09 952.54zM1055.53 933.47L1057.1 938.31L1062.19 938.31L1058.07 941.3L1059.64 946.13L1055.53 943.14L1051.41 946.13L1052.99 941.3L1048.87 938.31L1053.96 938.31zM1137.06 877.82L1138.63 882.66L1143.72 882.66L1139.6 885.65L1141.17 890.49L1137.06 887.5L1132.94 890.49L1134.52 885.65L1130.4 882.66L1135.49 882.66zM1130.59 875.24L1132.16 880.07L1137.25 880.07L1133.13 883.06L1134.7 887.9L1130.59 884.91L1126.47 887.9L1128.05 883.06L1123.93 880.07L1129.02 880.07zM1221.18 797.59L1222.75 802.43L1227.83 802.43L1223.72 805.41L1225.29 810.25L1221.18 807.26L1217.06 810.25L1218.63 805.41L1214.52 802.43L1219.6 802.43zM942.17 1014.9L943.74 1019.74L948.83 1019.74L944.71 1022.72L946.28 1027.56L942.17 1024.57L938.05 1027.56L939.62 1022.72L935.51 1019.74L940.6 1019.74zM966.56 994.26L968.13 999.1L973.22 999.1L969.1 1002.09L970.67 1006.93L966.56 1003.94L962.44 1006.93L964.02 1002.09L959.9 999.1L964.99 999.1zM893.32 1055.36L894.89 1060.19L899.98 1060.19L895.86 1063.18L897.43 1068.02L893.32 1065.03L889.21 1068.02L890.78 1063.18L886.66 1060.19L891.75 1060.19zM944.9 1015.51L946.47 1020.35L951.56 1020.35L947.44 1023.34L949.01 1028.18L944.9 1025.19L940.78 1028.18L942.36 1023.34L938.24 1020.35L943.33 1020.35zM930.57 1029.03L932.14 1033.87L937.22 1033.87L933.11 1036.86L934.68 1041.7L930.57 1038.71L926.45 1041.7L928.02 1036.86L923.91 1033.87L929 1033.87zM939.6 1020.7L941.17 1025.54L946.26 1025.54L942.14 1028.53L943.72 1033.37L939.6 1030.38L935.49 1033.37L937.06 1028.53L932.94 1025.54L938.03 1025.54zM918.22 1037.69L919.79 1042.53L924.88 1042.53L920.76 1045.52L922.34 1050.35L918.22 1047.37L914.11 1050.35L915.68 1045.52L911.56 1042.53L916.65 1042.53zM907.07 1045.66L908.64 1050.5L913.73 1050.5L909.61 1053.49L911.18 1058.32L907.07 1055.34L902.96 1058.32L904.53 1053.49L900.41 1050.5L905.5 1050.5zM941.95 1017.97L943.52 1022.81L948.61 1022.81L944.49 1025.8L946.07 1030.63L941.95 1027.64L937.84 1030.63L939.41 1025.8L935.29 1022.81L940.38 1022.81zM961.6 1003.09L963.17 1007.92L968.25 1007.92L964.14 1010.91L965.71 1015.75L961.6 1012.76L957.48 1015.75L959.05 1010.91L954.94 1007.92L960.03 1007.92zM970.7 994.27L972.27 999.1L977.35 999.1L973.24 1002.09L974.81 1006.93L970.7 1003.94L966.58 1006.93L968.15 1002.09L964.04 999.1L969.12 999.1zM966.04 995.91L967.61 1000.75L972.7 1000.75L968.58 1003.74L970.16 1008.57L966.04 1005.58L961.93 1008.57L963.5 1003.74L959.38 1000.75L964.47 1000.75zM912.43 1042.8L914 1047.63L919.09 1047.63L914.97 1050.62L916.55 1055.46L912.43 1052.47L908.32 1055.46L909.89 1050.62L905.77 1047.63L910.86 1047.63zM969.61 995.36L971.18 1000.2L976.27 1000.2L972.16 1003.19L973.73 1008.02L969.61 1005.04L965.5 1008.02L967.07 1003.19L962.95 1000.2L968.04 1000.2zM922.69 1034.61L924.26 1039.44L929.35 1039.44L925.23 1042.43L926.8 1047.27L922.69 1044.28L918.58 1047.27L920.15 1042.43L916.03 1039.44L921.12 1039.44zM898.95 1054.27L900.52 1059.11L905.61 1059.11L901.49 1062.09L903.07 1066.93L898.95 1063.94L894.84 1066.93L896.41 1062.09L892.29 1059.11L897.38 1059.11zM894.27 1054.96L895.84 1059.8L900.93 1059.8L896.82 1062.79L898.39 1067.62L894.27 1064.63L890.16 1067.62L891.73 1062.79L887.62 1059.8L892.7 1059.8zM919.06 1035.51L920.63 1040.35L925.72 1040.35L921.6 1043.34L923.17 1048.18L919.06 1045.19L914.95 1048.18L916.52 1043.34L912.4 1040.35L917.49 1040.35zM916.46 1036.99L918.04 1041.82L923.12 1041.82L919.01 1044.81L920.58 1049.65L916.46 1046.66L912.35 1049.65L913.92 1044.81L909.81 1041.82L914.89 1041.82zM899.29 1052.79L900.86 1057.63L905.95 1057.63L901.84 1060.62L903.41 1065.45L899.29 1062.47L895.18 1065.45L896.75 1060.62L892.64 1057.63L897.72 1057.63zM952.18 1009.42L953.75 1014.26L958.84 1014.26L954.73 1017.25L956.3 1022.08L952.18 1019.09L948.07 1022.08L949.64 1017.25L945.53 1014.26L950.61 1014.26zM953.61 1008.76L955.18 1013.6L960.27 1013.6L956.16 1016.59L957.73 1021.42L953.61 1018.43L949.5 1021.42L951.07 1016.59L946.95 1013.6L952.04 1013.6zM896.21 1056.1L897.78 1060.94L902.87 1060.94L898.76 1063.93L900.33 1068.77L896.21 1065.78L892.1 1068.77L893.67 1063.93L889.55 1060.94L894.64 1060.94zM968.58 999.23L970.15 1004.07L975.24 1004.07L971.12 1007.06L972.69 1011.89L968.58 1008.91L964.46 1011.89L966.04 1007.06L961.92 1004.07L967.01 1004.07zM967.08 997.95L968.65 1002.79L973.74 1002.79L969.62 1005.78L971.2 1010.62L967.08 1007.63L962.97 1010.62L964.54 1005.78L960.42 1002.79L965.51 1002.79zM919.21 1033.88L920.79 1038.71L925.87 1038.71L921.76 1041.7L923.33 1046.54L919.21 1043.55L915.1 1046.54L916.67 1041.7L912.56 1038.71L917.64 1038.71zM902.86 1046.98L904.43 1051.82L909.51 1051.82L905.4 1054.81L906.97 1059.64L902.86 1056.65L898.74 1059.64L900.31 1054.81L896.2 1051.82L901.29 1051.82zM963.96 1003.63L965.53 1008.47L970.62 1008.47L966.51 1011.46L968.08 1016.3L963.96 1013.31L959.85 1016.3L961.42 1011.46L957.31 1008.47L962.39 1008.47zM900.48 1052.45L902.05 1057.28L907.14 1057.28L903.02 1060.27L904.59 1065.11L900.48 1062.12L896.36 1065.11L897.94 1060.27L893.82 1057.28L898.91 1057.28zM963.08 1002.04L964.65 1006.88L969.74 1006.88L965.63 1009.87L967.2 1014.71L963.08 1011.72L958.97 1014.71L960.54 1009.87L956.43 1006.88L961.51 1006.88zM935.85 1023.62L937.42 1028.46L942.51 1028.46L938.39 1031.45L939.97 1036.29L935.85 1033.3L931.74 1036.29L933.31 1031.45L929.19 1028.46L934.28 1028.46zM908.95 1045.73L910.52 1050.57L915.61 1050.57L911.49 1053.56L913.06 1058.4L908.95 1055.41L904.84 1058.4L906.41 1053.56L902.29 1050.57L907.38 1050.57zM948.27 1013.42L949.84 1018.25L954.93 1018.25L950.81 1021.24L952.38 1026.08L948.27 1023.09L944.16 1026.08L945.73 1021.24L941.61 1018.25L946.7 1018.25zM900.17 1053.21L901.75 1058.05L906.83 1058.05L902.72 1061.04L904.29 1065.88L900.17 1062.89L896.06 1065.88L897.63 1061.04L893.52 1058.05L898.6 1058.05zM925.85 1033.1L927.42 1037.94L932.51 1037.94L928.39 1040.93L929.96 1045.76L925.85 1042.78L921.73 1045.76L923.31 1040.93L919.19 1037.94L924.28 1037.94zM956.37 1005.32L957.94 1010.16L963.03 1010.16L958.91 1013.15L960.48 1017.98L956.37 1014.99L952.26 1017.98L953.83 1013.15L949.71 1010.16L954.8 1010.16zM899.21 1052.73L900.78 1057.56L905.87 1057.56L901.75 1060.55L903.32 1065.39L899.21 1062.4L895.1 1065.39L896.67 1060.55L892.55 1057.56L897.64 1057.56zM932.82 1024.95L934.39 1029.79L939.48 1029.79L935.36 1032.78L936.94 1037.62L932.82 1034.63L928.71 1037.62L930.28 1032.78L926.16 1029.79L931.25 1029.79zM952.65 1010.13L954.22 1014.97L959.3 1014.97L955.19 1017.96L956.76 1022.79L952.65 1019.8L948.53 1022.79L950.1 1017.96L945.99 1014.97L951.07 1014.97zM956.2 1008.27L957.78 1013.11L962.86 1013.11L958.75 1016.1L960.32 1020.93L956.2 1017.94L952.09 1020.93L953.66 1016.1L949.55 1013.11L954.63 1013.11zM906.74 1046.05L908.31 1050.89L913.4 1050.89L909.28 1053.88L910.86 1058.72L906.74 1055.73L902.63 1058.72L904.2 1053.88L900.08 1050.89L905.17 1050.89zM932.24 1028.13L933.81 1032.97L938.9 1032.97L934.78 1035.96L936.36 1040.8L932.24 1037.81L928.13 1040.8L929.7 1035.96L925.58 1032.97L930.67 1032.97zM967.68 996.06L969.25 1000.89L974.34 1000.89L970.22 1003.88L971.79 1008.72L967.68 1005.73L963.57 1008.72L965.14 1003.88L961.02 1000.89L966.11 1000.89zM949.23 1011.08L950.81 1015.92L955.89 1015.92L951.78 1018.91L953.35 1023.75L949.23 1020.76L945.12 1023.75L946.69 1018.91L942.58 1015.92L947.66 1015.92zM926.41 1032.39L927.98 1037.22L933.07 1037.22L928.95 1040.21L930.53 1045.05L926.41 1042.06L922.3 1045.05L923.87 1040.21L919.75 1037.22L924.84 1037.22zM972.33 994.26L973.9 999.09L978.99 999.09L974.87 1002.08L976.45 1006.92L972.33 1003.93L968.22 1006.92L969.79 1002.08L965.67 999.09L970.76 999.09zM932.5 1025.82L934.07 1030.66L939.16 1030.66L935.04 1033.65L936.62 1038.48L932.5 1035.49L928.39 1038.48L929.96 1033.65L925.84 1030.66L930.93 1030.66zM916.06 1036.47L917.63 1041.3L922.72 1041.3L918.61 1044.29L920.18 1049.13L916.06 1046.14L911.95 1049.13L913.52 1044.29L909.41 1041.3L914.49 1041.3zM922.86 1031.35L924.43 1036.18L929.52 1036.18L925.4 1039.17L926.97 1044.01L922.86 1041.02L918.74 1044.01L920.32 1039.17L916.2 1036.18L921.29 1036.18zM946.49 1010.93L948.06 1015.76L953.15 1015.76L949.04 1018.75L950.61 1023.59L946.49 1020.6L942.38 1023.59L943.95 1018.75L939.84 1015.76L944.92 1015.76z" fill="#1800ff" stroke="#1800ff" stroke-width="1" stroke-linejoin="miter"/>
<path d="M944.34 1132.21l6 12h-12zM1002.36 919.38l6 12h-12zM1020.75 902.4l6 12h-12zM1022.74 922.77l6 12h-12zM1033.21 878.34l6 12h-12zM1049.06 863.34l6 12h-12zM1050.47 842.68l6 12h-12zM1052.45 813.81l6 12h-12zM1062.36 805.32l6 12h-12zM1065.19 819.47l6 12h-12zM1065.19 847.77l6 12h-12zM983.68 944l6 12h-12zM988.77 952.49l6 12h-12zM971.79 976.55l6 12h-12zM1010 969.47l6 12h-12zM1034.62 971.74l6 12h-12zM1046.79 962.4l6 12h-12zM1065.19 942.58l6 12h-12zM1066.6 922.77l6 12h-12zM983.11 986.45l6 12h-12zM906.7 816.08l6 12h-12zM910.94 831.36l6 12h-12zM921.7 835.89l6 12h-12zM914.34 829.38l6 12h-12zM953.4 833.06l6 12h-12zM952.83 844.38l6 12h-12zM916.6 854.85l6 12h-12zM926.51 860.51l6 12h-12zM912.36 863.34l6 12h-12zM942.08 863.34l6 12h-12zM951.98 863.34l6 12h-12zM903.02 873.81l6 12h-12zM940.66 874.66l6 12h-12zM951.98 876.08l6 12h-12zM924.53 881.74l6 12h-12zM932.17 890.23l6 12h-12zM903.87 891.64l6 12h-12zM950.57 887.4l6 12h-12zM920.85 897.3l6 12h-12zM940.66 895.89l6 12h-12zM903.87 907.21l6 12h-12zM930.75 905.79l6 12h-12zM944.91 907.21l6 12h-12zM953.4 915.7l6 12h-12zM919.43 918.53l6 12h-12zM905.28 918.53l6 12h-12zM937.83 918.53l6 12h-12zM926.51 1072.77l6 12h-12zM940.66 1075.6l6 12h-12zM951.98 1067.11l6 12h-12zM956.23 1083.25l6 12h-12zM919.43 1052.96l6 12h-12zM942.08 1054.38l6 12h-12zM953.4 1044.47l6 12h-12zM927.92 1037.4l6 12h-12zM947.74 1034.57l6 12h-12zM895.38 1009.09l6 12h-12zM899.62 1023.25l6 12h-12zM896.79 973.72l6 12h-12zM939.25 1045.89l6 12h-12zM944.91 1060.04l6 12h-12zM1124.12 665.29l6 12h-12zM1140.94 717.06l6 12h-12zM1124.12 728.71l6 12h-12zM1132.66 739.06l6 12h-12zM1140.94 750.71l6 12h-12zM1151.29 759.25l6 12h-12zM1100.82 768.82l6 12h-12zM1224.28 762.87l6 12h-12zM1199.69 766.24l6 12h-12zM1187.53 777.88l6 12h-12zM1192.71 786.94l6 12h-12zM1253.53 798.59l6 12h-12zM1062.78 805.06l6 12h-12zM1112.47 804.54l6 12h-12zM1126.19 801.18l6 12h-12zM1121.53 807.13l6 12h-12zM1052.16 813.6l6 12h-12zM1065.36 819.81l6 12h-12zM1147.41 814.89l6 12h-12zM1137.06 824.47l6 12h-12zM1130.07 828.35l6 12h-12zM1194.78 814.12l6 12h-12zM1203.06 811.53l6 12h-12zM1221.18 824.47l6 12h-12zM1050.87 842.59l6 12h-12zM1065.88 847.76l6 12h-12zM1102.89 851.13l6 12h-12zM1119.72 849.06l6 12h-12zM1172 833.53l6 12h-12zM1181.84 840.78l6 12h-12zM1175.88 845.18l6 12h-12zM1187.53 849.06l6 12h-12zM1212.12 847.76l6 12h-12zM1218.59 852.94l6 12h-12zM1049.58 863.29l6 12h-12zM1161.65 865.88l6 12h-12zM1139.65 873.65l6 12h-12zM1170.19 882.19l6 12h-12zM1203.58 882.71l6 12h-12zM1124.12 886.59l6 12h-12zM1126.71 895.65l6 12h-12zM1160.87 895.13l6 12h-12zM1191.41 894.35l6 12h-12zM1130.59 906l6 12h-12zM1078.82 913.76l6 12h-12zM1099.01 916.35l6 12h-12zM1088.66 904.71l6 12h-12zM1117.13 921.53l6 12h-12zM1085.29 925.93l6 12h-12zM1068.99 921.53l6 12h-12zM1111.18 936.54l6 12h-12zM1099.53 939.65l6 12h-12zM1065.36 942.24l6 12h-12zM1046.47 962.16l6 12h-12zM1073.65 907.29l6 12h-12zM919.42 971.26l6 12h-12zM914.28 939.06l6 12h-12zM944.72 969.26l6 12h-12zM915.09 1006.74l6 12h-12zM937.24 953.04l6 12h-12zM897.51 948.09l6 12h-12zM912.4 966.43l6 12h-12zM925.62 987.78l6 12h-12zM937.1 984.97l6 12h-12zM918.45 962.37l6 12h-12zM942.73 989.47l6 12h-12zM918.59 991.63l6 12h-12zM950.96 968.89l6 12h-12zM929.05 945.49l6 12h-12zM907.14 990.71l6 12h-12zM955.16 937.82l6 12h-12zM939.84 973.5l6 12h-12zM942.27 892.87l6 12h-12zM945.38 953.07l6 12h-12zM938.23 929.51l6 12h-12zM935.63 981.6l6 12h-12zM936.45 973.61l6 12h-12zM898.51 891.14l6 12h-12zM924.26 963.26l6 12h-12zM910.43 968.54l6 12h-12zM900.16 887.24l6 12h-12zM925.77 923.55l6 12h-12zM934.89 954.44l6 12h-12zM911.6 1000.51l6 12h-12zM896.83 927.24l6 12h-12zM914.13 927.93l6 12h-12zM903.96 989.94l6 12h-12zM930.74 917.53l6 12h-12zM947.76 929.26l6 12h-12zM947.41 962.11l6 12h-12zM933.9 950.57l6 12h-12zM934.69 919.26l6 12h-12zM903.51 950.86l6 12h-12zM935.99 998.75l6 12h-12zM920.19 931.12l6 12h-12zM910.89 910.48l6 12h-12zM933.89 905.82l6 12h-12zM957.87 940.63l6 12h-12zM922.66 914.55l6 12h-12zM958.08 939.96l6 12h-12zM914.62 937.78l6 12h-12zM904.38 959.08l6 12h-12zM945.46 989.27l6 12h-12zM897.61 945.96l6 12h-12zM913.84 1005.23l6 12h-12zM945.48 903.74l6 12h-12zM934.65 937.44l6 12h-12zM936.95 956.45l6 12h-12zM944.14 911.84l6 12h-12zM930.01 917.05l6 12h-12zM915.27 945.57l6 12h-12zM925.7 920.72l6 12h-12zM943.18 954.53l6 12h-12zM899.06 904.73l6 12h-12zM925.16 1002.48l6 12h-12zM952.08 947.88l6 12h-12zM897.7 982.14l6 12h-12zM923.42 952.3l6 12h-12zM940.89 960.63l6 12h-12zM926.8 1001.76l6 12h-12zM920.79 925.26l6 12h-12zM915.25 989.74l6 12h-12zM900.91 990.66l6 12h-12zM940.04 931.28l6 12h-12zM914.62 982.48l6 12h-12zM926.58 948.4l6 12h-12zM927.78 916.26l6 12h-12zM906.35 953.8l6 12h-12zM911.11 988.2l6 12h-12zM946.09 965.25l6 12h-12zM898.38 973.93l6 12h-12zM949.22 899.85l6 12h-12zM941.15 887.4l6 12h-12zM915 1002.69l6 12h-12zM906.12 957.45l6 12h-12zM903.53 923.39l6 12h-12zM901.28 876.06l6 12h-12zM932.61 976.83l6 12h-12zM923.67 913.88l6 12h-12zM934.16 939.64l6 12h-12zM955.23 922.66l6 12h-12zM900.26 970.21l6 12h-12zM906.2 960.5l6 12h-12zM928.29 1001.57l6 12h-12zM931.34 958.96l6 12h-12zM913.18 948.77l6 12h-12zM912.62 978.05l6 12h-12zM911.39 922.22l6 12h-12zM942.67 893.98l6 12h-12zM941.21 963.98l6 12h-12zM902.1 965.89l6 12h-12zM902.47 885.95l6 12h-12zM933.78 902.7l6 12h-12zM951.39 938.3l6 12h-12zM916.92 984.8l6 12h-12zM898.63 974.28l6 12h-12zM900.13 889.78l6 12h-12zM956.07 967.82l6 12h-12zM957.36 965.46l6 12h-12zM935.69 919.73l6 12h-12zM911.43 916.63l6 12h-12zM935.01 918.9l6 12h-12zM948.54 962.93l6 12h-12zM946.88 931.37l6 12h-12zM949.82 943.74l6 12h-12zM933.69 951.95l6 12h-12zM942.88 925.79l6 12h-12zM902.83 872.47l6 12h-12zM952.16 938.37l6 12h-12zM926.07 998.53l6 12h-12zM935.36 930.67l6 12h-12zM906.42 890.99l6 12h-12zM920.12 924.34l6 12h-12zM912.61 908.41l6 12h-12zM906.85 909.83l6 12h-12zM911.43 938.53l6 12h-12zM898.79 1003.65l6 12h-12zM919.77 1005.62l6 12h-12zM939.61 966.75l6 12h-12zM926.16 1006.72l6 12h-12zM904.13 965.98l6 12h-12zM914.92 966.85l6 12h-12zM942.2 891.61l6 12h-12zM921.76 1010.87l6 12h-12zM919.47 913.48l6 12h-12zM942.39 973.24l6 12h-12zM906.96 902.98l6 12h-12zM937.01 930.96l6 12h-12zM900.58 982.27l6 12h-12zM929.1 919.1l6 12h-12zM902.63 878.07l6 12h-12zM952.75 939.87l6 12h-12zM912.7 927.55l6 12h-12zM907.96 942.44l6 12h-12zM921.84 945.78l6 12h-12zM902.05 913.78l6 12h-12zM903.52 947.34l6 12h-12zM954.16 955.63l6 12h-12zM897.88 947l6 12h-12zM927.09 951.68l6 12h-12zM920.24 959.58l6 12h-12zM941.97 1001.95l6 12h-12zM915.95 933.67l6 12h-12zM948.25 900.55l6 12h-12zM904 913.46l6 12h-12zM953.3 1028.58l6 12h-12zM943.9 1045.02l6 12h-12zM950.44 1012.08l6 12h-12zM938.39 1026.9l6 12h-12zM943.7 1028.64l6 12h-12zM951.68 1043.72l6 12h-12zM955.14 1049.82l6 12h-12zM951.86 1044.88l6 12h-12zM944.22 1059.95l6 12h-12zM949.35 1068.54l6 12h-12zM951.1 1052.75l6 12h-12zM940.02 1059.66l6 12h-12zM942.78 1017.2l6 12h-12zM935.17 1019.64l6 12h-12zM939.9 1051.18l6 12h-12zM951.96 1043.79l6 12h-12zM936.72 1031.33l6 12h-12zM948.31 1023.48l6 12h-12zM943.9 1031.66l6 12h-12zM947.64 1060.58l6 12h-12zM951.07 1015.03l6 12h-12zM946.34 1019.75l6 12h-12zM950.65 1036.88l6 12h-12zM936.43 1028.84l6 12h-12zM955.6 1037.8l6 12h-12zM944.03 1036.58l6 12h-12zM952.05 1067.39l6 12h-12zM947.92 1015.54l6 12h-12zM953.17 1035.21l6 12h-12zM945.18 1064l6 12h-12zM921.24 966.53l6 12h-12zM914.04 965.58l6 12h-12zM931.81 975.73l6 12h-12zM943.56 968.21l6 12h-12zM918.7 968.65l6 12h-12zM949.71 992.73l6 12h-12zM921.75 961.8l6 12h-12zM948.58 984.39l6 12h-12zM899.14 963.53l6 12h-12zM902.94 999.21l6 12h-12zM952.84 965.46l6 12h-12zM946.42 973.59l6 12h-12zM939.31 1008.67l6 12h-12zM935.59 1004.59l6 12h-12zM920.23 953.15l6 12h-12zM928.66 990.68l6 12h-12zM908.3 977.82l6 12h-12zM916.55 954.25l6 12h-12zM916.22 977.41l6 12h-12zM926.44 998.27l6 12h-12zM939.93 996.12l6 12h-12zM930.21 1004.48l6 12h-12zM919.38 991.13l6 12h-12zM939.1 986.48l6 12h-12zM914.49 957.55l6 12h-12zM902.23 975.66l6 12h-12zM932.93 1001.94l6 12h-12zM941.28 972.46l6 12h-12zM954.65 970.37l6 12h-12zM941.38 957.18l6 12h-12zM943.7 996.1l6 12h-12zM939.61 1007.06l6 12h-12zM942.78 992.26l6 12h-12zM909.79 986.12l6 12h-12zM952.59 968.05l6 12h-12zM957.48 987.9l6 12h-12zM921.29 952.68l6 12h-12zM921.09 964.09l6 12h-12zM937.46 1011.05l6 12h-12zM953.46 992.43l6 12h-12zM920.87 959.58l6 12h-12zM939.68 988.52l6 12h-12zM941.33 976.84l6 12h-12zM952.01 966.34l6 12h-12zM915.82 969.91l6 12h-12zM935.53 1010.9l6 12h-12zM907.22 993.68l6 12h-12zM944.52 967.11l6 12h-12zM900.7 989.33l6 12h-12zM942.12 979.63l6 12h-12zM923.28 986.91l6 12h-12zM953.12 972.17l6 12h-12zM914.27 991.9l6 12h-12zM956.97 964.68l6 12h-12zM931.82 991.77l6 12h-12zM908.24 964.88l6 12h-12zM933.81 994.56l6 12h-12zM939.77 999.94l6 12h-12zM900.61 984.04l6 12h-12zM916.62 1007.84l6 12h-12zM936.96 1012.81l6 12h-12zM911.06 997.85l6 12h-12zM949.14 983.52l6 12h-12zM903.07 965.09l6 12h-12zM906.55 958.53l6 12h-12zM906.25 992.57l6 12h-12zM903.32 1001.84l6 12h-12zM942.63 1005.63l6 12h-12zM946.84 998.91l6 12h-12zM903.23 959.19l6 12h-12zM900.81 965.93l6 12h-12zM920.11 982.35l6 12h-12zM939.16 1000.85l6 12h-12zM902.01 978.74l6 12h-12zM930.63 976.91l6 12h-12zM904.11 991.36l6 12h-12zM920.1 997l6 12h-12zM927.64 1015.16l6 12h-12zM955.63 957.19l6 12h-12zM944.1 999.44l6 12h-12zM915.22 960.1l6 12h-12zM926.62 975.54l6 12h-12zM920.58 971.41l6 12h-12zM927.85 997.85l6 12h-12zM945.92 989.96l6 12h-12zM915.22 974.42l6 12h-12zM949.59 986.29l6 12h-12zM899.93 979.88l6 12h-12zM911.6 995.86l6 12h-12zM901.36 970.13l6 12h-12zM902.77 983.58l6 12h-12zM958.1 987.73l6 12h-12zM920.84 1013.28l6 12h-12zM902.51 975.65l6 12h-12zM947.27 952.82l6 12h-12zM944.48 975.99l6 12h-12zM925.32 977.41l6 12h-12zM928.97 955.95l6 12h-12zM924.35 983.21l6 12h-12zM902.11 970.66l6 12h-12zM956.24 997.21l6 12h-12zM928.41 955.94l6 12h-12zM921.24 1003.16l6 12h-12zM923.86 991.13l6 12h-12zM952.98 994.49l6 12h-12zM936.38 954.84l6 12h-12zM898.28 1002.58l6 12h-12zM922.52 1009.4l6 12h-12zM906.02 1003.32l6 12h-12zM923.03 970.12l6 12h-12zM926.05 971.14l6 12h-12zM938.29 960.52l6 12h-12zM907.33 982.28l6 12h-12zM901.39 977.3l6 12h-12zM909.03 953.69l6 12h-12zM934.08 961.37l6 12h-12zM911.52 1012.39l6 12h-12zM955.17 954.52l6 12h-12zM908.3 980.42l6 12h-12zM913.4 1001.56l6 12h-12zM920.01 1002.95l6 12h-12zM906.26 986.23l6 12h-12zM957.5 998.19l6 12h-12zM902.4 959.71l6 12h-12zM936.86 976.9l6 12h-12zM919.75 983.59l6 12h-12zM933.01 1015.36l6 12h-12zM911.79 989.51l6 12h-12zM913.17 987.99l6 12h-12zM942.34 961.19l6 12h-12zM926.75 998.43l6 12h-12zM897.3 1002.69l6 12h-12zM922.87 985.31l6 12h-12zM934.81 1004.1l6 12h-12zM900.28 985.07l6 12h-12zM899.18 977.58l6 12h-12zM918.32 953.88l6 12h-12zM915.33 981.78l6 12h-12zM937.57 1012.69l6 12h-12zM919.86 986.99l6 12h-12zM915.58 963.34l6 12h-12zM954.82 957.53l6 12h-12zM924.73 1000.41l6 12h-12zM929.71 977.8l6 12h-12zM954.36 971.97l6 12h-12zM931.15 1006.5l6 12h-12zM905.39 975.34l6 12h-12zM927.57 989.33l6 12h-12zM909.7 982.04l6 12h-12zM900.52 958.21l6 12h-12zM918.09 961.85l6 12h-12zM957.03 969.63l6 12h-12zM913.96 1003.5l6 12h-12zM942.94 969.55l6 12h-12zM948.42 993.22l6 12h-12zM920.99 993.42l6 12h-12zM912.09 969.64l6 12h-12zM951.37 981.04l6 12h-12zM952.66 964.01l6 12h-12zM905.34 955.87l6 12h-12z" fill="#f08026"/>
<line x1="897.5" y1="1055.1" x2="962.29" y2="1002.36" stroke="#348c1a" stroke-width="13.5" stroke-linecap="round"/>
<path d="M968.96 996.7h0M971.79 993.87h0M983.11 985.38h0M988.77 981.13h0M1001.51 969.81h0M1010 962.74h0M1021.32 955.66h0M1033.21 942.92h0M1046.23 935.85h0M1049.62 920.28h0M1052.45 916.6h0M1062.36 910.38h0M1065.19 899.06h0M1068.02 918.87h0M1253.53 762.4h0M1224.28 781.29h0M1218.59 786.47h0M1212.89 796.05h0M1221.18 796.05h0M1197.88 796.82h0M1203.06 804.59h0M1192.71 805.88h0M1187.53 812.35h0M1182.35 811.84h0M1172 821.41h0M1169.41 827.88h0M1161.13 834.35h0M1151.29 840.31h0M1155.95 839.53h0M1160.35 848.59h0M1170.19 847.29h0M1132.66 846.78h0M1146.12 851.18h0M1137.06 853.76h0M1130.59 857.65h0M1138.35 860.24h0M1128 865.41h0M1140.94 868h0M1122.82 870.59h0M1113.76 875.76h0M1117.65 879.65h0M1100.82 882.24h0M1088.66 890.52h0M1099.01 892.59h0M1110.66 891.81h0M1099.01 900.35h0M1065.88 899.06h0M1073.65 897.76h0M1078.82 902.94h0M1085.29 906.05h0M1062.78 910.71h0M1065.88 915.88h0M1068.47 921.06h0M1051.65 918.47h0M1049.06 921.06h0M1046.47 935.29h0M1133.18 862.82h0M1125.41 874.47h0M1196.59 802h0M1190.12 808.47h0M946.45 1015.55h0M900.42 1052.85h0M954.16 1013.67h0M900.04 1052.86h0M935 1021.83h0M936.61 1020.77h0M937.38 1021.62h0M902.1 1045.79h0M901.93 1051.91h0M902.37 1052.07h0M929.29 1032.13h0M946.98 1018.76h0M903.44 1053.05h0M907.16 1050.73h0M947.32 1014.64h0M896.64 1053.85h0M949.95 1017.37h0M928.45 1030.4h0M907.57 1046.52h0M959.09 1003.19h0M910.14 1042.97h0M902.16 1050.17h0M926.74 1033.73h0M910.17 1047.11h0M908.39 1049.77h0M926.9 1030.97h0M934.78 1023.65h0M915.5 1041.13h0M932.45 1031.5h0M934.68 1025.95h0M942.94 1021.67h0M951.68 1009.02h0M916.18 1038.49h0M920.54 1035.22h0M956.34 1007.5h0M938.17 1018.74h0M959.13 1001.97h0M918.39 1035.43h0M905.77 1051.39h0M937.54 1025.8h0M899.69 1051.07h0M939.67 1021.17h0M945.34 1016.31h0M918.06 1035.99h0M902.17 1047.91h0M923.87 1032.18h0M953.98 1007.3h0M909.01 1044.97h0M959.13 1003.69h0M933.25 1030.78h0M905.08 1050.37h0M898.86 1053.15h0M934.91 1024.92h0M930.72 1026.98h0M957.86 1003.51h0M904.7 1050.1h0M947.15 1012.52h0M902.09 1049.46h0M963.8 1003.53h0M915.78 1040.88h0" stroke="#348c1a" stroke-width="12" stroke-linecap="round" fill="none"/>
</g>
<rect x="779.7" y="671.5" width="589" height="479.5" fill="none" stroke="#262626" stroke-width="1.3"/>
<path d="M838.6 1151v4.2M956.4 1151v4.2M1074.2 1151v4.2M1192 1151v4.2M1309.8 1151v4.2M779.7 1103.05h-4.2M779.7 1007.15h-4.2M779.7 911.25h-4.2M779.7 815.35h-4.2M779.7 719.45h-4.2" stroke="#262626" stroke-width="1.1" fill="none"/>
<text x="838.6" y="1180.81" font-size="28" text-anchor="middle" font-family='"DejaVu Sans", "Liberation Sans", sans-serif' fill="#000">−2</text>
<text x="956.4" y="1180.81" font-size="28" text-anchor="middle" font-family='"DejaVu Sans", "Liberation Sans", sans-serif' fill="#000">0</text>
<text x="1074.2" y="1180.81" font-size="28" text-anchor="middle" font-family='"DejaVu Sans", "Liberation Sans", sans-serif' fill="#000">2</text>
<text x="1192" y="1180.81" font-size="28" text-anchor="middle" font-family='"DejaVu Sans", "Liberation Sans", sans-serif' fill="#000">4</text>
<text x="1309.8" y="1180.81" font-size="28" text-anchor="middle" font-family='"DejaVu Sans", "Liberation Sans", sans-serif' fill="#000">6</text>
<text x="770.3" y="1113.26" font-size="28" text-anchor="end" font-family='"DejaVu Sans", "Liberation Sans", sans-serif' fill="#000">−2</text>
<text x="770.3" y="1017.36" font-size="28" text-anchor="end" font-family='"DejaVu Sans", "Liberation Sans", sans-serif' fill="#000">0</text>
<text x="770.3" y="921.46" font-size="28" text-anchor="end" font-family='"DejaVu Sans", "Liberation Sans", sans-serif' fill="#000">2</text>
<text x="770.3" y="825.56" font-size="28" text-anchor="end" font-family='"DejaVu Sans", "Liberation Sans", sans-serif' fill="#000">4</text>
<text x="770.3" y="729.66" font-size="28" text-anchor="end" font-family='"DejaVu Sans", "Liberation Sans", sans-serif' fill="#000">6</text>
<text x="1074" y="664" font-size="28" text-anchor="middle" font-family='"DejaVu Sans", "Liberation Sans", sans-serif' fill="#000">GNoME formation energy</text>
<text x="813.6" y="710" font-size="25.5" text-anchor="start" font-family='"DejaVu Sans", "Liberation Sans", sans-serif' fill="#000">MAE-UNEP-v1 = 60 meV atom<tspan dy="-10.46" dx="1.02" font-size="17.85">−1</tspan></text>
<text x="813.6" y="747.8" font-size="25.5" text-anchor="start" font-family='"DejaVu Sans", "Liberation Sans", sans-serif' fill="#000">MAE-MACE-MP = 149 meV atom<tspan dy="-10.46" dx="1.02" font-size="17.85">−1</tspan></text>
<text x="813.6" y="785.3" font-size="25.5" text-anchor="start" font-family='"DejaVu Sans", "Liberation Sans", sans-serif' fill="#000">MAE-EAM = 1122 meV atom<tspan dy="-10.46" dx="1.02" font-size="17.85">−1</tspan></text>
<path d="M799.2 701.7h0" stroke="#348c1a" stroke-width="14.4" stroke-linecap="round" fill="none"/>
<path d="M798.7 730.3L800.5 735.83L806.31 735.83L801.61 739.24L803.4 744.77L798.7 741.36L794 744.77L795.79 739.24L791.09 735.83L796.9 735.83z" fill="#1800ff" stroke="#1800ff" stroke-width="1" stroke-linejoin="miter"/>
<path d="M799 768.7l7.6 15.2h-15.2z" fill="#f08026"/>
<text x="1016" y="1077" font-size="25.5" text-anchor="start" font-family='"DejaVu Sans", "Liberation Sans", sans-serif' fill="#000">UNEP-v1, <tspan font-style="italic">R</tspan><tspan dy="-10.46" dx="1.28" font-size="17.85">2</tspan><tspan dy="10.46" dx="0.89"> = 0.99776</tspan></text>
<text x="1016" y="1109.6" font-size="25.5" text-anchor="start" font-family='"DejaVu Sans", "Liberation Sans", sans-serif' fill="#000">MACE-MP, <tspan font-style="italic">R</tspan><tspan dy="-10.46" dx="1.28" font-size="17.85">2</tspan><tspan dy="10.46" dx="0.89"> = 0.96065</tspan></text>
<text x="1016" y="1142" font-size="25.5" text-anchor="start" font-family='"DejaVu Sans", "Liberation Sans", sans-serif' fill="#000">EAM, <tspan font-style="italic">R</tspan><tspan dy="-10.46" dx="1.28" font-size="17.85">2</tspan><tspan dy="10.46" dx="0.89"> = 0.47921</tspan></text>
<text x="1073.5" y="1217" font-size="28.1" text-anchor="middle" font-family='"DejaVu Sans", "Liberation Sans", sans-serif' fill="#000">DFT energy (eV atom<tspan dy="-11.52" dx="1.12" font-size="19.67">−1</tspan><tspan dy="11.52">)</tspan></text>
<text x="717.6" y="911" font-size="28.1" text-anchor="middle" font-family='"DejaVu Sans", "Liberation Sans", sans-serif' transform="rotate(-90 717.6 911)" fill="#000">Model energy (eV atom<tspan dy="-11.52" dx="1.12" font-size="19.67">−1</tspan><tspan dy="11.52">)</tspan></text>
<path d="M1646.35 874.96L1709.63 874.96L1720.8 893.57L1772.91 886.13L1787.8 938.24L1772.91 990.36L1713.35 1005.25L1657.51 997.8L1638.9 938.24z" fill="#4484b8"/>
<path d="M1587.43 853.96L1580.47 852.22L1575.25 848.74L1578.73 845.26L1576.12 841.79L1577.86 838.31L1582.21 833.09L1585.69 827.87L1580.47 824.39L1573.51 826.13L1568.29 825.26L1566.55 820.91L1570.9 816.56L1575.25 810.47L1571.77 806.12L1576.12 801.77L1572.64 796.55L1575.25 795.68L1581.34 793.07L1577.86 789.59L1580.47 785.24L1585.69 781.76L1586.56 777.41L1589.17 771.32L1590.91 766.1L1597 762.62L1600.48 759.15L1604.83 754.8L1608.31 751.32L1611.79 746.97L1615.26 743.49L1617.87 738.27L1622.22 735.66L1625.7 730.44L1629.18 728.7L1634.4 731.31L1639.62 729.57L1644.84 733.92L1648.32 739.14L1645.71 742.62L1642.23 741.75L1643.97 747.84L1643.1 753.93L1647.45 757.41L1652.67 760.89L1657.02 764.36L1663.98 762.62L1670.07 766.1L1669.2 770.45L1664.85 773.06L1663.98 777.41L1661.37 782.63L1664.85 786.98L1669.2 793.07L1674.42 795.68L1680.51 800.03L1678.77 805.25L1677.9 810.47L1680.51 814.82L1686.6 814.82L1691.82 818.3L1689.21 823.52L1692.69 827.87L1697.9 830.48L1697.03 836.57L1698.77 841.79L1701.38 848.74L1705.73 853.96L1710.08 855.7L1710.95 860.92L1712.69 864.4L1715.3 869.62L1716.17 876.58L1717.91 881.8L1716.17 890.5L1698.77 893.98L1663.98 893.98L1629.18 893.98L1618.74 891.37L1611.79 887.02L1608.31 881.8L1603.09 874.84L1605.7 869.62L1603.09 862.66L1604.83 855.7L1601.35 850.48L1594.39 848.74zM1504.79 887.02L1507.4 884.41L1512.62 885.28L1516.1 881.8L1516.97 876.58L1516.1 871.36L1520.45 867.88L1525.67 869.62L1530.02 873.97L1531.75 880.06L1530.89 886.15L1532.62 892.24L1536.97 893.98L1541.32 890.5L1545.67 889.63L1549.15 883.54L1553.5 881.8L1559.59 883.54L1563.94 881.8L1568.29 884.41L1570.03 889.63L1576.99 888.76L1583.95 891.37L1590.91 892.24L1596.13 893.98L1601.35 892.24L1608.31 893.98L1615.26 895.72L1622.22 897.46L1629.18 900.94L1663.98 911.38L1681.38 935.04L1681.38 972.19L1672.68 1024.39L1641.36 1047L1643.1 1048.74L1647.45 1053.96L1644.84 1059.18L1641.36 1064.4L1643.1 1069.62L1640.49 1076.58L1637.88 1083.54L1634.4 1088.76L1629.18 1091.37L1622.22 1089.63L1625.7 1093.11L1631.79 1097.46L1633.53 1102.68L1629.18 1107.03L1622.22 1105.29L1615.26 1100.94L1610.05 1093.98L1604.83 1091.37L1597.87 1088.76L1590.91 1087.89L1587.43 1093.98L1586.56 1100.94L1585.69 1107.9L1587.43 1114.86L1589.17 1121.82L1587.43 1126.16L1582.21 1125.3L1576.99 1120.08L1572.64 1116.6L1573.51 1111.38L1572.64 1104.42L1569.16 1097.46L1568.29 1091.37L1571.77 1085.28L1570.03 1080.93L1566.55 1076.58L1562.2 1072.23L1564.81 1068.75L1573.51 1069.62L1580.47 1067.88L1585.69 1065.27L1582.21 1062.66L1579.6 1057.44L1573.51 1055.7L1568.29 1052.22L1564.81 1045.26L1562.2 1041.79L1560.46 1050.48L1556.98 1048.74L1553.5 1041.79L1550.02 1036.57L1547.76 1031.35L1550.89 1027.87L1557.85 1025.26L1563.94 1026.13L1563.07 1019.17L1558.72 1014.82L1554.37 1008.73L1550.89 1001.77L1548.8 996.55L1550.89 993.07L1555.24 994.81L1561.33 996.55L1563.07 991.33L1557.85 985.24L1556.98 979.15L1560.46 973.93L1566.55 975.67L1570.9 977.41L1573.51 969.58L1570.03 965.23L1562.2 960.89L1556.98 957.41L1555.76 952.19L1560.46 946.1L1563.94 940.88L1559.59 933.92L1555.24 928.7L1553.5 923.48L1552.63 921.82L1543.93 918.34L1536.97 915.73L1530.02 918.34L1523.06 913.99L1513.49 911.38L1510.01 907.03L1512.62 900.94L1509.14 893.98zM1684.5 1022.5L1680 1030L1683 1037.5L1690.5 1039L1695 1043.5L1695 1051L1692 1060L1690.5 1066L1693.5 1072L1695 1078L1693.5 1087L1695 1093L1698 1100.5L1699.5 1108L1702.5 1114L1705.5 1120L1711.5 1124.5L1716 1127.5L1719 1132.75L1723.5 1133.5L1728 1130.5L1732.5 1127.5L1738.5 1126L1740 1132L1743 1135L1747.5 1130.5L1753.5 1126L1759.5 1121.5L1767 1118.5L1773 1112.5L1779 1106.5L1783.5 1100.5L1788 1094.5L1785 1090L1780.5 1093L1774.5 1094.5L1768.5 1097.5L1762.5 1100.5L1756.5 1103.5L1761 1096L1764 1088.5L1768.5 1081L1773 1075L1777.5 1070.5L1782 1063L1786.5 1060L1790.25 1061.5L1788 1057L1783.5 1055.5L1779 1057L1773 1060L1776 1051L1782 1048L1788 1045L1792.5 1039L1797 1040.5L1791 1036L1785 1040.5L1779 1042L1774.5 1045L1773 1039L1770 1033L1776 1025.5L1780.5 1019.5L1776 1016.5L1770 1019.5L1773 1013.5L1767 1009L1764 1000L1768.72 1006.12L1767.85 1001.77L1761.76 1000.03L1766.11 994.81L1771.33 988.72L1752.19 972.19L1717.4 954.8L1700 972.19L1687.5 1000L1689 1015zM1719.14 893.98L1726.1 887.02L1728.71 880.06L1734.8 873.97L1740.02 867.88L1745.23 866.14L1750.45 869.62L1753.93 867.88L1750.45 860.92L1748.71 853.96L1752.19 849.61L1757.41 852.22L1760.89 857.44L1766.98 859.18L1771.33 864.4L1769.59 869.62L1766.11 874.84L1774.81 876.58L1781.77 875.71L1785.25 872.23L1792.21 867.88L1795.69 862.66L1800.91 857.44L1806.13 853.96L1813.09 853.09L1820.05 848.74L1825.26 846.13L1830.48 847.87L1837.44 853.96L1844.4 859.18L1849.62 864.4L1854.84 867.88L1853.1 873.1L1851.36 878.32L1854.84 885.28L1856.58 893.98L1860.06 900.94L1865.28 907.9L1870.5 913.12L1875.72 916.6L1872.24 921.82L1869.63 928.77L1872.24 935.04L1871.37 935.66L1872.24 944.36L1875.72 947.84L1881.81 946.1L1887.9 941.75L1894.86 940.01L1897.47 944.36L1896.6 950.45L1902.69 953.93L1907.03 957.41L1904.43 963.49L1898.34 968.71L1891.38 975.67L1887.9 980.89L1882.68 987.85L1875.72 993.07L1872.24 998.29L1865.28 1001.77L1860.06 1006.12L1854.84 1001.77L1847.88 998.29L1842.66 994.81L1840.92 1001.77L1835.7 1006.99L1832.22 1010.47L1830.48 1017.43L1825.26 1021.78L1821.79 1026.13L1818.31 1031.35L1815.7 1028.74L1818.31 1022.65L1821.79 1017.43L1825.26 1010.47L1827 1003.51L1821.79 1006.12L1816.57 1006.99L1811.35 1001.77L1811.35 996.55L1806.13 994.81L1804.39 1001.77L1806.13 1006.99L1800.91 1010.47L1796.56 1015.69L1793.08 1014.82L1793.95 1008.73L1797.43 1001.77L1800.91 994.81L1793.95 993.07L1786.99 991.33L1781.77 996.55L1777.42 1002.64L1773.94 1000.03L1774.81 994.81L1771.33 988.72L1752.19 972.19L1717.4 954.8L1717.4 920z" fill="#4484b8"/>
<path d="M1582.56 849.96h0M1585.89 852.38h0M1581.36 850.88h0M1578.77 846.98h0M1579.6 842.59h0M1578.77 839.62h0M1581.9 835.22h0M1586.94 831.1h0M1584.95 826.79h0M1578.23 823.29h0M1574.53 824.39h0M1571.83 825.41h0M1570.69 823.83h0M1568.83 819.31h0M1573.47 817.53h0M1575.05 816.84h0M1573.21 805.31h0M1575.93 804.57h0M1578.36 797.56h0M1574.39 797.34h0M1579.81 795.49h0M1578.29 789.33h0M1579.07 790.15h0M1583.85 786.88h0M1590.07 779.97h0M1590.96 775.51h0M1591.03 771.27h0M1592.83 766.69h0M1595.17 766.72h0M1601.93 761.54h0M1606.29 758.89h0M1606.54 756.39h0M1612.08 751.96h0M1613.85 746.9h0M1617.86 742.32h0M1623.53 737.83h0M1623.02 735.78h0M1628.42 732.4h0M1633.28 733.3h0M1640.64 734.48h0M1641.18 734.82h0M1646.48 739.09h0M1645.38 741.26h0M1643.76 739.98h0M1639.46 745.23h0M1640.72 749.02h0M1643.77 757.44h0M1646.68 758.81h0M1652.33 762.41h0M1659.21 765.56h0M1660.86 766.38h0M1665.55 765.67h0M1668.54 767.07h0M1668 767.84h0M1665.67 769.29h0M1661.68 773.81h0M1660.49 780.92h0M1662 789.05h0M1667.86 793.32h0M1663.67 790.76h0M1671.09 794.49h0M1678.76 801.65h0M1674.28 799.62h0M1678.28 799.62h0M1676.5 805.03h0M1678.3 814.48h0M1682.71 818.83h0M1686.11 816.25h0M1688.18 817.74h0M1689.31 826.45h0M1695.58 832.28h0M1696.38 833.17h0M1695.47 837.67h0M1697.95 847.06h0M1697.49 847.08h0M1699.27 851.37h0M1705.63 855.56h0M1709.57 860.62h0M1710.22 864.03h0M1713.34 869.51h0M1714.8 870.27h0M1715.39 876.03h0M1717.03 881.47h0M1713.93 888.16h0M1713.5 882.16h0M1708.22 890.62h0M1702.35 891.8h0M1703.29 890.56h0M1714.47 887.72h0M1711.28 891.91h0M1666.08 890.07h0M1689.04 890.79h0M1665.15 893.83h0M1697.66 890.83h0M1695.79 891.2h0M1680.14 893.08h0M1697.64 891.33h0M1696.96 890.93h0M1664.22 891.55h0M1639.6 894.21h0M1652.03 890.35h0M1660.01 891.02h0M1644.94 892.92h0M1661.36 891.52h0M1661.4 892.03h0M1645.7 891.81h0M1658.75 891.89h0M1644.2 891.22h0M1625.69 890.72h0M1624 889.7h0M1620.08 889.97h0M1617.86 887.88h0M1617.4 889.8h0M1610.99 883.26h0M1608.73 879.44h0M1608.46 876.89h0M1607.22 874.32h0M1606.01 864.25h0M1604.85 864.25h0M1604.48 860.26h0M1606.95 858.7h0M1604.39 851.28h0M1599.27 847.42h0M1596.62 846.93h0M1592.34 847.67h0M1590.78 849.26h0M1505.23 887.29h0M1508.29 886.32h0M1516.66 885.39h0M1518.29 879.64h0M1518.9 872.37h0M1520.06 870.42h0M1519.69 872.24h0M1523.02 872.71h0M1529.5 880.18h0M1530.43 884.4h0M1530.14 890.65h0M1532.3 895.61h0M1542.28 892.95h0M1542.35 890.77h0M1549.6 887.09h0M1551.71 887.06h0M1554.15 883.49h0M1558.03 883.86h0M1560.74 885.22h0M1564.48 884.52h0M1566.19 885.79h0M1576.71 890.94h0M1576.68 889.26h0M1576.32 891.65h0M1577.06 891.53h0M1583.69 893.58h0M1589.3 895.4h0M1591.42 895.46h0M1597.34 895.31h0M1607.54 896.37h0M1603.74 894h0M1612.31 896.51h0M1611.13 896.88h0M1620.78 899.92h0M1616.49 896.52h0M1624.99 901.95h0M1627.64 903.12h0M1633.04 903.23h0M1649.74 907.35h0M1646.93 908.9h0M1652.59 910.7h0M1658.15 910.83h0M1659.48 913.65h0M1658.28 913.9h0M1658.42 911.59h0M1632.99 905.05h0M1641.29 907.48h0M1662.9 912.36h0M1666.53 920.61h0M1675.01 931.27h0M1677.66 935.1h0M1663.98 915.97h0M1677.54 934.59h0M1679.64 934.64h0M1671.1 925.1h0M1680.32 948.57h0M1678.45 971.99h0M1680.3 967.26h0M1679.07 959.17h0M1679.53 939.92h0M1680.45 939.1h0M1680.14 940.8h0M1678.02 953.81h0M1678.18 963.98h0M1677.71 938.26h0M1678.3 978.38h0M1675.29 990.01h0M1669.9 1019.46h0M1677.12 980.88h0M1670.46 1016.48h0M1673.24 1010.48h0M1673.74 1003.86h0M1674.82 995.54h0M1674.03 1010.34h0M1672.29 1022.77h0M1678.37 986.39h0M1679.01 971.88h0M1670.73 1023.72h0M1674.51 995.5h0M1672.64 1009.43h0M1659.56 1031.56h0M1645.41 1041.77h0M1659.54 1030.82h0M1650.78 1038.09h0M1656.8 1033.34h0M1654.67 1034.54h0M1644.64 1040.86h0M1670.61 1022.35h0M1639.39 1043.89h0M1656.52 1033.7h0M1668.52 1023.28h0M1640.43 1050.7h0M1645.18 1055.76h0M1645.55 1054.68h0M1641.72 1061.19h0M1639.83 1070.04h0M1638.38 1071.45h0M1641.1 1069.23h0M1637.17 1081.26h0M1639.53 1076.25h0M1634.03 1087.59h0M1632.51 1087.2h0M1629.64 1088.51h0M1627.61 1088.65h0M1620.14 1092.79h0M1628.37 1098.42h0M1629.61 1099h0M1629.24 1101.76h0M1631.11 1101.04h0M1628.27 1105.22h0M1628.59 1103.96h0M1620.54 1102.02h0M1619.09 1101.83h0M1617.47 1098.33h0M1613.82 1097.34h0M1607.54 1091.05h0M1603.12 1090.23h0M1601.52 1089.96h0M1593.71 1085.62h0M1596.21 1086.99h0M1585.91 1092.87h0M1586.84 1088.56h0M1586.41 1100.87h0M1585.69 1094.91h0M1584.65 1102.66h0M1584.5 1105.37h0M1584.02 1112.07h0M1584.09 1111.54h0M1585.88 1119.19h0M1584.62 1115.57h0M1587 1122.29h0M1584.85 1122.57h0M1579.08 1119.53h0M1581.15 1123.4h0M1576.02 1116.87h0M1572.95 1115.36h0M1576.81 1110.86h0M1575.31 1104.99h0M1574.34 1102.23h0M1570.35 1098.05h0M1571.93 1091.46h0M1571.63 1092.19h0M1569.81 1091.28h0M1574.33 1083.9h0M1570.98 1078.21h0M1568.02 1074.26h0M1564.17 1073.58h0M1568.16 1072.17h0M1570.72 1070.67h0M1576.11 1070.47h0M1578.37 1070.9h0M1582.3 1070.08h0M1584.95 1061.4h0M1583.75 1059.6h0M1576.55 1055.12h0M1571.02 1052.69h0M1570.84 1049.28h0M1568.08 1048.79h0M1565.18 1042.83h0M1559.15 1047h0M1559.23 1049.36h0M1560.96 1047.28h0M1555.18 1041.73h0M1557.06 1042.5h0M1554.75 1038.15h0M1550.18 1032.85h0M1549.64 1031.12h0M1552.18 1029.09h0M1558.1 1028.26h0M1561.51 1029.12h0M1565.2 1022.66h0M1566.22 1018.78h0M1565.3 1016.84h0M1557.68 1011.14h0M1556.76 1010.36h0M1551.65 1001.6h0M1554.04 1004.41h0M1551.74 995.92h0M1552.72 996.63h0M1550.36 995.84h0M1556.97 996.76h0M1563.29 994.09h0M1558.85 986.19h0M1559.24 986.04h0M1559.98 983.3h0M1561.33 974.93h0M1563.78 976.61h0M1569.31 979.47h0M1575.61 975.91h0M1573.17 978.11h0M1576.18 967.13h0M1566.83 960.63h0M1567.82 960.3h0M1562.1 958.71h0M1558.15 951.65h0M1558.71 952.3h0M1561.45 947.08h0M1563.96 945.65h0M1564.24 937.11h0M1563.38 938.52h0M1560.85 931.18h0M1555.34 925.76h0M1556.35 921.56h0M1545.39 916.75h0M1547.53 917.56h0M1538.28 914.05h0M1538.89 913.7h0M1531.44 915.25h0M1531.18 914.4h0M1532.02 913.6h0M1526.75 914.75h0M1517.26 910.02h0M1519.46 910.53h0M1513.84 911.03h0M1512.14 905.59h0M1512.3 895.88h0M1515.33 899.33h0M1510.69 890.93h0M1509.13 891.98h0M1684.04 1028.9h0M1682.78 1027.57h0M1684.66 1035.7h0M1686.42 1034.94h0M1688.19 1037.75h0M1684.88 1035.88h0M1692.86 1039.35h0M1698.25 1046.5h0M1697.42 1044.97h0M1694.94 1053.31h0M1695.8 1057.79h0M1693.49 1062.38h0M1692.64 1067.62h0M1696.12 1073.95h0M1696.27 1087.17h0M1695.52 1083.6h0M1695.28 1089.75h0M1699.27 1096.77h0M1698.66 1096.19h0M1701.53 1103.42h0M1700.67 1102.35h0M1704.5 1112.76h0M1705.42 1115.46h0M1709.24 1119.38h0M1713.13 1122.19h0M1716.73 1125.6h0M1719.8 1126.23h0M1722.41 1129.84h0M1724.56 1129.26h0M1732.33 1127.3h0M1733.67 1126.01h0M1741.67 1129.19h0M1744.76 1133.13h0M1741.94 1133.69h0M1746.97 1127.28h0M1751.3 1124.87h0M1756.15 1122.49h0M1756.34 1119.42h0M1764.88 1116.41h0M1763.5 1118.33h0M1766.54 1116.01h0M1766.87 1116.25h0M1775.67 1105.81h0M1771.52 1109.1h0M1778.26 1101.7h0M1777.66 1104.42h0M1783.63 1097.1h0M1784.15 1097.19h0M1783.46 1091.5h0M1783.24 1093.02h0M1779.05 1096.93h0M1771.85 1097.6h0M1764.07 1101.7h0M1763.35 1103.61h0M1757.27 1098.77h0M1755.86 1102.03h0M1760.86 1090.61h0M1760.73 1089.92h0M1765.95 1080.53h0M1763.64 1086.19h0M1771.42 1075.86h0M1767.76 1080.39h0M1772.64 1074.33h0M1774.66 1068.72h0M1779.67 1064.6h0M1784.52 1059.29h0M1787.76 1058.6h0M1788.96 1062.06h0M1783.24 1056.42h0M1783.28 1058.52h0M1774.68 1062.48h0M1770.63 1056.84h0M1774.14 1052.7h0M1775.56 1048.38h0M1785.89 1044.66h0M1786.75 1043.61h0M1786.48 1041.3h0M1795.81 1037.15h0M1791.59 1039.79h0M1793.14 1041.54h0M1790.41 1039.03h0M1789.57 1039.11h0M1779.5 1043.46h0M1778.36 1042.98h0M1772.97 1043.66h0M1772.07 1037.72h0M1773.48 1025.34h0M1773.49 1025.26h0M1778.69 1018.9h0M1774 1022.53h0M1779.14 1021.37h0M1777.17 1019.49h0M1766.47 1015.67h0M1766.17 1011.96h0M1771.2 1014.59h0M1765.2 1007.44h0M1765.05 1006.41h0M1769.58 1003.31h0M1767.53 1000.82h0M1764.64 1003.95h0M1762.27 1000.39h0M1764.92 994.08h0M1765.24 993.51h0M1766.26 988.93h0M1761.49 981.96h0M1757.35 980.1h0M1758.23 976.11h0M1756.93 982.56h0M1770.32 989.87h0M1751.45 974.44h0M1764.17 985.51h0M1745.93 973.54h0M1738.22 967.71h0M1747.32 972.09h0M1739.45 967.54h0M1737.37 966.44h0M1743.88 972.13h0M1723.41 959.12h0M1739.6 968.66h0M1719.23 958.23h0M1741.65 970.54h0M1746.28 973.37h0M1704.94 970.66h0M1712.22 960.66h0M1718.49 957.77h0M1714.14 961.07h0M1714.09 960.16h0M1709.68 965.51h0M1718.45 957.67h0M1689.96 1000.56h0M1699.92 976.05h0M1693.43 986.63h0M1696.7 983.55h0M1700.66 976.87h0M1698.53 979.7h0M1700.88 979.93h0M1695.53 982.92h0M1690.32 1009.28h0M1689.85 1012.01h0M1690.1 1004.51h0M1689.31 1001.97h0M1691.15 1017.88h0M1691.76 1019.16h0M1726.67 892.4h0M1726 890.47h0M1730.14 883.24h0M1730.13 882.49h0M1731.08 880.97h0M1732.14 879.67h0M1738 870.9h0M1737.06 875.2h0M1746.13 870.76h0M1747.97 870.93h0M1751.71 871.98h0M1755.74 866.19h0M1755.55 865.62h0M1752.88 856.67h0M1753.45 858.33h0M1752.12 853.04h0M1756.22 852.4h0M1759.61 857.02h0M1762.2 861.13h0M1766.14 860.07h0M1769.25 865.63h0M1766.51 872.85h0M1772.47 878.03h0M1768.34 875.33h0M1781.56 879.37h0M1776.53 877.4h0M1786.29 876.04h0M1787.11 871.9h0M1786.49 873.58h0M1795.75 866.31h0M1798.9 864.62h0M1801.51 862h0M1802 858.38h0M1809.51 855.57h0M1811.67 855.67h0M1814.25 854.79h0M1821.29 852h0M1824.98 850.35h0M1827.82 848.59h0M1835.4 854.09h0M1835.8 855.27h0M1838.65 858.53h0M1840.06 855.87h0M1845.07 861.89h0M1847.82 865.49h0M1851.79 869.63h0M1850.49 870.37h0M1851.24 874.2h0M1852.2 884.91h0M1850.36 881.7h0M1852.43 894.52h0M1853.73 891.82h0M1857.38 899.35h0M1856.67 898.11h0M1863.08 909.52h0M1861.35 904.82h0M1866.38 911.22h0M1864.3 911.06h0M1873.78 918.62h0M1871.69 918.5h0M1868.17 927.02h0M1869.37 924.65h0M1869.71 935.98h0M1870.42 934.29h0M1868.93 944.66h0M1867.75 937.76h0M1872.46 944.44h0M1881.14 950.18h0M1884.48 947.5h0M1887.48 943.9h0M1892.05 942.3h0M1892.65 941.82h0M1893.65 944.29h0M1895.09 949.28h0M1898.05 955.16h0M1900.47 956.03h0M1903.94 956.15h0M1903.75 957.86h0M1901.94 963.35h0M1900.17 964.24h0M1894.45 971.01h0M1892.76 970.9h0M1886.2 978.08h0M1883.19 984.73h0M1884.39 981.35h0M1878.72 986.7h0M1879.62 988.26h0M1874.18 993.33h0M1866.83 997.69h0M1866.25 998.86h0M1862.46 1001.93h0M1854.94 1001.86h0M1849.75 997.19h0M1855.85 997.69h0M1844.12 994.72h0M1842.13 997.55h0M1839.38 1000.58h0M1834.49 1005.02h0M1839.21 1001.71h0M1832.66 1008.61h0M1827.56 1014.13h0M1830.47 1010.43h0M1825.03 1016.89h0M1822.47 1022.7h0M1818.06 1027.7h0M1818.5 1030.92h0M1818.33 1027.84h0M1822.48 1020.54h0M1825.69 1014.05h0M1828.33 1012.23h0M1828.58 1007.87h0M1829.58 1006.55h0M1825.48 1002.7h0M1821.57 1005.08h0M1816.41 1001.93h0M1817.05 1004.08h0M1812.28 1001.16h0M1812.04 993.73h0M1803.6 999.97h0M1802.25 997.94h0M1802.89 1005.11h0M1803.32 1005.96h0M1795.12 1014.45h0M1794.95 1013.32h0M1795.88 1012.01h0M1800.47 1004h0M1797.53 1002.02h0M1802.1 996.23h0M1799.86 1000.37h0M1796.04 991.32h0M1795.06 991.3h0M1788.89 990.46h0M1791.84 989.83h0M1783.45 990.39h0M1779.14 993.4h0M1777.95 997.73h0M1779.47 995.1h0M1777.79 1001.18h0M1775.62 996.78h0M1775.69 991.59h0M1776.44 992.51h0M1771.16 986.07h0M1763.59 979.57h0M1754.15 972.14h0M1755.03 974.24h0M1754.16 972.08h0M1769.1 983.95h0M1767.86 979.66h0M1720.31 953.69h0M1729.41 959.97h0M1729.08 957.3h0M1748.62 969.25h0M1751.57 968.16h0M1748.36 966.41h0M1752.67 970.26h0M1724.92 955.27h0M1726.74 955.92h0M1731.85 959.55h0M1743.42 963.33h0M1719.08 952.34h0M1722.18 944.3h0M1718.43 949.8h0M1719.46 947.32h0M1718.58 947.55h0M1719.49 931.21h0M1719.4 939.04h0M1719.33 935.78h0M1720.32 923.62h0M1720.72 918.44h0M1720.12 918.64h0M1718.96 915.98h0M1721.92 896.96h0M1720.32 914.27h0M1721.59 908.98h0M1721.04 917.66h0" stroke="#4484b8" stroke-width="7.2" stroke-linecap="round" fill="none"/>
<path d="M1769.07 843L1772.72 848.22" stroke="#4484b8" stroke-width="9.8" stroke-linecap="round" stroke-linejoin="round" fill="none"/>
<path d="M1521.66 1010.47L1523.93 1015.69L1526.19 1020.56" stroke="#4484b8" stroke-width="9.8" stroke-linecap="round" stroke-linejoin="round" fill="none"/>
<path d="M1537.32 1026.48L1539.76 1031.35L1542.19 1035.7" stroke="#4484b8" stroke-width="9.8" stroke-linecap="round" stroke-linejoin="round" fill="none"/>
<path d="M1827 841.79h0M1841.79 843.87h0M1863.19 868.23h0M1861.45 876.06h0M1864.93 887.89h0M1862.67 898.33h0M1536.1 1015.69h0M1563.42 968.71h0M1563.94 1091.37h0M1601 1094.5h0M1645.19 1069.27h0M1653.54 1053.96h0M1657.02 1047h0M1677.38 1051.88h0M1799.17 1085.8h0M1797.08 1040.05h0M1786.99 1057.44h0M1790.47 1061.79h0M1563.75 1091.5h0M1600.5 1094.8h0M1645.2 1069.3h0M1677.45 1052.05h0M1799.25 1085.95h0M1571.77 805.25h0M1567.94 853.96h0M1568.29 868.75h0M1575.25 877.45h0M1576.99 880.06h0M1591.78 878.32h0M1597.87 873.97h0M1599.61 882.67h0M1603.09 887.89h0M1597.87 892.24h0M1569.16 893.98h0M1583.08 871.36h0M1580.47 867.01h0M1576.99 861.79h0M1587.43 859.18h0M1594.39 857.44h0M1590.04 864.4h0M1623.96 893.98h0M1628.31 896.07h0M1632.66 897.81h0M1637.01 899.55h0M1641.36 901.29h0M1622.22 891.37h0" stroke="#4484b8" stroke-width="7.2" stroke-linecap="round" fill="none"/>
<path d="M1632.78 863.67L1636.42 854.57L1640.06 847.28L1647.34 845.46L1660.09 843.64L1669.2 841.82L1672.84 847.28L1676.48 854.57L1685.58 858.21L1694.69 861.85L1701.97 867.31L1709.26 872.78L1712.9 878.24L1709.26 885.52L1707.44 894.63L1705.61 903.73L1698.33 905.55L1691.05 894.63L1672.84 894.63L1654.63 894.63L1636.42 894.63L1629.14 890.99L1632.78 883.7L1634.6 874.6zM1594.54 912.84L1598.18 907.37L1607.28 903.73L1618.21 901.91L1629.14 903.73L1640.06 907.37L1647.34 911.02L1654.63 916.48L1663.73 920.12L1669.2 927.41L1654.63 931.05L1636.42 931.05L1618.21 929.23L1607.28 925.58L1596.36 920.12zM1623.67 949.26L1632.78 941.97L1640.06 949.26L1645.52 985.68L1654.63 1003.88L1658.27 1012.99L1654.63 1029.38L1647.34 1038.48L1640.06 1036.66L1636.42 1025.74L1627.31 1014.81L1618.21 1000.24L1613.66 985.68L1614.57 971.11L1620.03 958.36zM1736.57 918.3L1745.68 911.02L1756.6 901.91L1763.88 896.45L1774.81 890.99L1783.92 894.63L1791.2 900.09L1796.66 909.2L1800.3 916.48L1798.48 925.58L1798.48 934.69L1805.77 941.97L1811.23 945.61L1807.59 951.08L1798.48 958.36L1791.2 967.47L1782.09 974.75L1774.81 983.85L1767.53 987.5L1760.24 983.85L1763.88 971.11L1772.99 949.26L1763.88 921.94zM1696.51 991.14L1701.97 985.68L1709.26 983.85L1718.36 985.68L1727.47 991.14L1734.75 998.42L1740.21 1007.53L1743.85 1014.81L1747.5 1025.74L1749.32 1033.02L1745.68 1040.3L1736.57 1045.77L1727.47 1043.95L1720.18 1036.66L1712.9 1022.09L1705.61 1012.99L1700.15 1003.88z" fill="#f08026"/>
<path d="M1638.02 858.59h0M1635.78 862.65h0M1640.16 852.99h0M1641.36 848.98h0M1645.61 846.26h0M1643.99 849.08h0M1648.29 847.59h0M1659.35 844.39h0M1651.77 848.01h0M1661.75 845.1h0M1668.35 843.81h0M1669.75 845.46h0M1672.76 853.51h0M1672.52 850.36h0M1680.44 860.55h0M1676.45 857.18h0M1687.24 860.11h0M1686.91 861.26h0M1698.44 866.6h0M1695.24 863.73h0M1701.71 870.92h0M1701.61 868.23h0M1707.1 874.68h0M1709.9 880.81h0M1709.42 877.13h0M1705.19 885.76h0M1705.49 890.89h0M1705.43 901.5h0M1706.79 897.31h0M1705.15 901.97h0M1703.97 902.43h0M1698.78 903.82h0M1697.52 903.51h0M1698.94 899.86h0M1672.87 893.17h0M1686.54 892.48h0M1683.67 892.5h0M1682.73 892.34h0M1690.53 891.51h0M1657.12 891.65h0M1669.19 891.69h0M1663.62 893.63h0M1660.32 890.95h0M1656.56 892.64h0M1639.86 892.53h0M1650.21 891.88h0M1650.33 893.83h0M1637.19 892.81h0M1649.78 893.52h0M1636.07 891.76h0M1635.57 891.64h0M1632.54 890.65h0M1634.19 884.65h0M1636.03 879.68h0M1637.04 875.12h0M1635.2 872.95h0M1635.55 870.65h0M1635.39 872.69h0M1597.79 911.4h0M1600.71 909.42h0M1601.51 909.29h0M1615.26 903.68h0M1613.17 904.61h0M1615.55 905.77h0M1623.72 902.92h0M1622.8 904.35h0M1620.93 905.67h0M1639.5 908.65h0M1636.57 907.65h0M1636.87 908.21h0M1643.93 913.44h0M1642.16 909.34h0M1646.73 912.55h0M1651.72 916.25h0M1660.68 922.01h0M1655.23 920.41h0M1663.29 923.25h0M1667.23 928.02h0M1662.57 924.88h0M1656.56 927.86h0M1658.4 929.62h0M1655 927.44h0M1638.17 929.59h0M1650.49 927.31h0M1644.79 927.81h0M1643.06 928.2h0M1640.5 928.8h0M1633.85 927.16h0M1622.74 929.32h0M1634.34 929.56h0M1635.65 930.79h0M1629.38 926.19h0M1617.53 925.58h0M1609.77 923.74h0M1607.91 925.32h0M1599.76 917.73h0M1605.03 920.95h0M1597.49 918.69h0M1598.22 915.7h0M1597.07 916.77h0M1628.42 947.22h0M1630.88 947.68h0M1632.29 945.04h0M1636.59 948.47h0M1634.88 947.94h0M1640.87 966.69h0M1639.04 964.69h0M1642.48 965.18h0M1641.49 974.02h0M1642.89 982.23h0M1640.39 958.7h0M1641.81 974.77h0M1638.72 953.49h0M1643.11 984.35h0M1642.57 981.14h0M1653.11 1003.93h0M1647.77 991.58h0M1647.21 993.05h0M1646.5 992.19h0M1650.17 997.54h0M1655.17 1013.83h0M1655.37 1014.09h0M1654.26 1021.7h0M1654.69 1018.54h0M1654.65 1018.5h0M1653.85 1025.02h0M1651.24 1028.55h0M1649.98 1029.41h0M1646.8 1037.5h0M1644.15 1035.06h0M1646.47 1034.69h0M1640.37 1032.91h0M1640.83 1027.55h0M1642.18 1032.73h0M1635.44 1023.66h0M1636.99 1023.97h0M1628.93 1013.47h0M1636.2 1022.41h0M1623.26 1004.84h0M1626.39 1009.16h0M1627.81 1009.33h0M1623.4 1003.35h0M1618.04 994.26h0M1618.4 992.33h0M1619.02 996.44h0M1620.2 996.87h0M1616.1 974.07h0M1617.47 973.26h0M1615.48 980.65h0M1614.19 981.26h0M1618.46 968.52h0M1622.06 960.04h0M1617.49 968.63h0M1624.6 953.17h0M1623.62 956.01h0M1741.6 916.45h0M1745 915.97h0M1745.75 912.57h0M1746.74 911.07h0M1753.89 906.08h0M1747.34 912.61h0M1757.74 904.24h0M1760.09 902.58h0M1758.68 901.9h0M1767.22 896.53h0M1770.38 896.21h0M1774.82 892.24h0M1780.92 895.73h0M1775.55 894.95h0M1782.84 898.22h0M1783.51 898.41h0M1793.28 910.42h0M1790.28 904.32h0M1791.17 901.88h0M1796.73 912.19h0M1795.13 912.9h0M1796.22 919.66h0M1796.31 924.64h0M1797.7 933.18h0M1797.53 934.27h0M1797.72 937.2h0M1800.59 939.78h0M1809.78 947.49h0M1809.07 944.37h0M1797.84 955.13h0M1802.97 950.22h0M1802.74 952.62h0M1795.34 961.39h0M1791.61 963.49h0M1796.05 958.41h0M1788.99 966.32h0M1783.71 970.26h0M1780.73 972.06h0M1780.07 974.42h0M1775.58 978.09h0M1775.17 980.4h0M1767.35 984.29h0M1770.48 985.94h0M1766.12 985.99h0M1765 984.6h0M1762.03 984.07h0M1762.6 980.56h0M1766.93 972.96h0M1768.65 963.07h0M1774.67 953.11h0M1773.98 956.26h0M1771.2 961.74h0M1767.03 969.37h0M1768.87 965.69h0M1771.83 939.92h0M1768.98 932.02h0M1770.9 932.13h0M1771.4 939.35h0M1769.97 933.82h0M1771.16 937.31h0M1769.65 930.6h0M1774.24 945.92h0M1742.11 916.06h0M1738.65 916.07h0M1739.36 917.49h0M1758.13 919.51h0M1747.94 915.56h0M1746.31 916.8h0M1747.64 916.25h0M1701.86 988.41h0M1698.79 990.45h0M1708.29 985.36h0M1709.6 986.05h0M1714.93 987.63h0M1715.59 988.26h0M1723.43 991.3h0M1725.78 992.82h0M1719.13 989.6h0M1729 993.63h0M1729.8 994.96h0M1735.28 1002.17h0M1732.88 1000.95h0M1734.46 1001.03h0M1737.71 1011.15h0M1741.68 1015.87h0M1742.32 1017.6h0M1744.11 1024.22h0M1744.42 1024.95h0M1746.09 1027.81h0M1747.72 1032.45h0M1745.35 1034.75h0M1747.86 1033.51h0M1741.85 1041.46h0M1735.38 1043.51h0M1743.79 1037.6h0M1735.07 1042.62h0M1734.64 1043.63h0M1723.24 1036.2h0M1724.34 1035.22h0M1716.48 1024.91h0M1720.95 1034.34h0M1718.45 1030.05h0M1715.72 1025.21h0M1713.56 1017.92h0M1714.98 1020.32h0M1712.24 1017.1h0M1705.88 1010.94h0M1703.2 1005.92h0M1705.63 1009.95h0M1699.6 991.08h0M1701.6 998.01h0M1701.48 995.17h0" stroke="#f08026" stroke-width="7" stroke-linecap="round" fill="none"/>
<path d="M1589.17 911.38h0M1594.39 904.77h0M1597.87 905.29h0M1635.79 847.35h0M1639.62 853.96h0M1636.42 847.28h0M1640.06 1036.66h0M1760.24 982.03h0M1631.27 889.11h0M1634.4 893.98h0M1638.23 898.85h0M1629.18 892.24h0" stroke="#f08026" stroke-width="7" stroke-linecap="round" fill="none"/>
<path d="M1640.97 1047.59L1647.34 1038.48L1656.45 1029.38L1658.27 1012.99L1665.55 1009.35L1676.48 1002.06L1681.94 991.14L1685.58 983.85L1691.05 976.57L1696.51 969.29L1698.33 974.75L1694.69 985.68L1691.05 996.6L1687.41 1007.53L1685.58 1020.27L1680.12 1025.74L1672.84 1033.02L1663.73 1040.3L1652.81 1047.59L1643.7 1051.23zM1703.79 956.54L1707.44 954.72L1711.08 963.82L1712.9 972.93L1709.26 982.03L1705.61 991.14L1709.26 1003.88L1712.9 1014.81L1716.54 1022.09L1723.82 1023.92L1722 1033.02L1718.36 1040.3L1716.54 1047.59L1711.08 1043.95L1709.26 1033.02L1707.44 1022.09L1703.79 1011.17L1698.33 1000.24L1696.51 989.32L1701.97 978.39L1701.97 967.47zM1769.35 967.47L1772.99 960.18L1782.09 952.9L1791.2 947.44L1798.48 945.61L1802.12 951.08L1800.3 958.36L1793.02 965.64L1783.92 969.29L1774.81 972.93z" fill="#ece036"/>
<path d="M1643.89 1047.86h0M1646.51 1042.77h0M1642.8 1047.93h0M1651.99 1037.09h0M1651.99 1038.41h0M1656.51 1032.63h0M1660.22 1013.77h0M1660.01 1018.68h0M1661.32 1017.36h0M1658.94 1019.82h0M1660.7 1014.53h0M1660.42 1015.67h0M1669.45 1011.1h0M1673.19 1008.46h0M1670.04 1008.5h0M1679.97 998.3h0M1681.7 994.52h0M1683.01 992.62h0M1684.72 990.4h0M1685.65 990.43h0M1688.87 982.44h0M1691.76 978.21h0M1695.61 977.06h0M1697.34 975.16h0M1697.6 974.22h0M1696.9 975.93h0M1696.76 975.13h0M1694.62 979.61h0M1689.61 994.72h0M1692.38 986.6h0M1691.12 992.02h0M1687.67 997.97h0M1686.14 1006.65h0M1687.17 1000.12h0M1684.51 1007.4h0M1684.14 1016.95h0M1685.95 1014.84h0M1681.96 1020.48h0M1681.13 1020.51h0M1672.27 1029.47h0M1673.41 1030.03h0M1668.55 1034.48h0M1663.75 1036.64h0M1669.07 1033.31h0M1661.92 1040.07h0M1656 1042.4h0M1658.05 1040.66h0M1643.23 1048.44h0M1643.53 1048.48h0M1641.84 1047.31h0M1707.13 956.41h0M1708.43 964.03h0M1707.88 963.98h0M1709.51 967.75h0M1709.97 972.51h0M1707.69 979.6h0M1709.95 975.52h0M1707.26 983.83h0M1705.08 985.63h0M1706.44 1003.79h0M1706.9 1003.33h0M1707.93 1002.41h0M1708.02 1010.99h0M1709.95 1012.77h0M1710.31 1014.22h0M1711.43 1016.02h0M1711.83 1016.88h0M1717.09 1023.31h0M1717.26 1025.76h0M1721.59 1025.6h0M1719.09 1031.21h0M1717.39 1035.66h0M1718.79 1034.38h0M1714.31 1044.85h0M1714.62 1043.46h0M1713.93 1043.19h0M1712.16 1043.07h0M1713.12 1039.87h0M1713.04 1038.38h0M1710.02 1026.54h0M1709.77 1024.84h0M1711.51 1032.46h0M1707.45 1017.58h0M1706.77 1012.14h0M1709.35 1019.15h0M1705.69 1009.8h0M1702.9 1004.06h0M1704.77 1007.88h0M1699.61 992.41h0M1697.9 996.14h0M1700.29 992.53h0M1702.15 980.9h0M1703.23 980.26h0M1701.95 980.22h0M1702.89 973.76h0M1703.68 978.05h0M1703.79 975.95h0M1703.67 966.67h0M1705.05 959.96h0M1705.23 957.15h0M1775.06 962.32h0M1775.97 962.17h0M1776.83 959.76h0M1774.86 960.72h0M1779.08 959.27h0M1784.55 952.62h0M1792.08 950.29h0M1789.95 951.24h0M1798.78 947.3h0M1795.63 948.66h0M1799.29 952.78h0M1799.84 951.79h0M1798.63 953.73h0M1795.71 959.35h0M1798.6 958.44h0M1786.74 966.34h0M1784.09 966.13h0M1780.33 969.16h0M1774.68 970.82h0M1772.33 968.5h0M1775.29 970.45h0" stroke="#ece036" stroke-width="7" stroke-linecap="round" fill="none"/>
<path d="M1716.54 1054.87h0M1720.18 1060.33h0M1807.59 936.51h0M1811.23 939.24h0M1813.96 941.06h0M1765.71 912.84h0M1769.35 916.48h0M1797.57 934.69h0M1720.01 1071.36h0M1721.75 1074.84h0M1720.01 1079.19h0" stroke="#ece036" stroke-width="6.8" stroke-linecap="round" fill="none"/>
<path d="M1652.81 872.78L1658.27 869.14L1667.37 868.22L1671.02 872.78L1663.73 876.42zM1676.48 901.91L1681.94 896.45L1689.23 901.91L1691.05 911.02L1692.87 920.12L1687.41 923.76L1681.94 921.94L1676.48 912.84zM1667.37 965.64L1676.48 956.54L1685.58 952.9L1696.51 951.08L1703.79 952.9L1700.15 962L1692.87 969.29L1683.76 974.75L1676.48 978.39L1671.02 983.85L1665.55 985.68zM1641.88 985.68L1645.52 982.03L1650.99 991.14L1661.91 998.42L1663.73 1007.53L1658.27 1009.35L1650.99 1005.71L1641.88 1002.06zM1714.72 945.61L1720.18 936.51L1727.47 941.97L1731.11 952.9L1736.57 963.82L1745.68 967.47L1754.78 965.64L1763.88 956.54L1772.99 949.26L1782.09 940.15L1789.38 931.05L1796.66 934.69L1797.57 940.15L1791.2 947.44L1782.09 954.72L1772.99 962L1767.53 971.11L1760.24 978.39L1752.96 982.03L1743.85 978.39L1736.57 972.93L1727.47 960.18L1718.36 954.72z" fill="#7e1c8e"/>
<path d="M1657.37 872.54h0M1665.14 871h0M1658.8 872.32h0M1669.6 873.18h0M1665.35 875h0M1664.37 875.26h0M1662.71 874.67h0M1654.47 871.96h0M1658.24 872.4h0M1680.61 900.19h0M1680.38 901.68h0M1682.58 898.37h0M1683.92 902.2h0M1688.1 904.4h0M1687.7 904.51h0M1691.18 916.97h0M1690.49 916.22h0M1689.09 921.52h0M1685.69 920.27h0M1680.64 918.68h0M1680.38 916.33h0M1683.54 919.62h0M1678.56 910.14h0M1676.62 906.94h0M1678.44 902.53h0M1673.28 964.06h0M1676.19 959.92h0M1670.21 967.26h0M1680.84 955.81h0M1682.84 955.08h0M1695.7 952.13h0M1687.57 955.14h0M1693.24 955.4h0M1696.95 952.99h0M1699.14 953.87h0M1697.85 957.31h0M1699.89 961.52h0M1696.31 962.77h0M1691.71 967.22h0M1685.03 971.09h0M1686.18 971.32h0M1686.45 971.16h0M1679.34 974.88h0M1681.45 973.67h0M1671.16 981.77h0M1671.46 980.46h0M1664.99 983.84h0M1669.24 980.16h0M1669.15 968.85h0M1670.62 970.16h0M1668.5 970.39h0M1668.81 980.47h0M1642.77 986.5h0M1645 986.65h0M1645.85 988.46h0M1647.72 990.89h0M1654.35 994.94h0M1653.95 995.43h0M1654.06 995.91h0M1660.92 999.78h0M1662.36 1007.32h0M1658.94 1007.14h0M1654.79 1005.06h0M1652.59 1004.65h0M1646.71 1001.41h0M1649.13 1002.17h0M1643.38 988.88h0M1643.98 999.02h0M1643.79 987.17h0M1642.61 999.44h0M1721.66 939.97h0M1717.23 943.81h0M1715.77 945.73h0M1725.34 940.24h0M1721.41 942.13h0M1727.95 947.92h0M1728.71 951.38h0M1725.35 945.05h0M1730.45 955.81h0M1733.9 963.76h0M1732.79 961.71h0M1742.17 968.08h0M1740.41 966.87h0M1750.21 969.68h0M1754.34 967.43h0M1763.36 959.23h0M1757.36 965.68h0M1760.95 962.78h0M1773.11 952.18h0M1771.88 953.44h0M1772.08 952.72h0M1780.03 944.31h0M1780 944.98h0M1774.72 948.95h0M1789.97 932.81h0M1788.91 935.24h0M1783.39 940.08h0M1793.91 935.29h0M1794.61 936.16h0M1795.64 939.52h0M1795.37 940.62h0M1792.27 942.2h0M1789.35 945.84h0M1786.59 949.39h0M1785.84 949.46h0M1780.6 953.07h0M1772.9 958.85h0M1780.64 953.37h0M1766.86 969.48h0M1767.95 965.84h0M1765.73 969.46h0M1760.84 975.87h0M1763.92 969.28h0M1756.76 976.91h0M1757.38 979.01h0M1745.5 976.1h0M1751.78 981.28h0M1741.33 973.06h0M1743.51 975.17h0M1730.55 960.92h0M1732.55 962.77h0M1738.12 971.33h0M1734.15 964.26h0M1725.14 954.86h0M1728.13 958.16h0M1726.42 957.59h0M1717.63 945.83h0M1719.58 948.94h0" stroke="#7e1c8e" stroke-width="7" stroke-linecap="round" fill="none"/>
<g transform="translate(-2.2 2.4)">
<path d="M1638.24 890.99L1645.52 881.88L1649.17 876.42L1656.45 876.42L1663.73 878.24L1672.84 872.78L1678.3 876.42L1683.76 880.06L1691.05 874.6L1698.33 878.24L1701.97 883.7L1705.61 890.99L1707.44 894.63L1701.97 896.45L1696.51 892.81L1691.05 890.99L1685.58 892.81L1680.12 896.45L1676.48 903.73L1674.66 912.84L1671.02 916.48L1667.37 911.02L1665.55 901.91L1661.91 894.63L1654.63 892.81L1647.34 894.63zM1634.6 938.33L1640.06 927.41L1641.88 914.66L1649.17 911.02L1654.63 918.3L1660.09 925.58L1665.55 931.05L1672.84 929.23L1680.12 931.05L1685.58 925.58L1685.58 934.69L1680.12 941.97L1676.48 949.26L1672.84 956.54L1667.37 963.82L1665.55 974.75L1661.91 983.85L1654.63 991.14L1649.17 989.32L1645.52 982.03L1641.88 974.75L1636.42 967.47L1633.69 958.36zM1687.41 925.58L1692.87 921.94L1701.97 923.76L1707.44 929.23L1712.9 934.69L1720.18 936.51L1723.82 940.15L1716.54 947.44L1709.26 951.08L1701.97 951.08L1694.69 949.26L1689.23 943.79L1685.58 936.51zM1722 925.58L1725.64 909.2L1732.93 907.37L1734.75 920.12L1742.03 918.3L1749.32 912.84L1758.42 907.37L1763.88 912.84L1771.17 920.12L1778.45 929.23L1782.09 934.69L1778.45 941.97L1772.99 949.26L1767.53 956.54L1758.42 962L1749.32 960.18L1742.03 963.82L1734.75 960.18L1727.47 952.9L1723.82 941.97z" fill="#c09a90" stroke="#c09a90" stroke-width="3" stroke-linejoin="round"/>
</g>
<path d="M1660.09 876.42L1664.64 870.05L1671.02 877.33zM1716.54 906.46L1722.91 896.45L1730.2 894.63L1733.84 900.09L1728.38 910.11L1721.09 912.84zM1742.94 964.73L1751.14 966.56L1757.51 964.73L1763.88 956.54L1770.26 949.26L1772.99 951.99L1766.62 961.09L1760.24 969.29L1751.14 972.02L1743.85 970.2zM1669.2 1015.72L1674.66 1012.99L1679.21 1004.8L1680.12 998.42L1683.76 1000.24L1682.85 1009.35L1678.3 1017.54L1671.93 1019.36zM1707.44 1001.15L1712.9 1000.24L1715.63 1008.44L1711.08 1010.26zM1726.56 1002.97L1733.84 1000.24L1735.66 1003.88L1728.38 1006.62zM1630.96 913.75L1641.88 913.75L1642.79 917.39L1631.87 918.3z" fill="#c09a90"/>
<path d="M1663.76 874.31h0M1663.8 874h0M1668.64 878.38h0M1663.27 872.35h0M1662.11 875.38h0M1667.81 874.36h0M1670.58 874.73h0M1722.31 900.91h0M1720.75 905.15h0M1724.75 897.91h0M1726.68 896.56h0M1723.95 899.38h0M1731.27 900.82h0M1725.76 908.49h0M1731.63 903.6h0M1729.59 903.09h0M1722.49 909.77h0M1724.26 909.42h0M1719.87 908.52h0M1719.81 908.74h0M1749.38 968.42h0M1749.09 967.5h0M1753 967.15h0M1761.55 962.1h0M1764.25 958.52h0M1766.96 957.34h0M1766.42 957.76h0M1769.69 950.77h0M1765.62 958.62h0M1766.8 954.35h0M1768.33 955.27h0M1763.46 961.63h0M1764.44 960.06h0M1752.31 970.29h0M1754.61 968.32h0M1747.17 968.89h0M1750.44 969.68h0M1745.14 967.76h0M1672.7 1017.79h0M1681 1006.96h0M1678.24 1008.04h0M1682.6 999.84h0M1678.96 1002.3h0M1680.27 1001.52h0M1680.89 1001.94h0M1679.91 1010.57h0M1677.97 1012.36h0M1677.15 1015.54h0M1671.63 1015.88h0M1709.99 1003.15h0M1713.21 1008.13h0M1713.5 1006.18h0M1712.38 1008.56h0M1709.12 1001.93h0M1711.93 1003.78h0M1728.8 1005.42h0M1731.86 1003.86h0M1733.07 1003.88h0M1733.89 1003.76h0M1732.23 1003.06h0M1729.51 1005.42h0M1638.27 915.58h0M1638.35 917.14h0M1635.43 915.36h0M1640.57 916.17h0M1642.28 913.54h0M1640.94 915.19h0M1631.72 915.38h0M1633.48 916.65h0" stroke="#c09a90" stroke-width="7" stroke-linecap="round" fill="none"/>
<path d="M1706.53 883.7L1712.9 885.52L1719.27 887.71" stroke="#c09a90" stroke-width="7.2" stroke-linecap="round" stroke-linejoin="round" fill="none"/>
<path d="M1676.48 938.33L1681.94 934.69" stroke="#c09a90" stroke-width="7.2" stroke-linecap="round" stroke-linejoin="round" fill="none"/>
<path d="M1649.17 994.78L1652.81 996.97" stroke="#c09a90" stroke-width="7.2" stroke-linecap="round" stroke-linejoin="round" fill="none"/>
<path d="M1663.73 982.03L1665.92 986.59" stroke="#c09a90" stroke-width="7.2" stroke-linecap="round" stroke-linejoin="round" fill="none"/>
<path d="M1731.11 982.03L1736.57 983.85" stroke="#c09a90" stroke-width="7.2" stroke-linecap="round" stroke-linejoin="round" fill="none"/>
<path d="M1687.41 894.63L1694.69 900.09" stroke="#c09a90" stroke-width="7.2" stroke-linecap="round" stroke-linejoin="round" fill="none"/>
<path d="M1630.96 949.26L1632.78 951.99" stroke="#c09a90" stroke-width="7.2" stroke-linecap="round" stroke-linejoin="round" fill="none"/>
<path d="M1680.12 949.26L1685.58 949.26" stroke="#c09a90" stroke-width="7.2" stroke-linecap="round" stroke-linejoin="round" fill="none"/>
<path d="M1643.7 916.48L1654.63 912.84" stroke="#c09a90" stroke-width="7.2" stroke-linecap="round" stroke-linejoin="round" fill="none"/>
<path d="M1638.24 890.99L1645.52 881.88L1649.17 876.42L1656.45 876.42L1663.73 878.24L1672.84 872.78L1678.3 876.42L1683.76 880.06L1691.05 874.6L1698.33 878.24L1701.97 883.7L1705.61 890.99L1707.44 894.63L1701.97 896.45L1696.51 892.81L1691.05 890.99L1685.58 892.81L1680.12 896.45L1676.48 903.73L1674.66 912.84L1671.02 916.48L1667.37 911.02L1665.55 901.91L1661.91 894.63L1654.63 892.81L1647.34 894.63zM1634.6 938.33L1640.06 927.41L1641.88 914.66L1649.17 911.02L1654.63 918.3L1660.09 925.58L1665.55 931.05L1672.84 929.23L1680.12 931.05L1685.58 925.58L1685.58 934.69L1680.12 941.97L1676.48 949.26L1672.84 956.54L1667.37 963.82L1665.55 974.75L1661.91 983.85L1654.63 991.14L1649.17 989.32L1645.52 982.03L1641.88 974.75L1636.42 967.47L1633.69 958.36zM1687.41 925.58L1692.87 921.94L1701.97 923.76L1707.44 929.23L1712.9 934.69L1720.18 936.51L1723.82 940.15L1716.54 947.44L1709.26 951.08L1701.97 951.08L1694.69 949.26L1689.23 943.79L1685.58 936.51zM1722 925.58L1725.64 909.2L1732.93 907.37L1734.75 920.12L1742.03 918.3L1749.32 912.84L1758.42 907.37L1763.88 912.84L1771.17 920.12L1778.45 929.23L1782.09 934.69L1778.45 941.97L1772.99 949.26L1767.53 956.54L1758.42 962L1749.32 960.18L1742.03 963.82L1734.75 960.18L1727.47 952.9L1723.82 941.97zM1698.33 980.21L1703.79 983.85L1711.08 985.68L1718.36 989.32L1725.64 992.96L1727.47 996.6L1720.18 1000.24L1712.9 994.78L1705.61 991.14L1700.15 987.5zM1712.9 974.75L1720.18 970.2L1727.47 972.93L1731.11 974.75L1725.64 978.39zM1671.02 1000.24L1676.48 994.78L1680.12 992.96L1683.76 1000.24L1685.58 1009.35L1687.41 1018.45L1681.94 1016.63L1678.3 1009.35L1672.84 1003.88zM1720.18 1011.17L1724.73 1011.17L1725.64 1015.72L1721.09 1016.63z" fill="#ff1e0e"/>
<path d="M1642.2 891.75h0M1641.07 886.59h0M1644.44 885.99h0M1650.49 880.03h0M1651.44 877.99h0M1650.54 879.52h0M1660.18 880.28h0M1661.14 878.05h0M1673.62 875.36h0M1670.05 876.92h0M1665.4 878.78h0M1672.72 876.42h0M1681.35 878.09h0M1689.12 878.89h0M1685.35 879.14h0M1692.92 877.66h0M1696.86 879.52h0M1697.47 884.24h0M1703.51 890.46h0M1700.06 886.88h0M1704.73 895.67h0M1702.7 894.2h0M1698.61 890.7h0M1692.47 891.14h0M1690.01 889.59h0M1679.85 894.98h0M1677.78 898.13h0M1675.18 899.29h0M1673.38 907.73h0M1673.4 909.31h0M1672.89 911.98h0M1673.5 914.43h0M1670.69 909.66h0M1666.54 902.4h0M1664.67 898.34h0M1667.59 898.96h0M1655.58 891.23h0M1656.99 891.09h0M1652.89 892.63h0M1650.34 891.25h0M1642.51 890.46h0M1640.93 890.46h0M1636.43 935.96h0M1638.82 935.41h0M1641.79 932.64h0M1643.05 923h0M1644.62 917.17h0M1644.99 915.27h0M1648.72 911.63h0M1643.53 917.71h0M1653.21 919.17h0M1647.74 914.98h0M1655.99 924.03h0M1655.26 921.74h0M1663.98 932.44h0M1663.77 932.79h0M1670.51 930.25h0M1667.71 931.14h0M1675.45 932.26h0M1678.39 933.2h0M1682.7 932.69h0M1684.95 928.7h0M1683.23 925.94h0M1681.98 929.23h0M1682.43 934.84h0M1681.29 935.74h0M1675.83 948.79h0M1673.66 945.57h0M1674.29 950.73h0M1670.17 954.45h0M1664.67 960.89h0M1669.45 959.2h0M1665.82 970.01h0M1663.98 968.94h0M1664.78 967.61h0M1661.8 977.86h0M1663.58 974.06h0M1656.3 985.82h0M1656.36 982.88h0M1653.57 989.33h0M1650.26 987.09h0M1650.41 983.53h0M1645.46 977.7h0M1644.32 977.03h0M1642.19 968.78h0M1641.27 973.02h0M1635.72 958.24h0M1638.7 963.59h0M1634.75 943.7h0M1637.06 944.33h0M1636.1 957.97h0M1637.28 947.95h0M1635.92 944.37h0M1692.42 924.09h0M1698.61 925.64h0M1693.09 922.98h0M1704.74 930.77h0M1702.88 928.16h0M1705.77 930.99h0M1710.64 935.59h0M1717.76 938.75h0M1713.85 936.37h0M1717.63 939.84h0M1716.63 945.33h0M1716.55 942.26h0M1712.31 946.73h0M1708.77 947.37h0M1705.34 948.54h0M1708.03 948.89h0M1701.41 948.66h0M1696.03 945.27h0M1695.07 945.34h0M1691.32 942.88h0M1688.87 939.57h0M1690.92 942.29h0M1687.34 934.14h0M1689.72 928.37h0M1688.78 933.54h0M1723.73 924.48h0M1723.77 923.83h0M1726.17 919.41h0M1723.78 920.71h0M1729.37 908.37h0M1726.61 912.03h0M1731.59 916.64h0M1730.64 915.82h0M1729.99 910.45h0M1737.83 922.69h0M1736.26 922.92h0M1746.67 916.16h0M1744.57 920.65h0M1754.7 910.61h0M1752.57 914.08h0M1755.16 910.91h0M1756.35 911.81h0M1757.75 909.36h0M1763.43 915.82h0M1766.66 920.08h0M1772.04 922.63h0M1775.39 930.59h0M1774.94 926.25h0M1779.15 934.26h0M1780.19 938.65h0M1779.18 933.31h0M1774.84 944.38h0M1771.29 944.61h0M1767.91 954.08h0M1770.03 949.83h0M1759.37 958.55h0M1763.52 958.37h0M1766.33 955.11h0M1752.59 958.3h0M1754.75 958.08h0M1746.86 959.18h0M1744.32 958.64h0M1738.29 960.36h0M1737.11 957.64h0M1732.56 953.01h0M1730.76 952.56h0M1728.04 948.75h0M1726.55 942.47h0M1727.52 947.91h0M1723.95 927.27h0M1726.07 932.76h0M1725.89 938.51h0M1728.04 939.28h0M1699.08 985.25h0M1710.2 986.37h0M1706.77 986.8h0M1716.07 992.28h0M1716.56 992.18h0M1723.66 995.37h0M1720.53 989.92h0M1724.37 995.72h0M1719.27 998.08h0M1721.41 998.17h0M1715.41 993.06h0M1717.52 994.55h0M1712.69 989.85h0M1712.22 991.57h0M1702.83 987.28h0M1703.44 982.71h0M1702.18 985.43h0M1719.27 972.48h0M1714.4 976.95h0M1725.92 975.39h0M1725.81 973.92h0M1726.66 974.79h0M1730.14 974.77h0M1717.65 974.6h0M1716.78 972.55h0M1719.5 973.13h0M1677.46 997.14h0M1677.94 996.64h0M1679.05 995.8h0M1678.65 995.22h0M1680.86 998.21h0M1682.8 1003.95h0M1680.85 1000.87h0M1683.18 1019.16h0M1686.65 1018.22h0M1687.64 1017.04h0M1684.24 1011.2h0M1681.65 1012.12h0M1679.09 1004.86h0M1677.44 1007.19h0M1673.86 1000.26h0M1722.21 1013.97h0M1722.33 1012.27h0M1722.52 1012.81h0M1722.74 1010.95h0" stroke="#ff1e0e" stroke-width="7" stroke-linecap="round" fill="none"/>
<path d="M1681.94 862.76h0M1656.45 903.73h0M1685.58 902.82h0M1658.27 996.6h0M1660.09 1000.24h0M1656.45 1002.06h0M1674.66 980.21h0M1680.12 978.39h0M1683.76 976.57h0M1687.41 990.23h0M1740.21 985.68h0M1747.5 983.85h0M1747.5 976.57h0M1725.64 952.9h0M1731.11 958.36h0M1717.45 925.22h0M1640.06 891.9h0M1691.05 876.42h0M1633.69 955.63h0M1732.93 973.84h0M1726.56 984.76h0" stroke="#ff1e0e" stroke-width="7" stroke-linecap="round" fill="none"/>
<rect x="1474.4" y="664.7" width="521.1" height="483.6" fill="none" stroke="#333" stroke-width="1.1"/>
<path d="M1474.4 1148.3v7.5M1623.29 1148.3v7.5M1772.17 1148.3v7.5M1921.06 1148.3v7.5M1474.4 1148.3h-7.5M1474.4 1010.13h-7.5M1474.4 871.96h-7.5M1474.4 733.79h-7.5" stroke="#000" stroke-width="2" fill="none"/>
<text transform="translate(1474.4 1180.3) scale(1 1.065)" font-size="27.8" text-anchor="middle" font-family='"Liberation Sans", "DejaVu Sans", sans-serif' fill="#000">−1.5</text>
<text transform="translate(1623.29 1180.3) scale(1 1.065)" font-size="27.8" text-anchor="middle" font-family='"Liberation Sans", "DejaVu Sans", sans-serif' fill="#000">−0.5</text>
<text transform="translate(1772.17 1180.3) scale(1 1.065)" font-size="27.8" text-anchor="middle" font-family='"Liberation Sans", "DejaVu Sans", sans-serif' fill="#000">0.5</text>
<text transform="translate(1921.06 1180.3) scale(1 1.065)" font-size="27.8" text-anchor="middle" font-family='"Liberation Sans", "DejaVu Sans", sans-serif' fill="#000">1.5</text>
<text transform="translate(1463.8 1159.2) scale(1 1.065)" font-size="27.8" text-anchor="end" font-family='"Liberation Sans", "DejaVu Sans", sans-serif' fill="#000">−1.5</text>
<text transform="translate(1463.8 1021.03) scale(1 1.065)" font-size="27.8" text-anchor="end" font-family='"Liberation Sans", "DejaVu Sans", sans-serif' fill="#000">−0.5</text>
<text transform="translate(1463.8 882.86) scale(1 1.065)" font-size="27.8" text-anchor="end" font-family='"Liberation Sans", "DejaVu Sans", sans-serif' fill="#000">0.5</text>
<text transform="translate(1463.8 744.69) scale(1 1.065)" font-size="27.8" text-anchor="end" font-family='"Liberation Sans", "DejaVu Sans", sans-serif' fill="#000">1.5</text>
<circle cx="1855.8" cy="682" r="7.3" fill="#5994c8" stroke="#4a86c0" stroke-width="1.8"/>
<text transform="translate(1876 688.5) scale(1 1.060)" font-size="22.4" text-anchor="start" font-family='"Liberation Sans", "DejaVu Sans", sans-serif' fill="#000">UNEP-v1</text>
<circle cx="1855.8" cy="716" r="7.3" fill="#f09850" stroke="#f08838" stroke-width="1.8"/>
<text transform="translate(1876 721.5) scale(1 1.060)" font-size="22.4" text-anchor="start" font-family='"Liberation Sans", "DejaVu Sans", sans-serif' fill="#000">Test-1</text>
<circle cx="1855.8" cy="749.2" r="7.3" fill="#f2ea48" stroke="#ecdc3c" stroke-width="1.8"/>
<text transform="translate(1876 755.1) scale(1 1.060)" font-size="22.4" text-anchor="start" font-family='"Liberation Sans", "DejaVu Sans", sans-serif' fill="#000">Test-2</text>
<circle cx="1855.8" cy="782.6" r="7.3" fill="#9a3ab4" stroke="#8c28a8" stroke-width="1.8"/>
<text transform="translate(1876 789.1) scale(1 1.060)" font-size="22.4" text-anchor="start" font-family='"Liberation Sans", "DejaVu Sans", sans-serif' fill="#000">Test-3</text>
<circle cx="1855.8" cy="816.3" r="7.3" fill="#ff4040" stroke="#ff3030" stroke-width="1.8"/>
<text transform="translate(1876 823) scale(1 1.060)" font-size="22.4" text-anchor="start" font-family='"Liberation Sans", "DejaVu Sans", sans-serif' fill="#000">MP-ternary</text>
<circle cx="1855.8" cy="847" r="7.3" fill="#ccaea8" stroke="#c4a29c" stroke-width="1.8"/>
<text transform="translate(1876 856.2) scale(1 1.060)" font-size="22.4" text-anchor="start" font-family='"Liberation Sans", "DejaVu Sans", sans-serif' fill="#000">GNoME</text>
<text transform="translate(1734 1222) scale(1 1.065)" font-size="27.6" text-anchor="middle" font-family='"Liberation Sans", "DejaVu Sans", sans-serif' fill="#000">PC-1</text>
<text x="1400" y="909" font-size="27.5" text-anchor="middle" font-family='"Liberation Sans", "DejaVu Sans", sans-serif' transform="rotate(-90 1400 909)" fill="#000">PC-2</text>
</svg></body></html>
